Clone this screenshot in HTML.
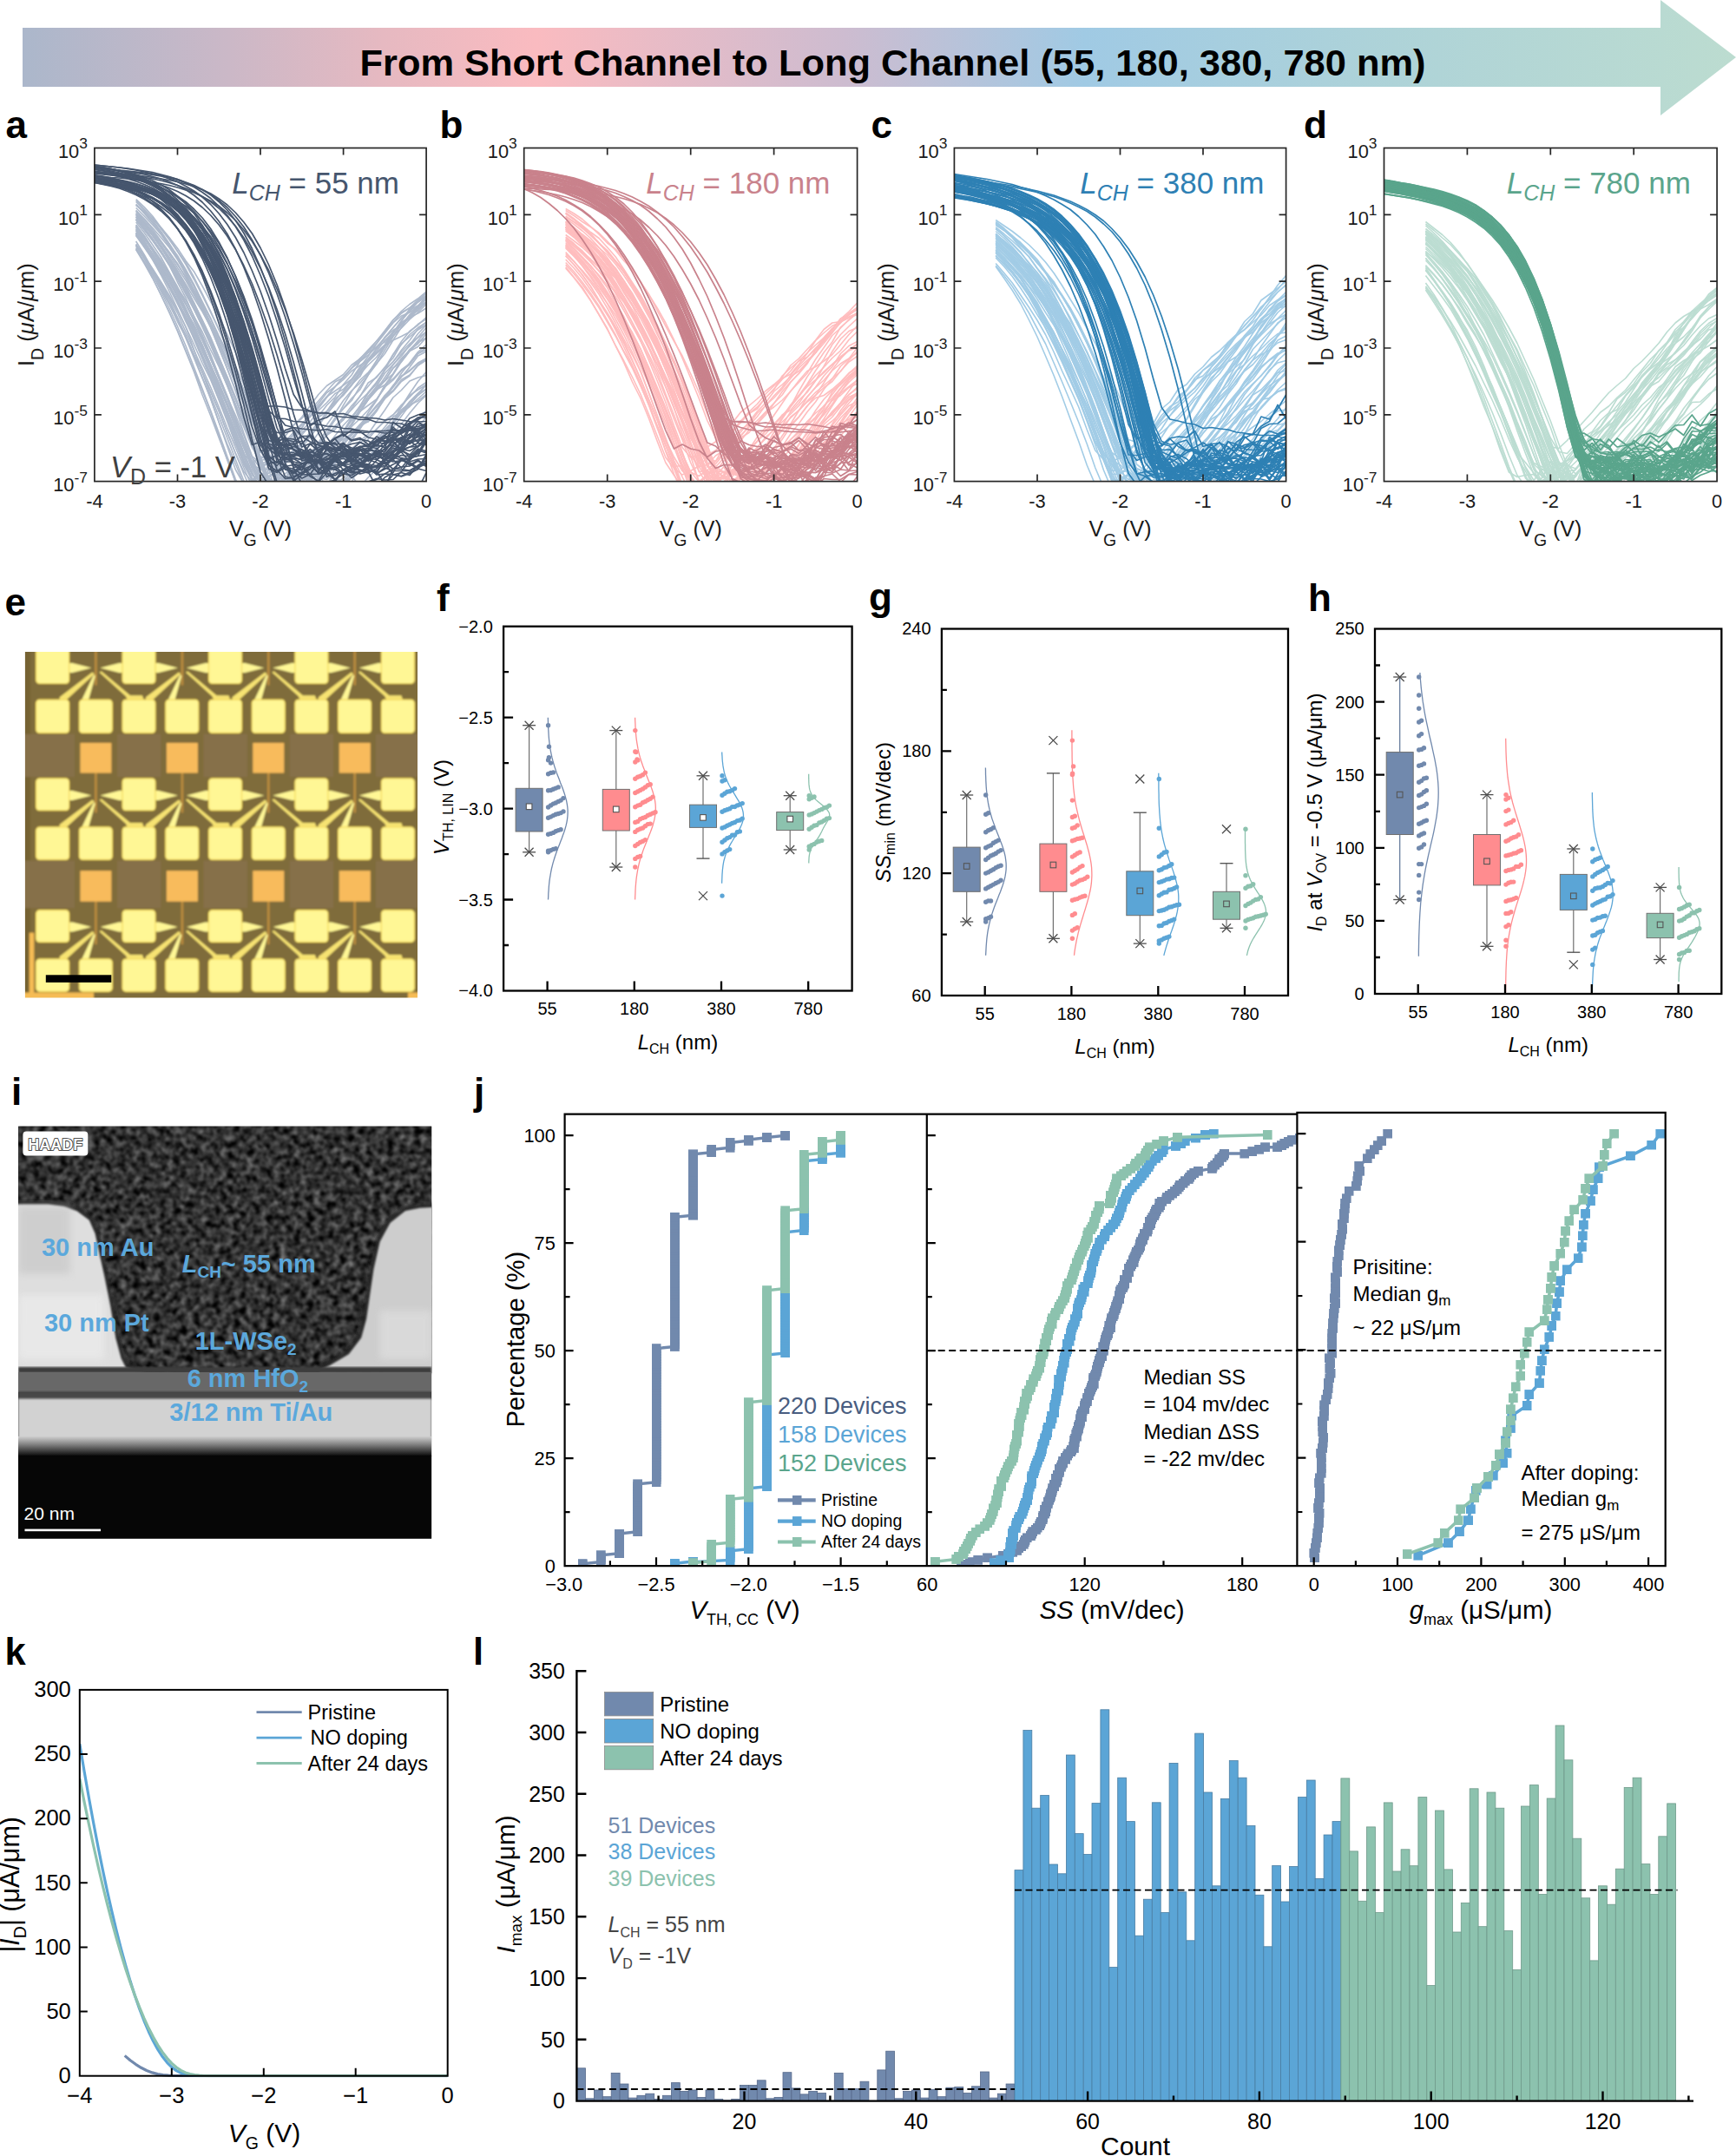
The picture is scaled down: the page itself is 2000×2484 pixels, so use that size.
<!DOCTYPE html>
<html><head><meta charset="utf-8"><title>Figure</title>
<style>html,body{margin:0;padding:0;background:#fff}svg{display:block}text{font-family:"Liberation Sans", Arial, Helvetica, sans-serif}</style>
</head><body>
<svg width="2000" height="2484" viewBox="0 0 2000 2484">
<rect width="2000" height="2484" fill="#fff"/>
<defs><linearGradient id="hg" gradientUnits="userSpaceOnUse" x1="26" y1="0" x2="2000" y2="0"><stop offset="0" stop-color="#ABB7CB"/><stop offset="0.12" stop-color="#CBB8C7"/><stop offset="0.21" stop-color="#E6B9C1"/><stop offset="0.30" stop-color="#FABBC0"/><stop offset="0.48" stop-color="#CDBCD0"/><stop offset="0.62" stop-color="#A0CAE4"/><stop offset="0.80" stop-color="#AED3D8"/><stop offset="1" stop-color="#BCDCD0"/></linearGradient></defs>
<path d="M26 32H1913V0L2000 66L1913 133V100H26Z" fill="url(#hg)"/>
<text x="414.5" y="87.3" font-size="43" font-weight="bold" textLength="1228" lengthAdjust="spacingAndGlyphs">From Short Channel to Long Channel (55, 180, 380, 780 nm)</text>
<clipPath id="cpa"><rect x="0" y="0" width="40" height="768.2"/></clipPath>
<g clip-path="url(#cpa)" fill="none" stroke="#ADB9CB" stroke-width="1.6" stroke-linejoin="round" transform="translate(108.90,170.50) scale(9.5550,0.5)">
<path vector-effect="non-scaling-stroke" d="M5 234 6 266 7 300 8 338 9 379 10 422 11 469 12 516 13 569 14 617 15 668 16 718 17 770 18 791 19 811 20 820 21 788 22 759 23 762 24 774 25 745 26 740 27 721 28 703 29 687 30 665 31 642 32 624 33 604 34 580 35 551 36 535 37 513 38 499 39 474 40 465"/>
<path vector-effect="non-scaling-stroke" d="M5 164 6 187 7 213 8 239 9 269 10 303 11 334 12 370 13 407 14 453 15 501 16 548 17 596 18 643 19 690 20 720 21 716 22 696 23 676 24 655 25 635 26 617 27 594 28 573 29 550 30 530 31 507 32 489 33 472 34 458 35 438 36 414 37 392 38 374 39 363 40 345"/>
<path vector-effect="non-scaling-stroke" d="M5 187 6 214 7 244 8 279 9 316 10 352 11 395 12 441 13 486 14 531 15 579 16 627 17 679 18 730 19 765 20 798 21 800 22 783 23 775 24 759 25 739 26 727 27 709 28 686 29 663 30 639 31 619 32 597 33 578 34 557 35 546 36 532 37 511 38 497 39 473 40 460"/>
<path vector-effect="non-scaling-stroke" d="M5 195 6 222 7 251 8 283 9 317 10 357 11 400 12 438 13 480 14 520 15 568 16 618 17 669 18 714 19 763 20 761 21 798 22 792 23 777 24 753 25 733 26 705 27 686 28 662 29 641 30 620 31 594 32 573 33 541 34 529 35 505 36 484 37 451 38 435 39 419 40 407"/>
<path vector-effect="non-scaling-stroke" d="M5 144 6 165 7 188 8 214 9 240 10 269 11 297 12 330 13 365 14 408 15 452 16 498 17 543 18 584 19 629 20 675 21 727 22 760 23 735 24 777 25 797 26 767 27 772 28 797 29 760 30 770 31 743 32 718 33 703 34 676 35 649 36 631 37 608 38 584 39 565 40 547"/>
<path vector-effect="non-scaling-stroke" d="M5 190 6 218 7 249 8 283 9 317 10 351 11 393 12 437 13 482 14 527 15 574 16 625 17 677 18 723 19 767 20 794 21 769 22 785 23 787 24 794 25 773 26 782 27 765 28 727 29 727 30 699 31 668 32 646 33 610 34 582 35 546 36 521 37 491 38 464 39 448 40 439"/>
<path vector-effect="non-scaling-stroke" d="M5 181 6 205 7 233 8 261 9 296 10 327 11 361 12 399 13 441 14 487 15 532 16 578 17 629 18 676 19 722 20 749 21 756 22 747 23 729 24 699 25 683 26 659 27 636 28 608 29 578 30 562 31 539 32 517 33 490 34 473 35 456 36 432 37 407 38 387 39 368 40 348"/>
<path vector-effect="non-scaling-stroke" d="M5 180 6 207 7 236 8 269 9 306 10 344 11 381 12 424 13 466 14 511 15 557 16 611 17 668 18 723 19 761 20 774 21 784 22 797 23 785 24 807 25 813 26 777 27 781 28 769 29 781 30 777 31 753 32 735 33 711 34 691 35 658 36 634 37 610 38 596 39 578 40 561"/>
<path vector-effect="non-scaling-stroke" d="M5 188 6 210 7 233 8 262 9 289 10 322 11 351 12 388 13 424 14 465 15 504 16 547 17 593 18 640 19 682 20 711 21 717 22 709 23 692 24 671 25 651 26 631 27 605 28 587 29 566 30 556 31 534 32 513 33 493 34 474 35 456 36 443 37 434 38 424 39 406 40 394"/>
<path vector-effect="non-scaling-stroke" d="M5 230 6 263 7 299 8 338 9 377 10 420 11 466 12 513 13 559 14 608 15 663 16 718 17 769 18 778 19 767 20 742 21 721 22 706 23 688 24 659 25 638 26 620 27 600 28 575 29 550 30 534 31 514 32 501 33 488 34 471 35 453 36 423 37 408 38 387 39 375 40 355"/>
<path vector-effect="non-scaling-stroke" d="M5 191 6 217 7 244 8 276 9 306 10 340 11 374 12 418 13 458 14 500 15 544 16 592 17 644 18 691 19 740 20 774 21 815 22 810 23 801 24 802 25 783 26 750 27 725 28 700 29 676 30 653 31 621 32 595 33 565 34 544 35 512 36 476 37 446 38 422 39 408 40 390"/>
<path vector-effect="non-scaling-stroke" d="M5 202 6 229 7 257 8 288 9 322 10 359 11 395 12 433 13 476 14 522 15 564 16 607 17 654 18 704 19 747 20 785 21 740 22 802 23 795 24 808 25 785 26 781 27 777 28 723 29 725 30 700 31 675 32 643 33 617 34 593 35 575 36 549 37 519 38 495 39 470 40 453"/>
<path vector-effect="non-scaling-stroke" d="M5 177 6 202 7 232 8 262 9 295 10 332 11 374 12 417 13 459 14 507 15 559 16 614 17 669 18 721 19 748 20 787 21 764 22 776 23 771 24 768 25 762 26 794 27 812 28 779 29 763 30 794 31 755 32 781 33 759 34 741 35 721 36 698 37 684 38 664 39 643 40 620"/>
<path vector-effect="non-scaling-stroke" d="M5 159 6 183 7 209 8 239 9 270 10 309 11 345 12 389 13 431 14 476 15 525 16 574 17 632 18 684 19 733 20 738 21 742 22 726 23 703 24 683 25 656 26 641 27 618 28 593 29 574 30 545 31 523 32 492 33 477 34 459 35 447 36 426 37 399 38 371 39 350 40 342"/>
<path vector-effect="non-scaling-stroke" d="M5 144 6 163 7 184 8 206 9 229 10 257 11 289 12 327 13 363 14 403 15 445 16 489 17 530 18 577 19 621 20 676 21 725 22 763 23 796 24 808 25 788 26 762 27 755 28 737 29 714 30 684 31 662 32 641 33 624 34 604 35 578 36 561 37 538 38 525 39 501 40 486"/>
<path vector-effect="non-scaling-stroke" d="M5 198 6 220 7 244 8 272 9 306 10 341 11 375 12 407 13 444 14 486 15 530 16 574 17 616 18 663 19 712 20 761 21 773 22 783 23 766 24 799 25 773 26 742 27 745 28 727 29 713 30 681 31 657 32 638 33 631 34 607 35 577 36 551 37 526 38 512 39 495 40 485"/>
<path vector-effect="non-scaling-stroke" d="M5 138 6 157 7 177 8 199 9 226 10 254 11 287 12 316 13 358 14 394 15 436 16 472 17 519 18 570 19 622 20 673 21 721 22 767 23 805 24 798 25 768 26 757 27 726 28 707 29 684 30 664 31 636 32 608 33 580 34 557 35 529 36 500 37 475 38 457 39 436 40 414"/>
<path vector-effect="non-scaling-stroke" d="M5 146 6 169 7 195 8 224 9 252 10 283 11 317 12 359 13 401 14 445 15 492 16 542 17 593 18 638 19 680 20 702 21 689 22 678 23 655 24 639 25 620 26 594 27 568 28 548 29 535 30 522 31 500 32 486 33 465 34 445 35 421 36 396 37 379 38 369 39 355 40 340"/>
<path vector-effect="non-scaling-stroke" d="M5 197 6 223 7 252 8 283 9 314 10 353 11 387 12 428 13 467 14 513 15 561 16 605 17 652 18 701 19 749 20 788 21 801 22 805 23 782 24 753 25 723 26 704 27 682 28 650 29 622 30 601 31 582 32 550 33 523 34 498 35 466 36 435 37 406 38 389 39 365 40 349"/>
<path vector-effect="non-scaling-stroke" d="M5 201 6 225 7 249 8 277 9 308 10 343 11 376 12 415 13 455 14 499 15 541 16 587 17 635 18 682 19 727 20 777 21 770 22 802 23 807 24 786 25 796 26 801 27 796 28 780 29 786 30 776 31 760 32 729 33 712 34 694 35 678 36 658 37 636 38 611 39 588 40 570"/>
<path vector-effect="non-scaling-stroke" d="M5 199 6 224 7 253 8 282 9 320 10 351 11 390 12 422 13 468 14 510 15 562 16 609 17 662 18 706 19 724 20 717 21 704 22 682 23 664 24 638 25 623 26 604 27 583 28 560 29 539 30 529 31 508 32 492 33 469 34 451 35 422 36 397 37 376 38 360 39 347 40 331"/>
<path vector-effect="non-scaling-stroke" d="M5 195 6 226 7 257 8 292 9 330 10 371 11 413 12 465 13 517 14 571 15 619 16 668 17 718 18 767 19 815 20 802 21 820 22 820 23 820 24 794 25 790 26 762 27 739 28 709 29 684 30 656 31 626 32 607 33 593 34 579 35 552 36 522 37 492 38 468 39 444 40 423"/>
<path vector-effect="non-scaling-stroke" d="M5 159 6 179 7 202 8 228 9 258 10 289 11 323 12 357 13 398 14 439 15 483 16 527 17 574 18 626 19 680 20 731 21 772 22 806 23 810 24 792 25 781 26 765 27 755 28 733 29 705 30 675 31 658 32 643 33 628 34 603 35 573 36 547 37 526 38 514 39 497 40 485"/>
<path vector-effect="non-scaling-stroke" d="M5 222 6 251 7 281 8 311 9 344 10 380 11 424 12 467 13 508 14 551 15 597 16 645 17 690 18 737 19 781 20 798 21 820 22 820 23 817 24 820 25 817 26 806 27 805 28 783 29 776 30 760 31 744 32 726 33 697 34 677 35 657 36 644 37 618 38 592 39 570 40 555"/>
<path vector-effect="non-scaling-stroke" d="M5 215 6 246 7 280 8 315 9 349 10 390 11 432 12 479 13 528 14 578 15 632 16 682 17 728 18 775 19 800 20 787 21 777 22 781 23 758 24 738 25 707 26 682 27 657 28 638 29 611 30 582 31 559 32 542 33 519 34 490 35 459 36 433 37 415 38 395 39 379 40 360"/>
<path vector-effect="non-scaling-stroke" d="M5 233 6 262 7 293 8 326 9 360 10 397 11 433 12 477 13 516 14 560 15 605 16 657 17 703 18 746 19 769 20 792 21 786 22 802 23 761 24 784 25 780 26 809 27 787 28 792 29 763 30 774 31 752 32 730 33 703 34 684 35 656 36 630 37 596 38 566 39 538 40 516"/>
<path vector-effect="non-scaling-stroke" d="M5 132 6 147 7 164 8 183 9 206 10 231 11 260 12 285 13 318 14 354 15 389 16 429 17 471 18 519 19 568 20 616 21 668 22 718 23 738 24 764 25 765 26 749 27 761 28 727 29 703 30 718 31 692 32 680 33 664 34 648 35 630 36 615 37 597 38 570 39 557 40 546"/>
<path vector-effect="non-scaling-stroke" d="M5 118 6 136 7 157 8 183 9 207 10 238 11 264 12 298 13 336 14 376 15 418 16 463 17 511 18 559 19 606 20 655 21 705 22 733 23 791 24 820 25 788 26 804 27 794 28 780 29 749 30 748 31 741 32 722 33 689 34 673 35 649 36 630 37 603 38 587 39 567 40 556"/>
<path vector-effect="non-scaling-stroke" d="M5 150 6 173 7 199 8 227 9 261 10 296 11 333 12 372 13 412 14 454 15 496 16 544 17 600 18 657 19 710 20 727 21 722 22 711 23 702 24 688 25 661 26 639 27 621 28 607 29 586 30 569 31 545 32 518 33 489 34 468 35 443 36 425 37 405 38 393 39 371 40 356"/>
<path vector-effect="non-scaling-stroke" d="M5 130 6 151 7 173 8 196 9 223 10 255 11 292 12 329 13 370 14 413 15 461 16 509 17 560 18 616 19 673 20 727 21 769 22 777 23 809 24 820 25 795 26 766 27 766 28 756 29 724 30 731 31 712 32 695 33 671 34 648 35 628 36 615 37 592 38 574 39 553 40 540"/>
<path vector-effect="non-scaling-stroke" d="M5 121 6 141 7 161 8 186 9 211 10 238 11 268 12 303 13 340 14 379 15 419 16 458 17 502 18 545 19 591 20 635 21 674 22 684 23 678 24 661 25 646 26 610 27 589 28 564 29 550 30 527 31 507 32 485 33 468 34 445 35 424 36 402 37 381 38 368 39 350 40 333"/>
<path vector-effect="non-scaling-stroke" d="M5 171 6 195 7 223 8 251 9 286 10 320 11 358 12 395 13 436 14 481 15 528 16 577 17 626 18 673 19 713 20 738 21 720 22 705 23 690 24 667 25 644 26 618 27 597 28 573 29 560 30 547 31 533 32 505 33 480 34 451 35 427 36 403 37 387 38 379 39 365 40 355"/>
<path vector-effect="non-scaling-stroke" d="M5 124 6 144 7 166 8 192 9 220 10 251 11 283 12 320 13 362 14 405 15 449 16 491 17 541 18 593 19 646 20 696 21 738 22 759 23 762 24 771 25 750 26 767 27 748 28 785 29 735 30 757 31 772 32 722 33 734 34 742 35 719 36 690 37 671 38 647 39 623 40 605"/>
<path vector-effect="non-scaling-stroke" d="M5 163 6 185 7 209 8 236 9 267 10 297 11 336 12 372 13 411 14 450 15 489 16 532 17 578 18 625 19 672 20 718 21 759 22 780 23 771 24 755 25 743 26 714 27 686 28 660 29 644 30 627 31 600 32 572 33 549 34 527 35 507 36 476 37 453 38 430 39 414 40 402"/>
<path vector-effect="non-scaling-stroke" d="M5 178 6 204 7 235 8 265 9 296 10 330 11 369 12 411 13 453 14 500 15 547 16 593 17 643 18 690 19 728 20 764 21 749 22 738 23 715 24 695 25 680 26 666 27 640 28 614 29 588 30 570 31 547 32 521 33 500 34 482 35 456 36 425 37 402 38 390 39 381 40 369"/>
<path vector-effect="non-scaling-stroke" d="M5 184 6 206 7 231 8 258 9 289 10 323 11 358 12 398 13 435 14 479 15 525 16 571 17 622 18 673 19 723 20 757 21 809 22 810 23 777 24 764 25 745 26 738 27 719 28 700 29 678 30 655 31 624 32 595 33 563 34 540 35 512 36 493 37 466 38 443 39 417 40 401"/>
<path vector-effect="non-scaling-stroke" d="M5 166 6 189 7 213 8 241 9 269 10 300 11 336 12 369 13 409 14 446 15 492 16 533 17 579 18 626 19 678 20 723 21 765 22 788 23 779 24 820 25 808 26 802 27 759 28 764 29 747 30 752 31 731 32 716 33 688 34 666 35 643 36 620 37 607 38 592 39 583 40 568"/>
<path vector-effect="non-scaling-stroke" d="M5 154 6 177 7 201 8 228 9 259 10 293 11 327 12 363 13 403 14 445 15 492 16 541 17 590 18 636 19 684 20 735 21 727 22 745 23 718 24 709 25 683 26 654 27 632 28 613 29 591 30 566 31 545 32 527 33 491 34 462 35 437 36 420 37 408 38 384 39 365 40 340"/>
<path vector-effect="non-scaling-stroke" d="M5 222 6 251 7 283 8 318 9 355 10 393 11 438 12 484 13 531 14 577 15 632 16 687 17 741 18 775 19 767 20 812 21 792 22 751 23 796 24 797 25 747 26 744 27 754 28 759 29 727 30 711 31 695 32 675 33 659 34 631 35 604 36 575 37 558 38 537 39 529 40 524"/>
<path vector-effect="non-scaling-stroke" d="M5 159 6 179 7 202 8 230 9 256 10 288 11 320 12 357 13 396 14 436 15 482 16 528 17 580 18 628 19 682 20 732 21 777 22 786 23 774 24 757 25 740 26 709 27 679 28 649 29 627 30 593 31 561 32 535 33 517 34 497 35 474 36 443 37 413 38 387 39 368 40 345"/>
<path vector-effect="non-scaling-stroke" d="M5 226 6 255 7 286 8 321 9 359 10 400 11 436 12 476 13 516 14 562 15 607 16 655 17 704 18 751 19 794 20 789 21 820 22 820 23 811 24 804 25 820 26 785 27 795 28 810 29 787 30 769 31 746 32 722 33 700 34 681 35 659 36 636 37 610 38 587 39 569 40 544"/>
<path vector-effect="non-scaling-stroke" d="M5 166 6 189 7 213 8 238 9 268 10 301 11 332 12 367 13 403 14 445 15 488 16 533 17 577 18 624 19 670 20 720 21 766 22 802 23 815 24 789 25 781 26 755 27 742 28 708 29 684 30 652 31 628 32 605 33 578 34 549 35 519 36 499 37 480 38 454 39 428 40 408"/>
<path vector-effect="non-scaling-stroke" d="M5 130 6 149 7 170 8 194 9 221 10 248 11 280 12 315 13 354 14 392 15 433 16 471 17 513 18 557 19 605 20 652 21 701 22 748 23 771 24 787 25 792 26 769 27 762 28 732 29 725 30 703 31 674 32 648 33 618 34 596 35 570 36 551 37 528 38 505 39 479 40 469"/>
<path vector-effect="non-scaling-stroke" d="M5 183 6 208 7 237 8 269 9 301 10 337 11 375 12 417 13 460 14 506 15 557 16 608 17 660 18 709 19 754 20 768 21 728 22 767 23 750 24 740 25 757 26 730 27 720 28 697 29 682 30 660 31 635 32 600 33 572 34 550 35 536 36 507 37 493 38 468 39 458 40 437"/>
<path vector-effect="non-scaling-stroke" d="M5 153 6 172 7 194 8 217 9 240 10 266 11 299 12 335 13 371 14 402 15 439 16 480 17 526 18 569 19 614 20 660 21 707 22 739 23 763 24 757 25 734 26 715 27 693 28 659 29 624 30 600 31 577 32 557 33 523 34 491 35 455 36 427 37 398 38 376 39 355 40 342"/>
<path vector-effect="non-scaling-stroke" d="M5 156 6 177 7 200 8 224 9 252 10 283 11 314 12 346 13 377 14 412 15 453 16 495 17 539 18 582 19 625 20 671 21 717 22 759 23 792 24 789 25 782 26 750 27 732 28 711 29 689 30 666 31 637 32 608 33 580 34 559 35 536 36 508 37 485 38 466 39 451 40 428"/>
<path vector-effect="non-scaling-stroke" d="M5 151 6 170 7 192 8 218 9 245 10 276 11 305 12 339 13 374 14 414 15 459 16 508 17 557 18 606 19 658 20 711 21 760 22 774 23 758 24 746 25 728 26 704 27 680 28 662 29 649 30 622 31 603 32 582 33 564 34 540 35 511 36 492 37 470 38 451 39 437 40 424"/>
<path vector-effect="non-scaling-stroke" d="M5 200 6 226 7 254 8 285 9 318 10 352 11 390 12 427 13 467 14 507 15 551 16 596 17 643 18 690 19 734 20 769 21 759 22 745 23 724 24 714 25 690 26 666 27 638 28 607 29 582 30 560 31 533 32 509 33 486 34 463 35 436 36 414 37 392 38 374 39 354 40 335"/>
<path vector-effect="non-scaling-stroke" d="M5 224 6 251 7 278 8 308 9 339 10 374 11 412 12 453 13 496 14 534 15 581 16 630 17 682 18 726 19 761 20 787 21 794 22 783 23 777 24 762 25 763 26 741 27 727 28 700 29 680 30 656 31 639 32 607 33 579 34 554 35 537 36 520 37 488 38 466 39 445 40 438"/>
<path vector-effect="non-scaling-stroke" d="M5 223 6 255 7 291 8 330 9 369 10 411 11 456 12 506 13 555 14 605 15 657 16 711 17 763 18 807 19 820 20 808 21 820 22 820 23 816 24 798 25 777 26 760 27 730 28 707 29 684 30 671 31 659 32 637 33 616 34 595 35 574 36 559 37 534 38 523 39 501 40 489"/>
</g>
<g clip-path="url(#cpa)" fill="none" stroke="#46566E" stroke-width="1.7" stroke-linejoin="round" transform="translate(108.90,170.50) scale(9.5550,0.5)">
<path vector-effect="non-scaling-stroke" d="M0 68 1 71 2 74 3 78 4 83 5 89 6 96 7 105 8 115 9 128 10 144 11 163 12 186 13 213 14 246 15 284 16 328 17 379 18 435 19 498 20 565 21 635 22 656 23 656 24 650 25 689 26 681 27 684 28 690 29 695 30 694 31 703 32 728 33 708 34 708 35 693 36 632 37 645 38 633 39 622 40 616"/>
<path vector-effect="non-scaling-stroke" d="M0 43 1 45 2 48 3 52 4 56 5 61 6 67 7 75 8 85 9 96 10 111 11 129 12 151 13 178 14 210 15 248 16 293 17 345 18 403 19 468 20 539 21 612 22 672 23 691 24 694 25 708 26 725 27 750 28 736 29 765 30 741 31 731 32 732 33 738 34 734 35 726 36 753 37 756 38 747 39 740 40 711"/>
<path vector-effect="non-scaling-stroke" d="M0 65 1 67 2 70 3 74 4 78 5 83 6 89 7 97 8 107 9 118 10 133 11 151 12 173 13 199 14 231 15 270 16 314 17 366 18 424 19 488 20 555 21 605 22 623 23 624 24 630 25 631 26 635 27 637 28 641 29 642 30 646 31 647 32 651 33 653 34 654 35 657 36 655 37 658 38 648 39 629 40 647"/>
<path vector-effect="non-scaling-stroke" d="M0 73 1 76 2 80 3 84 4 89 5 96 6 105 7 115 8 128 9 144 10 164 11 189 12 219 13 255 14 298 15 348 16 405 17 470 18 541 19 617 20 694 21 731 22 745 23 731 24 748 25 727 26 726 27 719 28 727 29 709 30 703 31 728 32 744 33 749 34 739 35 718 36 712 37 689 38 664 39 658 40 647"/>
<path vector-effect="non-scaling-stroke" d="M0 44 1 47 2 50 3 54 4 59 5 66 6 73 7 83 8 94 9 109 10 128 11 151 12 179 13 212 14 252 15 299 16 353 17 414 18 481 19 554 20 632 21 707 22 771 23 782 24 811 25 793 26 788 27 796 28 781 29 769 30 740 31 744 32 751 33 746 34 781 35 759 36 748 37 714 38 718 39 703 40 670"/>
<path vector-effect="non-scaling-stroke" d="M0 75 1 77 2 80 3 82 4 86 5 90 6 94 7 100 8 107 9 117 10 128 11 142 12 160 13 182 14 209 15 242 16 281 17 327 18 380 19 439 20 506 21 578 22 645 23 684 24 679 25 704 26 720 27 723 28 711 29 703 30 682 31 691 32 693 33 705 34 716 35 711 36 691 37 698 38 689 39 680 40 682"/>
<path vector-effect="non-scaling-stroke" d="M0 59 1 61 2 63 3 65 4 68 5 71 6 75 7 80 8 85 9 92 10 100 11 110 12 122 13 137 14 155 15 177 16 203 17 234 18 271 19 313 20 362 21 416 22 477 23 543 24 613 25 673 26 723 27 751 28 749 29 755 30 741 31 749 32 746 33 734 34 751 35 737 36 744 37 744 38 744 39 734 40 724"/>
<path vector-effect="non-scaling-stroke" d="M0 70 1 73 2 76 3 79 4 83 5 88 6 95 7 103 8 113 9 125 10 141 11 161 12 185 13 215 14 251 15 294 16 344 17 402 18 467 19 538 20 614 21 674 22 679 23 666 24 695 25 709 26 682 27 698 28 687 29 670 30 694 31 713 32 694 33 697 34 683 35 691 36 683 37 671 38 659 39 679 40 648"/>
<path vector-effect="non-scaling-stroke" d="M0 57 1 59 2 62 3 65 4 68 5 72 6 77 7 83 8 91 9 100 10 111 11 124 12 141 13 161 14 186 15 217 16 253 17 296 18 346 19 403 20 469 21 541 22 619 23 691 24 736 25 735 26 757 27 767 28 737 29 741 30 730 31 740 32 741 33 746 34 744 35 775 36 753 37 748 38 754 39 731 40 720"/>
<path vector-effect="non-scaling-stroke" d="M0 39 1 41 2 43 3 45 4 48 5 51 6 55 7 59 8 64 9 71 10 78 11 88 12 99 13 113 14 130 15 151 16 176 17 206 18 241 19 283 20 330 21 384 22 444 23 509 24 568 25 598 26 606 27 611 28 611 29 613 30 612 31 618 32 620 33 622 34 623 35 627 36 624 37 627 38 630 39 631 40 630"/>
<path vector-effect="non-scaling-stroke" d="M0 49 1 52 2 55 3 60 4 65 5 71 6 78 7 87 8 98 9 111 10 127 11 146 12 170 13 197 14 230 15 269 16 314 17 365 18 422 19 487 20 557 21 633 22 711 23 758 24 760 25 747 26 740 27 722 28 717 29 705 30 732 31 736 32 731 33 730 34 706 35 704 36 719 37 698 38 707 39 687 40 667"/>
<path vector-effect="non-scaling-stroke" d="M0 68 1 70 2 73 3 77 4 81 5 86 6 92 7 100 8 110 9 123 10 138 11 158 12 182 13 211 14 246 15 288 16 337 17 393 18 456 19 525 20 601 21 680 22 742 23 762 24 760 25 795 26 776 27 776 28 771 29 765 30 789 31 771 32 776 33 769 34 762 35 765 36 764 37 746 38 720 39 701 40 679"/>
<path vector-effect="non-scaling-stroke" d="M0 47 1 50 2 53 3 57 4 62 5 68 6 75 7 84 8 95 9 109 10 126 11 146 12 171 13 201 14 237 15 278 16 327 17 382 18 445 19 513 20 587 21 655 22 684 23 697 24 688 25 695 26 716 27 695 28 685 29 698 30 712 31 703 32 688 33 698 34 674 35 662 36 648 37 655 38 634 39 626 40 615"/>
<path vector-effect="non-scaling-stroke" d="M0 75 1 79 2 84 3 89 4 96 5 105 6 115 7 128 8 143 9 162 10 186 11 214 12 248 13 288 14 335 15 389 16 450 17 517 18 592 19 672 20 747 21 777 22 776 23 788 24 774 25 777 26 777 27 795 28 806 29 780 30 771 31 778 32 777 33 772 34 798 35 798 36 789 37 794 38 772 39 787 40 748"/>
<path vector-effect="non-scaling-stroke" d="M0 46 1 48 2 50 3 52 4 55 5 58 6 61 7 66 8 71 9 78 10 86 11 96 12 109 13 125 14 145 15 169 16 198 17 233 18 275 19 323 20 378 21 440 22 507 23 580 24 656 25 721 26 715 27 739 28 734 29 719 30 742 31 741 32 731 33 740 34 720 35 700 36 675 37 698 38 677 39 664 40 685"/>
<path vector-effect="non-scaling-stroke" d="M0 62 1 65 2 69 3 74 4 79 5 86 6 95 7 105 8 118 9 134 10 153 11 177 12 206 13 241 14 282 15 330 16 385 17 448 18 517 19 593 20 668 21 727 22 723 23 730 24 767 25 753 26 752 27 770 28 748 29 718 30 711 31 697 32 688 33 688 34 692 35 710 36 711 37 697 38 707 39 704 40 673"/>
<path vector-effect="non-scaling-stroke" d="M0 72 1 76 2 80 3 84 4 90 5 97 6 105 7 115 8 128 9 144 10 163 11 186 12 214 13 247 14 286 15 331 16 383 17 440 18 504 19 574 20 648 21 724 22 780 23 799 24 806 25 802 26 798 27 812 28 820 29 820 30 820 31 820 32 820 33 818 34 789 35 784 36 739 37 740 38 743 39 732 40 729"/>
<path vector-effect="non-scaling-stroke" d="M0 77 1 80 2 84 3 88 4 94 5 100 6 108 7 117 8 128 9 142 10 159 11 179 12 204 13 233 14 267 15 307 16 353 17 406 18 466 19 531 20 601 21 659 22 679 23 689 24 683 25 675 26 706 27 713 28 733 29 711 30 728 31 701 32 696 33 699 34 674 35 664 36 668 37 684 38 669 39 656 40 682"/>
<path vector-effect="non-scaling-stroke" d="M0 55 1 56 2 58 3 59 4 61 5 63 6 65 7 68 8 71 9 74 10 78 11 83 12 89 13 96 14 105 15 117 16 131 17 149 18 171 19 197 20 230 21 269 22 315 23 369 24 431 25 500 26 576 27 644 28 686 29 694 30 686 31 709 32 704 33 711 34 703 35 719 36 699 37 694 38 698 39 687 40 667"/>
<path vector-effect="non-scaling-stroke" d="M0 39 1 41 2 43 3 45 4 47 5 50 6 53 7 56 8 61 9 66 10 72 11 80 12 90 13 102 14 116 15 134 16 155 17 181 18 212 19 249 20 293 21 342 22 399 23 461 24 530 25 594 26 640 27 627 28 621 29 607 30 664 31 650 32 653 33 667 34 671 35 676 36 668 37 656 38 645 39 647 40 639"/>
<path vector-effect="non-scaling-stroke" d="M0 64 1 67 2 70 3 73 4 77 5 82 6 88 7 95 8 104 9 115 10 128 11 145 12 165 13 189 14 219 15 255 16 296 17 344 18 400 19 461 20 530 21 603 22 678 23 727 24 757 25 749 26 734 27 718 28 696 29 695 30 700 31 715 32 726 33 715 34 718 35 728 36 713 37 719 38 728 39 739 40 744"/>
<path vector-effect="non-scaling-stroke" d="M0 55 1 57 2 58 3 60 4 63 5 65 6 68 7 71 8 75 9 80 10 86 11 93 12 101 13 112 14 124 15 139 16 158 17 180 18 207 19 239 20 277 21 321 22 372 23 429 24 494 25 565 26 641 27 706 28 758 29 750 30 742 31 760 32 747 33 736 34 734 35 735 36 716 37 708 38 711 39 693 40 698"/>
<path vector-effect="non-scaling-stroke" d="M0 76 1 78 2 81 3 85 4 89 5 94 6 100 7 107 8 117 9 128 10 142 11 159 12 181 13 206 14 238 15 275 16 319 17 370 18 429 19 496 20 570 21 649 22 716 23 734 24 730 25 743 26 714 27 725 28 692 29 702 30 687 31 721 32 724 33 732 34 736 35 720 36 704 37 674 38 682 39 661 40 645"/>
<path vector-effect="non-scaling-stroke" d="M0 64 1 66 2 68 3 69 4 71 5 74 6 76 7 79 8 82 9 86 10 91 11 97 12 103 13 112 14 122 15 134 16 149 17 167 18 189 19 215 20 246 21 282 22 325 23 373 24 427 25 488 26 554 27 623 28 666 29 694 30 689 31 682 32 678 33 687 34 675 35 668 36 660 37 648 38 623 39 615 40 609"/>
<path vector-effect="non-scaling-stroke" d="M0 64 1 67 2 71 3 75 4 80 5 87 6 94 7 104 8 115 9 129 10 145 11 165 12 190 13 219 14 253 15 292 16 338 17 391 18 449 19 514 20 585 21 659 22 703 23 708 24 710 25 702 26 707 27 743 28 723 29 721 30 715 31 725 32 706 33 703 34 711 35 705 36 684 37 666 38 668 39 650 40 642"/>
<path vector-effect="non-scaling-stroke" d="M0 68 1 72 2 77 3 83 4 90 5 99 6 109 7 123 8 140 9 160 10 185 11 216 12 252 13 295 14 346 15 404 16 470 17 543 18 620 19 684 20 677 21 692 22 695 23 669 24 671 25 682 26 660 27 680 28 678 29 683 30 681 31 696 32 695 33 697 34 698 35 712 36 697 37 679 38 675 39 666 40 659"/>
<path vector-effect="non-scaling-stroke" d="M0 77 1 80 2 83 3 88 4 93 5 99 6 107 7 116 8 128 9 142 10 160 11 181 12 207 13 239 14 276 15 320 16 372 17 430 18 497 19 570 20 649 21 710 22 726 23 701 24 702 25 714 26 699 27 708 28 678 29 690 30 695 31 695 32 709 33 716 34 699 35 695 36 673 37 672 38 675 39 675 40 672"/>
<path vector-effect="non-scaling-stroke" d="M0 74 1 78 2 81 3 86 4 91 5 98 6 106 7 115 8 127 9 141 10 159 11 180 12 206 13 236 14 272 15 314 16 362 17 417 18 478 19 545 20 617 21 684 22 702 23 704 24 708 25 695 26 702 27 690 28 683 29 670 30 660 31 673 32 668 33 683 34 674 35 670 36 651 37 650 38 640 39 661 40 669"/>
<path vector-effect="non-scaling-stroke" d="M0 78 1 81 2 83 3 86 4 89 5 93 6 98 7 104 8 111 9 120 10 131 11 144 12 160 13 180 14 204 15 233 16 267 17 306 18 352 19 405 20 463 21 527 22 597 23 670 24 738 25 774 26 781 27 772 28 776 29 776 30 778 31 777 32 777 33 771 34 764 35 751 36 752 37 757 38 750 39 740 40 706"/>
<path vector-effect="non-scaling-stroke" d="M0 42 1 45 2 48 3 52 4 58 5 64 6 72 7 82 8 95 9 111 10 132 11 157 12 188 13 225 14 270 15 322 16 383 17 451 18 527 19 609 20 683 21 716 22 708 23 719 24 716 25 727 26 724 27 724 28 747 29 711 30 730 31 728 32 729 33 735 34 748 35 716 36 707 37 701 38 723 39 717 40 716"/>
<path vector-effect="non-scaling-stroke" d="M0 75 1 77 2 80 3 84 4 88 5 93 6 99 7 107 8 117 9 129 10 145 11 165 12 190 13 220 14 258 15 303 16 356 17 417 18 486 19 563 20 643 21 718 22 732 23 712 24 728 25 736 26 711 27 707 28 732 29 722 30 730 31 747 32 734 33 739 34 735 35 715 36 707 37 715 38 731 39 719 40 734"/>
<path vector-effect="non-scaling-stroke" d="M0 68 1 70 2 73 3 77 4 81 5 87 6 93 7 101 8 112 9 124 10 140 11 160 12 184 13 214 14 249 15 291 16 341 17 397 18 460 19 530 20 604 21 652 22 674 23 686 24 683 25 704 26 704 27 723 28 737 29 737 30 725 31 710 32 693 33 700 34 675 35 676 36 679 37 694 38 675 39 689 40 670"/>
<path vector-effect="non-scaling-stroke" d="M0 79 1 83 2 87 3 91 4 97 5 104 6 112 7 122 8 135 9 150 10 168 11 190 12 216 13 248 14 285 15 328 16 377 17 433 18 495 19 563 20 634 21 681 22 690 23 723 24 723 25 728 26 718 27 702 28 688 29 711 30 698 31 717 32 725 33 729 34 732 35 718 36 723 37 720 38 718 39 696 40 703"/>
<path vector-effect="non-scaling-stroke" d="M0 78 1 81 2 83 3 86 4 90 5 94 6 99 7 106 8 114 9 124 10 136 11 152 12 172 13 197 14 227 15 263 16 307 17 358 18 418 19 485 20 560 21 642 22 723 23 733 24 750 25 735 26 717 27 718 28 740 29 709 30 729 31 719 32 704 33 722 34 708 35 719 36 702 37 688 38 645 39 653 40 640"/>
<path vector-effect="non-scaling-stroke" d="M0 46 1 48 2 49 3 51 4 53 5 55 6 57 7 60 8 63 9 67 10 72 11 79 12 86 13 96 14 108 15 124 16 143 17 167 18 196 19 232 20 275 21 324 22 381 23 445 24 516 25 592 26 664 27 701 28 705 29 714 30 707 31 705 32 695 33 714 34 702 35 708 36 686 37 694 38 666 39 646 40 642"/>
<path vector-effect="non-scaling-stroke" d="M0 50 1 53 2 56 3 60 4 65 5 70 6 78 7 87 8 98 9 113 10 131 11 154 12 182 13 217 14 259 15 309 16 366 17 432 18 503 19 564 20 588 21 595 22 595 23 597 24 603 25 604 26 607 27 610 28 610 29 618 30 620 31 621 32 626 33 625 34 632 35 632 36 634 37 635 38 644 39 642 40 636"/>
<path vector-effect="non-scaling-stroke" d="M0 73 1 75 2 78 3 82 4 86 5 91 6 98 7 105 8 115 9 126 10 141 11 158 12 180 13 206 14 237 15 274 16 318 17 368 18 425 19 488 20 558 21 629 22 679 23 718 24 712 25 719 26 723 27 713 28 680 29 679 30 705 31 700 32 718 33 708 34 706 35 684 36 672 37 676 38 641 39 665 40 662"/>
<path vector-effect="non-scaling-stroke" d="M0 77 1 79 2 82 3 85 4 89 5 94 6 100 7 107 8 116 9 127 10 140 11 157 12 177 13 202 14 231 15 267 16 309 17 357 18 412 19 475 20 543 21 618 22 694 23 741 24 746 25 761 26 752 27 724 28 727 29 718 30 731 31 706 32 706 33 714 34 698 35 723 36 740 37 720 38 725 39 737 40 727"/>
<path vector-effect="non-scaling-stroke" d="M0 53 1 56 2 59 3 63 4 67 5 73 6 79 7 87 8 97 9 109 10 123 11 141 12 162 13 188 14 219 15 255 16 297 17 346 18 400 19 462 20 529 21 602 22 672 23 715 24 716 25 717 26 709 27 741 28 733 29 731 30 729 31 718 32 698 33 691 34 702 35 699 36 670 37 669 38 661 39 635 40 639"/>
<path vector-effect="non-scaling-stroke" d="M0 80 1 84 2 88 3 93 4 100 5 108 6 118 7 130 8 145 9 163 10 186 11 213 12 246 13 284 14 329 15 380 16 438 17 502 18 571 19 642 20 697 21 698 22 679 23 713 24 708 25 710 26 694 27 711 28 704 29 714 30 696 31 695 32 688 33 685 34 665 35 675 36 673 37 656 38 640 39 652 40 633"/>
<path vector-effect="non-scaling-stroke" d="M0 80 1 83 2 86 3 90 4 95 5 100 6 107 7 116 8 127 9 141 10 158 11 179 12 205 13 236 14 274 15 320 16 373 17 433 18 502 19 576 20 644 21 655 22 676 23 650 24 644 25 665 26 677 27 684 28 696 29 696 30 680 31 696 32 678 33 687 34 687 35 686 36 662 37 651 38 638 39 621 40 621"/>
<path vector-effect="non-scaling-stroke" d="M0 54 1 57 2 59 3 63 4 66 5 71 6 76 7 83 8 91 9 101 10 113 11 128 12 146 13 169 14 196 15 228 16 266 17 311 18 362 19 420 20 484 21 553 22 624 23 669 24 695 25 700 26 711 27 707 28 704 29 714 30 706 31 694 32 694 33 719 34 695 35 677 36 666 37 648 38 647 39 658 40 661"/>
<path vector-effect="non-scaling-stroke" d="M0 77 1 80 2 84 3 88 4 93 5 99 6 106 7 115 8 127 9 141 10 159 11 181 12 209 13 242 14 281 15 328 16 382 17 444 18 513 19 589 20 669 21 739 22 748 23 736 24 739 25 752 26 740 27 722 28 740 29 741 30 752 31 739 32 715 33 744 34 747 35 721 36 718 37 737 38 715 39 709 40 676"/>
<path vector-effect="non-scaling-stroke" d="M0 77 1 79 2 82 3 85 4 88 5 92 6 97 7 104 8 111 9 120 10 132 11 146 12 163 13 185 14 211 15 242 16 279 17 323 18 373 19 429 20 491 21 557 22 615 23 639 24 644 25 647 26 649 27 651 28 648 29 654 30 655 31 655 32 656 33 655 34 652 35 652 36 650 37 654 38 651 39 652 40 657"/>
<path vector-effect="non-scaling-stroke" d="M0 56 1 59 2 62 3 66 4 71 5 77 6 84 7 92 8 103 9 115 10 131 11 151 12 175 13 203 14 238 15 278 16 326 17 380 18 441 19 510 20 584 21 659 22 699 23 741 24 743 25 741 26 733 27 747 28 715 29 721 30 705 31 726 32 708 33 695 34 678 35 682 36 643 37 661 38 681 39 672 40 659"/>
<path vector-effect="non-scaling-stroke" d="M0 79 1 81 2 85 3 88 4 93 5 98 6 105 7 114 8 125 9 138 10 155 11 176 12 202 13 233 14 271 15 315 16 366 17 424 18 488 19 558 20 632 21 692 22 709 23 686 24 695 25 715 26 708 27 738 28 750 29 764 30 751 31 754 32 743 33 741 34 750 35 740 36 729 37 720 38 714 39 710 40 706"/>
<path vector-effect="non-scaling-stroke" d="M0 75 1 77 2 79 3 82 4 85 5 88 6 93 7 98 8 104 9 112 10 122 11 134 12 150 13 169 14 192 15 220 16 254 17 295 18 342 19 396 20 457 21 525 22 599 23 675 24 728 25 731 26 752 27 751 28 743 29 734 30 750 31 739 32 733 33 718 34 725 35 733 36 714 37 693 38 713 39 698 40 700"/>
<path vector-effect="non-scaling-stroke" d="M0 77 1 79 2 82 3 85 4 89 5 94 6 99 7 106 8 115 9 125 10 138 11 154 12 174 13 198 14 227 15 262 16 304 17 353 18 410 19 474 20 544 21 620 22 674 23 671 24 677 25 664 26 664 27 680 28 683 29 668 30 659 31 675 32 671 33 675 34 686 35 667 36 675 37 667 38 681 39 653 40 665"/>
<path vector-effect="non-scaling-stroke" d="M0 47 1 48 2 50 3 52 4 54 5 56 6 59 7 62 8 65 9 69 10 74 11 80 12 87 13 96 14 107 15 121 16 137 17 158 18 182 19 212 20 247 21 288 22 336 23 390 24 451 25 518 26 591 27 657 28 693 29 716 30 707 31 724 32 727 33 733 34 753 35 751 36 740 37 735 38 733 39 721 40 733"/>
<path vector-effect="non-scaling-stroke" d="M0 41 1 44 2 48 3 52 4 57 5 63 6 70 7 79 8 90 9 103 10 119 11 138 12 161 13 188 14 220 15 257 16 301 17 350 18 405 19 466 20 533 21 604 22 664 23 706 24 706 25 709 26 709 27 712 28 720 29 706 30 703 31 719 32 727 33 717 34 711 35 716 36 714 37 695 38 689 39 688 40 676"/>
</g>
<rect x="108.9" y="170.5" width="382.2" height="384.1" fill="none" stroke="#262626" stroke-width="1.7"/>
<text x="108.9" y="584.7" font-size="21.8" text-anchor="middle" fill="#1a1a1a">-4</text>
<text x="204.5" y="584.7" font-size="21.8" text-anchor="middle" fill="#1a1a1a">-3</text>
<text x="300.0" y="584.7" font-size="21.8" text-anchor="middle" fill="#1a1a1a">-2</text>
<text x="395.6" y="584.7" font-size="21.8" text-anchor="middle" fill="#1a1a1a">-1</text>
<text x="491.1" y="584.7" font-size="21.8" text-anchor="middle" fill="#1a1a1a">0</text>
<text x="100.9" y="181.8" font-size="21.8" text-anchor="end" fill="#1a1a1a">10<tspan font-size="17.4" dy="-10.4">3</tspan></text>
<text x="100.9" y="258.6" font-size="21.8" text-anchor="end" fill="#1a1a1a">10<tspan font-size="17.4" dy="-10.4">1</tspan></text>
<text x="100.9" y="335.4" font-size="21.8" text-anchor="end" fill="#1a1a1a">10<tspan font-size="17.4" dy="-10.4">-1</tspan></text>
<text x="100.9" y="412.3" font-size="21.8" text-anchor="end" fill="#1a1a1a">10<tspan font-size="17.4" dy="-10.4">-3</tspan></text>
<text x="100.9" y="489.1" font-size="21.8" text-anchor="end" fill="#1a1a1a">10<tspan font-size="17.4" dy="-10.4">-5</tspan></text>
<text x="100.9" y="565.9" font-size="21.8" text-anchor="end" fill="#1a1a1a">10<tspan font-size="17.4" dy="-10.4">-7</tspan></text>
<path d="M204.5 170.5v8M204.5 554.6v-8M300.0 170.5v8M300.0 554.6v-8M395.6 170.5v8M395.6 554.6v-8M108.9 247.3h8M491.1 247.3h-8M108.9 324.1h8M491.1 324.1h-8M108.9 401.0h8M491.1 401.0h-8M108.9 477.8h8M491.1 477.8h-8" stroke="#262626" stroke-width="1.7" fill="none"/>
<text x="300.0" y="617.7" font-size="25" text-anchor="middle" fill="#1a1a1a">V<tspan font-size="19.5" dy="11.5">G</tspan><tspan dy="-11.5"> (V)</tspan></text>
<text x="39.4" y="362.6" font-size="25.6" text-anchor="middle" fill="#1a1a1a" transform="rotate(-90 39.4 362.6)">I<tspan font-size="19.5" dy="11">D</tspan><tspan dy="-11"> (</tspan><tspan font-style="italic">μ</tspan>A/<tspan font-style="italic">μ</tspan>m)</text>
<text x="460.0" y="222.8" font-size="35" text-anchor="end" fill="#46566E"><tspan font-style="italic">L</tspan><tspan font-style="italic" font-size="25" dy="8">CH</tspan><tspan dy="-8"> = 55 nm</tspan></text>
<text x="6.5" y="159.3" font-size="44" font-weight="bold">a</text>
<clipPath id="cpb"><rect x="0" y="0" width="40" height="768.2"/></clipPath>
<g clip-path="url(#cpb)" fill="none" stroke="#FFBDBE" stroke-width="1.6" stroke-linejoin="round" transform="translate(603.70,170.50) scale(9.5975,0.5)">
<path vector-effect="non-scaling-stroke" d="M5 248 6 269 7 293 8 319 9 351 10 383 11 420 12 459 13 500 14 542 15 588 16 642 17 699 18 751 19 796 20 820 21 804 22 787 23 798 24 787 25 775 26 763 27 740 28 722 29 700 30 673 31 650 32 620 33 605 34 583 35 563 36 547 37 531 38 515 39 489 40 469"/>
<path vector-effect="non-scaling-stroke" d="M5 240 6 261 7 285 8 310 9 337 10 369 11 404 12 441 13 477 14 516 15 566 16 617 17 668 18 720 19 758 20 795 21 782 22 776 23 770 24 752 25 744 26 720 27 700 28 675 29 659 30 636 31 620 32 592 33 570 34 550 35 534 36 518 37 499 38 484 39 467 40 459"/>
<path vector-effect="non-scaling-stroke" d="M5 269 6 290 7 314 8 340 9 368 10 401 11 434 12 471 13 507 14 549 15 592 16 640 17 686 18 730 19 784 20 794 21 769 22 752 23 735 24 714 25 684 26 665 27 640 28 619 29 593 30 576 31 555 32 531 33 507 34 489 35 472 36 443 37 419 38 393 39 384 40 367"/>
<path vector-effect="non-scaling-stroke" d="M5 177 6 191 7 207 8 225 9 240 10 261 11 286 12 312 13 340 14 371 15 409 16 445 17 485 18 525 19 569 20 615 21 667 22 724 23 774 24 791 25 820 26 819 27 820 28 820 29 810 30 810 31 781 32 767 33 742 34 728 35 718 36 698 37 675 38 647 39 629 40 614"/>
<path vector-effect="non-scaling-stroke" d="M5 181 6 194 7 209 8 226 9 245 10 268 11 294 12 318 13 346 14 374 15 412 16 452 17 498 18 544 19 594 20 644 21 697 22 749 23 766 24 788 25 815 26 783 27 769 28 760 29 742 30 724 31 705 32 680 33 661 34 636 35 605 36 579 37 559 38 546 39 528 40 513"/>
<path vector-effect="non-scaling-stroke" d="M5 226 6 244 7 264 8 287 9 310 10 340 11 371 12 406 13 443 14 482 15 525 16 569 17 622 18 678 19 736 20 790 21 820 22 820 23 780 24 820 25 811 26 820 27 820 28 798 29 788 30 788 31 755 32 745 33 733 34 712 35 690 36 666 37 647 38 622 39 602 40 588"/>
<path vector-effect="non-scaling-stroke" d="M5 169 6 183 7 200 8 216 9 236 10 257 11 281 12 307 13 335 14 370 15 402 16 443 17 482 18 525 19 569 20 614 21 670 22 713 23 722 24 703 25 687 26 668 27 656 28 634 29 610 30 597 31 581 32 561 33 536 34 514 35 504 36 491 37 476 38 453 39 430 40 410"/>
<path vector-effect="non-scaling-stroke" d="M5 274 6 298 7 321 8 351 9 384 10 418 11 456 12 495 13 539 14 577 15 624 16 676 17 725 18 754 19 781 20 820 21 820 22 820 23 813 24 804 25 806 26 789 27 761 28 740 29 714 30 693 31 663 32 636 33 605 34 574 35 551 36 525 37 504 38 474 39 456 40 446"/>
<path vector-effect="non-scaling-stroke" d="M5 220 6 238 7 259 8 283 9 305 10 337 11 368 12 403 13 436 14 476 15 523 16 568 17 616 18 667 19 715 20 760 21 788 22 790 23 765 24 804 25 768 26 753 27 778 28 770 29 777 30 758 31 735 32 718 33 696 34 672 35 649 36 624 37 594 38 565 39 550 40 535"/>
<path vector-effect="non-scaling-stroke" d="M5 244 6 262 7 282 8 305 9 331 10 358 11 386 12 421 13 461 14 503 15 546 16 590 17 640 18 689 19 739 20 774 21 806 22 820 23 797 24 788 25 788 26 779 27 773 28 763 29 747 30 732 31 715 32 694 33 667 34 638 35 620 36 594 37 576 38 553 39 531 40 516"/>
<path vector-effect="non-scaling-stroke" d="M5 231 6 250 7 271 8 294 9 321 10 348 11 379 12 415 13 452 14 493 15 537 16 582 17 631 18 680 19 729 20 765 21 791 22 771 23 800 24 778 25 761 26 775 27 782 28 763 29 738 30 713 31 688 32 659 33 635 34 608 35 585 36 556 37 532 38 503 39 486 40 460"/>
<path vector-effect="non-scaling-stroke" d="M5 208 6 222 7 237 8 257 9 275 10 296 11 317 12 343 13 374 14 406 15 446 16 484 17 526 18 564 19 606 20 650 21 694 22 728 23 728 24 705 25 683 26 662 27 644 28 628 29 608 30 588 31 569 32 540 33 519 34 493 35 472 36 439 37 418 38 394 39 377 40 357"/>
<path vector-effect="non-scaling-stroke" d="M5 183 6 198 7 214 8 235 9 251 10 277 11 300 12 330 13 360 14 393 15 430 16 468 17 510 18 558 19 612 20 660 21 713 22 757 23 793 24 796 25 792 26 797 27 804 28 772 29 767 30 762 31 745 32 730 33 703 34 683 35 642 36 611 37 580 38 562 39 535 40 518"/>
<path vector-effect="non-scaling-stroke" d="M5 224 6 243 7 264 8 286 9 312 10 340 11 371 12 404 13 440 14 475 15 514 16 558 17 607 18 657 19 706 20 747 21 756 22 743 23 722 24 689 25 669 26 649 27 637 28 611 29 594 30 571 31 551 32 524 33 502 34 482 35 463 36 437 37 416 38 400 39 385 40 370"/>
<path vector-effect="non-scaling-stroke" d="M5 174 6 189 7 206 8 226 9 244 10 270 11 292 12 323 13 351 14 385 15 418 16 458 17 501 18 547 19 595 20 647 21 704 22 755 23 759 24 772 25 786 26 744 27 787 28 776 29 763 30 777 31 769 32 746 33 733 34 703 35 675 36 644 37 629 38 611 39 588 40 566"/>
<path vector-effect="non-scaling-stroke" d="M5 183 6 200 7 218 8 240 9 264 10 292 11 321 12 351 13 384 14 423 15 462 16 509 17 551 18 600 19 647 20 699 21 746 22 743 23 757 24 734 25 778 26 763 27 772 28 779 29 768 30 744 31 728 32 715 33 699 34 674 35 653 36 631 37 607 38 589 39 568 40 554"/>
<path vector-effect="non-scaling-stroke" d="M5 200 6 214 7 229 8 247 9 269 10 290 11 316 12 343 13 375 14 410 15 446 16 486 17 527 18 576 19 625 20 678 21 734 22 764 23 807 24 820 25 820 26 820 27 817 28 820 29 790 30 798 31 777 32 751 33 718 34 689 35 658 36 628 37 614 38 588 39 569 40 551"/>
<path vector-effect="non-scaling-stroke" d="M5 186 6 202 7 218 8 237 9 255 10 280 11 313 12 345 13 380 14 410 15 447 16 490 17 539 18 588 19 635 20 690 21 744 22 776 23 785 24 776 25 747 26 735 27 712 28 689 29 670 30 648 31 631 32 613 33 594 34 573 35 552 36 535 37 513 38 497 39 485 40 472"/>
<path vector-effect="non-scaling-stroke" d="M5 157 6 170 7 185 8 202 9 220 10 241 11 262 12 287 13 313 14 345 15 379 16 415 17 453 18 491 19 535 20 580 21 633 22 684 23 735 24 747 25 801 26 760 27 772 28 754 29 787 30 799 31 765 32 756 33 746 34 736 35 721 36 689 37 666 38 636 39 625 40 608"/>
<path vector-effect="non-scaling-stroke" d="M5 249 6 269 7 292 8 319 9 351 10 380 11 412 12 446 13 488 14 532 15 581 16 628 17 685 18 734 19 732 20 766 21 772 22 753 23 738 24 788 25 740 26 746 27 750 28 776 29 771 30 759 31 762 32 761 33 737 34 728 35 718 36 695 37 671 38 643 39 619 40 593"/>
<path vector-effect="non-scaling-stroke" d="M5 229 6 248 7 267 8 288 9 315 10 347 11 375 12 409 13 443 14 487 15 531 16 574 17 618 18 666 19 720 20 766 21 774 22 753 23 745 24 721 25 702 26 675 27 650 28 636 29 615 30 589 31 561 32 539 33 520 34 497 35 465 36 446 37 423 38 403 39 384 40 372"/>
<path vector-effect="non-scaling-stroke" d="M5 181 6 195 7 212 8 231 9 253 10 275 11 297 12 322 13 351 14 385 15 421 16 462 17 503 18 547 19 594 20 649 21 707 22 754 23 780 24 779 25 782 26 785 27 763 28 773 29 756 30 753 31 750 32 734 33 717 34 696 35 676 36 662 37 651 38 645 39 632 40 618"/>
<path vector-effect="non-scaling-stroke" d="M5 223 6 241 7 261 8 284 9 306 10 335 11 363 12 395 13 425 14 463 15 509 16 558 17 605 18 651 19 705 20 756 21 783 22 787 23 784 24 768 25 751 26 722 27 695 28 666 29 644 30 616 31 588 32 560 33 540 34 519 35 487 36 460 37 432 38 415 39 395 40 379"/>
<path vector-effect="non-scaling-stroke" d="M5 227 6 247 7 272 8 298 9 327 10 359 11 395 12 431 13 471 14 514 15 565 16 617 17 672 18 712 19 744 20 763 21 787 22 763 23 785 24 798 25 787 26 790 27 741 28 782 29 750 30 760 31 755 32 735 33 713 34 678 35 663 36 637 37 620 38 596 39 579 40 564"/>
<path vector-effect="non-scaling-stroke" d="M5 149 6 163 7 178 8 194 9 208 10 229 11 251 12 280 13 310 14 339 15 375 16 408 17 449 18 492 19 541 20 594 21 647 22 701 23 759 24 782 25 775 26 748 27 719 28 691 29 666 30 650 31 622 32 596 33 560 34 527 35 500 36 471 37 447 38 413 39 397 40 380"/>
<path vector-effect="non-scaling-stroke" d="M5 140 6 151 7 164 8 181 9 199 10 219 11 233 12 254 13 278 14 309 15 338 16 369 17 403 18 442 19 484 20 530 21 577 22 628 23 668 24 675 25 652 26 629 27 612 28 601 29 575 30 557 31 525 32 507 33 491 34 482 35 461 36 443 37 416 38 398 39 381 40 368"/>
<path vector-effect="non-scaling-stroke" d="M5 159 6 171 7 184 8 198 9 219 10 236 11 260 12 282 13 313 14 344 15 380 16 413 17 450 18 489 19 535 20 585 21 636 22 688 23 743 24 758 25 766 26 758 27 744 28 724 29 698 30 666 31 641 32 622 33 604 34 585 35 570 36 552 37 538 38 514 39 493 40 480"/>
<path vector-effect="non-scaling-stroke" d="M5 183 6 202 7 221 8 245 9 273 10 304 11 335 12 366 13 403 14 445 15 490 16 537 17 586 18 640 19 690 20 713 21 709 22 689 23 677 24 654 25 634 26 609 27 594 28 578 29 560 30 545 31 528 32 501 33 485 34 464 35 443 36 418 37 403 38 400 39 391 40 384"/>
<path vector-effect="non-scaling-stroke" d="M5 213 6 231 7 251 8 271 9 296 10 322 11 358 12 389 13 428 14 464 15 506 16 552 17 598 18 648 19 700 20 756 21 787 22 797 23 792 24 776 25 772 26 753 27 738 28 718 29 688 30 663 31 650 32 638 33 619 34 594 35 576 36 570 37 556 38 539 39 519 40 502"/>
<path vector-effect="non-scaling-stroke" d="M5 176 6 189 7 205 8 223 9 244 10 265 11 288 12 314 13 343 14 379 15 411 16 451 17 489 18 537 19 584 20 639 21 675 22 731 23 756 24 763 25 744 26 762 27 751 28 735 29 712 30 704 31 689 32 672 33 652 34 630 35 611 36 595 37 568 38 544 39 525 40 510"/>
<path vector-effect="non-scaling-stroke" d="M5 170 6 183 7 199 8 214 9 230 10 246 11 268 12 294 13 323 14 355 15 390 16 430 17 467 18 510 19 553 20 604 21 655 22 707 23 754 24 804 25 820 26 810 27 800 28 800 29 779 30 780 31 751 32 728 33 695 34 666 35 637 36 609 37 580 38 554 39 531 40 514"/>
<path vector-effect="non-scaling-stroke" d="M5 277 6 299 7 324 8 352 9 384 10 416 11 456 12 491 13 528 14 568 15 615 16 664 17 713 18 738 19 787 20 806 21 808 22 820 23 800 24 820 25 810 26 787 27 794 28 795 29 778 30 769 31 739 32 709 33 682 34 658 35 627 36 600 37 562 38 541 39 519 40 506"/>
<path vector-effect="non-scaling-stroke" d="M5 144 6 156 7 170 8 182 9 196 10 215 11 236 12 260 13 280 14 309 15 338 16 375 17 410 18 445 19 479 20 520 21 563 22 613 23 659 24 703 25 751 26 757 27 751 28 778 29 759 30 778 31 765 32 754 33 736 34 724 35 705 36 682 37 658 38 636 39 609 40 585"/>
<path vector-effect="non-scaling-stroke" d="M5 162 6 176 7 191 8 208 9 229 10 253 11 280 12 306 13 339 14 370 15 406 16 445 17 484 18 530 19 574 20 621 21 662 22 707 23 741 24 749 25 743 26 755 27 777 28 765 29 733 30 737 31 735 32 707 33 703 34 686 35 654 36 631 37 609 38 587 39 560 40 534"/>
<path vector-effect="non-scaling-stroke" d="M5 264 6 285 7 309 8 335 9 364 10 397 11 431 12 469 13 504 14 547 15 594 16 646 17 697 18 737 19 753 20 744 21 733 22 713 23 697 24 679 25 655 26 630 27 608 28 590 29 567 30 548 31 531 32 521 33 498 34 473 35 444 36 426 37 410 38 401 39 381 40 370"/>
<path vector-effect="non-scaling-stroke" d="M5 170 6 185 7 202 8 220 9 242 10 264 11 290 12 317 13 350 14 385 15 424 16 465 17 512 18 558 19 609 20 662 21 719 22 770 23 810 24 794 25 820 26 807 27 812 28 808 29 771 30 762 31 745 32 715 33 684 34 654 35 634 36 615 37 590 38 562 39 540 40 522"/>
<path vector-effect="non-scaling-stroke" d="M5 187 6 201 7 219 8 239 9 258 10 277 11 297 12 324 13 352 14 383 15 417 16 457 17 498 18 544 19 589 20 637 21 685 22 735 23 742 24 761 25 765 26 762 27 729 28 717 29 693 30 665 31 639 32 608 33 588 34 560 35 536 36 503 37 469 38 440 39 422 40 414"/>
<path vector-effect="non-scaling-stroke" d="M5 210 6 226 7 241 8 256 9 275 10 296 11 326 12 354 13 384 14 414 15 448 16 484 17 528 18 569 19 615 20 656 21 701 22 746 23 771 24 775 25 770 26 772 27 759 28 755 29 755 30 764 31 749 32 737 33 715 34 714 35 694 36 678 37 668 38 653 39 636 40 608"/>
<path vector-effect="non-scaling-stroke" d="M5 183 6 196 7 211 8 231 9 252 10 276 11 298 12 325 13 352 14 383 15 416 16 456 17 495 18 536 19 582 20 629 21 677 22 728 23 771 24 820 25 787 26 820 27 811 28 782 29 788 30 769 31 771 32 747 33 718 34 699 35 682 36 669 37 639 38 615 39 594 40 584"/>
<path vector-effect="non-scaling-stroke" d="M5 214 6 233 7 254 8 277 9 303 10 332 11 363 12 398 13 431 14 473 15 514 16 561 17 606 18 655 19 704 20 746 21 769 22 758 23 762 24 755 25 717 26 758 27 718 28 770 29 758 30 779 31 766 32 762 33 756 34 738 35 728 36 715 37 693 38 663 39 642 40 625"/>
<path vector-effect="non-scaling-stroke" d="M5 183 6 198 7 215 8 236 9 259 10 282 11 310 12 343 13 381 14 416 15 458 16 498 17 550 18 598 19 658 20 710 21 769 22 776 23 810 24 769 25 792 26 788 27 804 28 766 29 781 30 746 31 740 32 723 33 698 34 677 35 650 36 632 37 610 38 594 39 574 40 565"/>
<path vector-effect="non-scaling-stroke" d="M5 257 6 277 7 300 8 327 9 354 10 385 11 415 12 451 13 491 14 534 15 580 16 625 17 676 18 724 19 776 20 779 21 779 22 780 23 815 24 820 25 794 26 785 27 770 28 741 29 724 30 701 31 671 32 642 33 620 34 595 35 570 36 541 37 511 38 486 39 465 40 452"/>
<path vector-effect="non-scaling-stroke" d="M5 218 6 234 7 252 8 272 9 293 10 317 11 343 12 375 13 410 14 445 15 482 16 526 17 573 18 624 19 672 20 725 21 767 22 784 23 820 24 791 25 794 26 820 27 777 28 778 29 820 30 805 31 795 32 757 33 740 34 717 35 695 36 664 37 636 38 605 39 581 40 569"/>
<path vector-effect="non-scaling-stroke" d="M5 151 6 164 7 180 8 198 9 218 10 239 11 261 12 286 13 315 14 348 15 381 16 417 17 457 18 497 19 542 20 590 21 644 22 696 23 745 24 788 25 797 26 820 27 765 28 787 29 803 30 809 31 781 32 769 33 735 34 716 35 684 36 667 37 650 38 631 39 603 40 576"/>
<path vector-effect="non-scaling-stroke" d="M5 212 6 226 7 244 8 263 9 284 10 307 11 331 12 356 13 389 14 425 15 463 16 500 17 539 18 584 19 632 20 681 21 723 22 760 23 767 24 757 25 732 26 715 27 693 28 676 29 649 30 641 31 615 32 604 33 581 34 563 35 536 36 515 37 498 38 481 39 466 40 452"/>
<path vector-effect="non-scaling-stroke" d="M5 151 6 165 7 182 8 198 9 220 10 238 11 263 12 286 13 318 14 349 15 386 16 425 17 470 18 516 19 563 20 614 21 669 22 728 23 768 24 761 25 750 26 751 27 735 28 698 29 687 30 655 31 624 32 596 33 570 34 544 35 513 36 486 37 453 38 430 39 411 40 393"/>
<path vector-effect="non-scaling-stroke" d="M5 191 6 206 7 225 8 244 9 264 10 287 11 313 12 345 13 379 14 413 15 449 16 489 17 534 18 577 19 624 20 669 21 705 22 707 23 697 24 679 25 653 26 633 27 612 28 597 29 576 30 555 31 533 32 514 33 490 34 472 35 454 36 437 37 416 38 400 39 389 40 381"/>
<path vector-effect="non-scaling-stroke" d="M5 172 6 186 7 202 8 222 9 238 10 257 11 277 12 307 13 338 14 371 15 405 16 439 17 482 18 525 19 577 20 629 21 683 22 730 23 753 24 794 25 766 26 793 27 764 28 754 29 740 30 724 31 701 32 672 33 656 34 640 35 623 36 605 37 582 38 570 39 552 40 543"/>
<path vector-effect="non-scaling-stroke" d="M5 205 6 220 7 239 8 261 9 283 10 309 11 334 12 367 13 402 14 438 15 476 16 517 17 567 18 615 19 667 20 709 21 734 22 730 23 709 24 697 25 677 26 655 27 631 28 607 29 587 30 561 31 545 32 527 33 514 34 494 35 472 36 450 37 426 38 401 39 391 40 381"/>
<path vector-effect="non-scaling-stroke" d="M5 188 6 203 7 219 8 239 9 257 10 282 11 301 12 334 13 364 14 404 15 441 16 484 17 532 18 581 19 631 20 680 21 726 22 750 23 761 24 745 25 757 26 729 27 698 28 676 29 652 30 636 31 616 32 596 33 573 34 547 35 524 36 505 37 484 38 467 39 442 40 423"/>
</g>
<g clip-path="url(#cpb)" fill="none" stroke="#C9828C" stroke-width="1.7" stroke-linejoin="round" transform="translate(603.70,170.50) scale(9.5975,0.5)">
<path vector-effect="non-scaling-stroke" d="M0 51 1 53 2 55 3 58 4 62 5 67 6 73 7 80 8 89 9 99 10 112 11 128 12 146 13 168 14 194 15 223 16 257 17 294 18 336 19 382 20 431 21 484 22 538 23 589 24 621 25 630 26 632 27 632 28 635 29 633 30 636 31 638 32 637 33 638 34 636 35 639 36 642 37 646 38 641 39 640 40 644"/>
<path vector-effect="non-scaling-stroke" d="M0 53 1 56 2 58 3 61 4 65 5 70 6 76 7 83 8 92 9 102 10 114 11 129 12 146 13 166 14 189 15 215 16 244 17 277 18 314 19 353 20 396 21 442 22 490 23 540 24 592 25 646 26 693 27 715 28 720 29 712 30 738 31 734 32 734 33 716 34 723 35 691 36 654 37 675 38 682 39 672 40 667"/>
<path vector-effect="non-scaling-stroke" d="M0 67 1 69 2 72 3 76 4 80 5 85 6 91 7 99 8 108 9 120 10 133 11 150 12 169 13 191 14 217 15 247 16 280 17 316 18 357 19 401 20 447 21 497 22 549 23 603 24 658 25 708 26 745 27 745 28 748 29 736 30 740 31 721 32 717 33 720 34 695 35 684 36 667 37 664 38 660 39 677 40 658"/>
<path vector-effect="non-scaling-stroke" d="M0 53 1 55 2 58 3 61 4 65 5 70 6 76 7 84 8 93 9 104 10 116 11 131 12 149 13 169 14 193 15 220 16 250 17 284 18 322 19 363 20 407 21 455 22 505 23 558 24 613 25 665 26 699 27 709 28 712 29 727 30 749 31 753 32 731 33 733 34 698 35 684 36 672 37 672 38 648 39 638 40 626"/>
<path vector-effect="non-scaling-stroke" d="M0 52 1 55 2 57 3 61 4 65 5 70 6 76 7 84 8 93 9 103 10 116 11 131 12 149 13 170 14 193 15 221 16 251 17 286 18 324 19 366 20 411 21 460 22 511 23 563 24 608 25 637 26 644 27 649 28 652 29 651 30 649 31 652 32 654 33 654 34 655 35 657 36 655 37 654 38 655 39 652 40 651"/>
<path vector-effect="non-scaling-stroke" d="M0 78 1 80 2 83 3 86 4 90 5 95 6 101 7 108 8 117 9 128 10 142 11 158 12 177 13 199 14 225 15 255 16 289 17 327 18 369 19 415 20 465 21 517 22 573 23 629 24 681 25 716 26 695 27 700 28 720 29 691 30 708 31 715 32 721 33 716 34 721 35 733 36 704 37 712 38 689 39 689 40 689"/>
<path vector-effect="non-scaling-stroke" d="M0 68 1 71 2 74 3 78 4 83 5 89 6 96 7 104 8 114 9 127 10 141 11 158 12 177 13 200 14 226 15 255 16 287 17 323 18 362 19 405 20 450 21 498 22 548 23 600 24 654 25 707 26 741 27 740 28 716 29 728 30 720 31 734 32 763 33 759 34 751 35 763 36 734 37 746 38 725 39 724 40 711"/>
<path vector-effect="non-scaling-stroke" d="M0 78 1 80 2 83 3 86 4 89 5 94 6 100 7 106 8 115 9 125 10 138 11 152 12 170 13 191 14 214 15 242 16 273 17 307 18 345 19 387 20 431 21 478 22 528 23 580 24 633 25 686 26 715 27 726 28 715 29 724 30 720 31 740 32 770 33 729 34 725 35 733 36 696 37 700 38 688 39 668 40 656"/>
<path vector-effect="non-scaling-stroke" d="M0 95 1 98 2 103 3 108 4 115 5 123 6 133 7 145 8 160 9 178 10 199 11 224 12 253 13 286 14 323 15 365 16 410 17 459 18 512 19 567 20 624 21 676 22 715 23 738 24 730 25 731 26 720 27 691 28 700 29 699 30 674 31 685 32 705 33 708 34 697 35 707 36 720 37 707 38 706 39 731 40 727"/>
<path vector-effect="non-scaling-stroke" d="M0 55 1 57 2 61 3 65 4 69 5 75 6 82 7 91 8 101 9 114 10 128 11 146 12 166 13 189 14 216 15 246 16 280 17 318 18 359 19 404 20 451 21 502 22 555 23 610 24 657 25 689 26 691 27 711 28 714 29 714 30 713 31 708 32 715 33 719 34 727 35 702 36 718 37 701 38 684 39 665 40 647"/>
<path vector-effect="non-scaling-stroke" d="M0 87 1 88 2 90 3 92 4 94 5 97 6 101 7 106 8 112 9 119 10 128 11 139 12 152 13 168 14 187 15 209 16 235 17 264 18 297 19 333 20 374 21 417 22 464 23 514 24 565 25 619 26 667 27 708 28 736 29 757 30 759 31 739 32 742 33 743 34 700 35 721 36 705 37 704 38 667 39 664 40 652"/>
<path vector-effect="non-scaling-stroke" d="M0 89 1 93 2 98 3 104 4 111 5 120 6 131 7 143 8 158 9 176 10 196 11 219 12 246 13 276 14 309 15 346 16 386 17 430 18 476 19 525 20 577 21 629 22 679 23 687 24 706 25 705 26 721 27 715 28 704 29 708 30 718 31 713 32 717 33 721 34 708 35 701 36 717 37 710 38 709 39 676 40 680"/>
<path vector-effect="non-scaling-stroke" d="M0 78 1 80 2 83 3 87 4 91 5 96 6 102 7 109 8 118 9 128 10 141 11 155 12 173 13 193 14 216 15 242 16 272 17 305 18 342 19 383 20 427 21 474 22 523 23 575 24 627 25 673 26 697 27 721 28 711 29 710 30 690 31 686 32 678 33 697 34 698 35 710 36 728 37 740 38 727 39 709 40 703"/>
<path vector-effect="non-scaling-stroke" d="M0 63 1 65 2 67 3 70 4 74 5 78 6 84 7 90 8 99 9 109 10 122 11 137 12 155 13 176 14 201 15 229 16 262 17 298 18 338 19 382 20 429 21 480 22 533 23 588 24 645 25 703 26 754 27 768 28 796 29 801 30 791 31 795 32 802 33 771 34 780 35 759 36 756 37 751 38 769 39 782 40 757"/>
<path vector-effect="non-scaling-stroke" d="M0 94 1 103 2 114 3 128 4 144 5 163 6 185 7 211 8 240 9 273 10 310 11 351 12 395 13 442 14 492 15 545 16 599 17 651 18 693 19 683 20 693 21 697 22 712 23 699 24 696 25 696 26 697 27 703 28 696 29 683 30 694 31 700 32 688 33 674 34 696 35 698 36 704 37 711 38 719 39 709 40 708"/>
<path vector-effect="non-scaling-stroke" d="M0 77 1 80 2 82 3 86 4 90 5 96 6 102 7 110 8 119 9 131 10 145 11 161 12 180 13 203 14 229 15 259 16 292 17 329 18 370 19 414 20 462 21 513 22 566 23 621 24 674 25 716 26 732 27 738 28 729 29 730 30 731 31 759 32 751 33 773 34 781 35 771 36 747 37 736 38 756 39 744 40 699"/>
<path vector-effect="non-scaling-stroke" d="M0 50 1 52 2 55 3 59 4 64 5 69 6 75 7 83 8 93 9 104 10 118 11 134 12 153 13 175 14 200 15 228 16 261 17 297 18 337 19 380 20 427 21 477 22 529 23 584 24 640 25 694 26 745 27 760 28 751 29 749 30 722 31 736 32 724 33 726 34 711 35 724 36 693 37 685 38 668 39 690 40 671"/>
<path vector-effect="non-scaling-stroke" d="M0 77 1 78 2 78 3 79 4 81 5 82 6 84 7 87 8 90 9 93 10 98 11 104 12 112 13 121 14 132 15 146 16 163 17 182 18 206 19 233 20 265 21 302 22 342 23 388 24 437 25 491 26 548 27 608 28 663 29 711 30 722 31 704 32 716 33 729 34 729 35 743 36 716 37 697 38 706 39 683 40 662"/>
<path vector-effect="non-scaling-stroke" d="M0 82 1 84 2 87 3 90 4 94 5 99 6 105 7 113 8 122 9 132 10 145 11 160 12 178 13 199 14 223 15 251 16 282 17 316 18 355 19 397 20 443 21 492 22 544 23 598 24 653 25 695 26 714 27 711 28 714 29 710 30 731 31 729 32 724 33 729 34 697 35 709 36 723 37 710 38 694 39 671 40 695"/>
<path vector-effect="non-scaling-stroke" d="M0 52 1 54 2 57 3 60 4 64 5 69 6 75 7 82 8 90 9 101 10 113 11 127 12 143 13 163 14 185 15 210 16 239 17 272 18 308 19 347 20 390 21 437 22 487 23 539 24 594 25 651 26 706 27 748 28 755 29 762 30 756 31 768 32 738 33 756 34 740 35 732 36 736 37 724 38 700 39 657 40 679"/>
<path vector-effect="non-scaling-stroke" d="M0 53 1 55 2 58 3 61 4 65 5 71 6 77 7 85 8 94 9 105 10 119 11 135 12 154 13 175 14 200 15 229 16 261 17 297 18 336 19 378 20 423 21 471 22 522 23 575 24 629 25 681 26 724 27 752 28 765 29 773 30 742 31 761 32 751 33 750 34 733 35 728 36 719 37 708 38 687 39 681 40 663"/>
<path vector-effect="non-scaling-stroke" d="M0 53 1 55 2 57 3 59 4 62 5 65 6 69 7 75 8 82 9 90 10 101 11 114 12 129 13 148 14 170 15 197 16 227 17 261 18 299 19 341 20 387 21 437 22 489 23 544 24 601 25 655 26 697 27 718 28 754 29 729 30 734 31 728 32 733 33 744 34 748 35 748 36 742 37 737 38 711 39 686 40 700"/>
<path vector-effect="non-scaling-stroke" d="M0 50 1 52 2 54 3 57 4 61 5 65 6 71 7 77 8 85 9 95 10 106 11 119 12 135 13 154 14 175 15 199 16 227 17 259 18 294 19 333 20 375 21 421 22 470 23 522 24 577 25 632 26 679 27 710 28 728 29 714 30 727 31 726 32 709 33 721 34 721 35 691 36 682 37 699 38 677 39 655 40 644"/>
<path vector-effect="non-scaling-stroke" d="M0 64 1 65 2 67 3 70 4 73 5 77 6 82 7 88 8 95 9 105 10 117 11 131 12 148 13 169 14 193 15 222 16 255 17 292 18 334 19 381 20 431 21 486 22 543 23 604 24 662 25 712 26 759 27 761 28 765 29 750 30 759 31 770 32 768 33 750 34 784 35 779 36 762 37 764 38 764 39 752 40 753"/>
<path vector-effect="non-scaling-stroke" d="M0 84 1 87 2 90 3 94 4 98 5 104 6 111 7 119 8 129 9 141 10 156 11 173 12 193 13 216 14 243 15 274 16 308 17 346 18 389 19 434 20 484 21 536 22 592 23 649 24 701 25 730 26 755 27 736 28 735 29 729 30 737 31 720 32 720 33 720 34 719 35 706 36 706 37 665 38 678 39 660 40 639"/>
<path vector-effect="non-scaling-stroke" d="M0 54 1 55 2 57 3 60 4 63 5 67 6 72 7 78 8 86 9 96 10 107 11 121 12 138 13 159 14 182 15 210 16 241 17 276 18 316 19 359 20 405 21 455 22 508 23 563 24 620 25 676 26 718 27 728 28 704 29 711 30 728 31 713 32 721 33 735 34 754 35 737 36 739 37 745 38 709 39 710 40 707"/>
<path vector-effect="non-scaling-stroke" d="M0 58 1 60 2 63 3 66 4 69 5 74 6 80 7 87 8 96 9 106 10 119 11 134 12 153 13 174 14 199 15 228 16 261 17 298 18 339 19 385 20 434 21 486 22 542 23 599 24 653 25 693 26 675 27 684 28 688 29 688 30 704 31 701 32 688 33 697 34 693 35 709 36 700 37 701 38 679 39 661 40 641"/>
<path vector-effect="non-scaling-stroke" d="M0 76 1 79 2 82 3 86 4 90 5 96 6 103 7 112 8 122 9 135 10 149 11 167 12 187 13 211 14 238 15 268 16 303 17 341 18 383 19 428 20 477 21 528 22 582 23 638 24 689 25 731 26 750 27 757 28 757 29 750 30 731 31 738 32 732 33 739 34 728 35 718 36 742 37 718 38 702 39 705 40 723"/>
<path vector-effect="non-scaling-stroke" d="M0 84 1 86 2 89 3 92 4 95 5 100 6 106 7 113 8 121 9 132 10 144 11 159 12 177 13 198 14 223 15 251 16 284 17 320 18 360 19 404 20 452 21 503 22 557 23 612 24 667 25 710 26 728 27 734 28 746 29 738 30 717 31 742 32 747 33 752 34 762 35 732 36 695 37 703 38 687 39 681 40 669"/>
<path vector-effect="non-scaling-stroke" d="M0 94 1 94 2 95 3 96 4 96 5 98 6 99 7 101 8 103 9 105 10 108 11 112 12 117 13 123 14 130 15 139 16 149 17 162 18 177 19 195 20 216 21 241 22 269 23 302 24 338 25 379 26 423 27 472 28 524 29 579 30 637 31 694 32 739 33 748 34 753 35 729 36 714 37 705 38 696 39 688 40 687"/>
<path vector-effect="non-scaling-stroke" d="M0 71 1 73 2 76 3 79 4 83 5 87 6 93 7 100 8 108 9 119 10 132 11 147 12 165 13 186 14 211 15 240 16 272 17 309 18 350 19 395 20 443 21 495 22 550 23 608 24 666 25 709 26 709 27 705 28 724 29 714 30 699 31 720 32 721 33 727 34 732 35 730 36 725 37 701 38 689 39 676 40 667"/>
<path vector-effect="non-scaling-stroke" d="M0 66 1 68 2 72 3 75 4 80 5 86 6 94 7 102 8 113 9 126 10 141 11 159 12 181 13 206 14 234 15 267 16 304 17 345 18 390 19 439 20 492 21 549 22 608 23 669 24 729 25 762 26 771 27 789 28 791 29 809 30 792 31 798 32 774 33 781 34 763 35 799 36 744 37 710 38 719 39 694 40 677"/>
<path vector-effect="non-scaling-stroke" d="M0 78 1 80 2 82 3 84 4 88 5 92 6 97 7 103 8 111 9 120 10 131 11 145 12 161 13 180 14 202 15 228 16 257 17 290 18 328 19 368 20 413 21 461 22 512 23 566 24 620 25 666 26 711 27 723 28 720 29 715 30 735 31 725 32 730 33 734 34 715 35 674 36 663 37 641 38 646 39 633 40 640"/>
<path vector-effect="non-scaling-stroke" d="M0 90 1 91 2 93 3 94 4 96 5 99 6 102 7 106 8 110 9 116 10 123 11 131 12 141 13 152 14 166 15 183 16 202 17 224 18 250 19 280 20 313 21 350 22 392 23 437 24 486 25 538 26 590 27 638 28 654 29 668 30 676 31 684 32 682 33 667 34 685 35 666 36 686 37 687 38 682 39 670 40 655"/>
<path vector-effect="non-scaling-stroke" d="M0 60 1 62 2 64 3 67 4 71 5 76 6 81 7 88 8 97 9 108 10 120 11 135 12 154 13 175 14 200 15 228 16 260 17 296 18 336 19 379 20 426 21 476 22 529 23 583 24 637 25 690 26 727 27 717 28 729 29 721 30 733 31 709 32 715 33 715 34 716 35 672 36 689 37 673 38 634 39 640 40 638"/>
<path vector-effect="non-scaling-stroke" d="M0 65 1 67 2 70 3 73 4 76 5 81 6 87 7 95 8 104 9 115 10 129 11 145 12 165 13 187 14 214 15 244 16 278 17 316 18 358 19 402 20 450 21 501 22 553 23 607 24 660 25 703 26 693 27 704 28 701 29 710 30 734 31 735 32 748 33 733 34 717 35 696 36 709 37 679 38 705 39 712 40 726"/>
<path vector-effect="non-scaling-stroke" d="M0 87 1 88 2 90 3 93 4 97 5 101 6 106 7 113 8 121 9 131 10 143 11 158 12 176 13 197 14 222 15 251 16 284 17 321 18 362 19 406 20 454 21 506 22 559 23 614 24 663 25 693 26 709 27 718 28 720 29 700 30 696 31 700 32 693 33 704 34 685 35 722 36 690 37 653 38 649 39 639 40 610"/>
<path vector-effect="non-scaling-stroke" d="M0 70 1 70 2 71 3 73 4 74 5 76 6 78 7 81 8 84 9 88 10 93 11 98 12 105 13 113 14 123 15 134 16 148 17 164 18 182 19 204 20 228 21 256 22 286 23 321 24 358 25 399 26 443 27 490 28 540 29 592 30 646 31 697 32 737 33 750 34 747 35 748 36 734 37 725 38 719 39 744 40 743"/>
<path vector-effect="non-scaling-stroke" d="M0 73 1 75 2 77 3 80 4 83 5 87 6 93 7 99 8 107 9 117 10 129 11 143 12 160 13 181 14 205 15 233 16 265 17 301 18 341 19 385 20 433 21 485 22 540 23 597 24 656 25 710 26 736 27 742 28 737 29 750 30 749 31 751 32 769 33 761 34 740 35 722 36 722 37 734 38 710 39 727 40 737"/>
<path vector-effect="non-scaling-stroke" d="M0 75 1 78 2 80 3 84 4 88 5 94 6 100 7 108 8 117 9 128 10 141 11 157 12 176 13 197 14 223 15 251 16 284 17 320 18 360 19 404 20 451 21 502 22 555 23 610 24 660 25 702 26 720 27 716 28 713 29 689 30 665 31 683 32 679 33 668 34 681 35 690 36 694 37 691 38 690 39 670 40 655"/>
<path vector-effect="non-scaling-stroke" d="M0 64 1 66 2 69 3 72 4 76 5 81 6 87 7 95 8 104 9 116 10 130 11 146 12 166 13 189 14 216 15 247 16 282 17 321 18 365 19 412 20 463 21 517 22 574 23 633 24 687 25 730 26 745 27 738 28 731 29 730 30 755 31 734 32 743 33 720 34 732 35 712 36 733 37 701 38 698 39 689 40 683"/>
<path vector-effect="non-scaling-stroke" d="M0 84 1 87 2 90 3 95 4 99 5 105 6 113 7 121 8 131 9 144 10 158 11 175 12 195 13 218 14 245 15 275 16 309 17 346 18 388 19 434 20 483 21 536 22 592 23 650 24 710 25 764 26 780 27 808 28 804 29 801 30 780 31 777 32 752 33 755 34 759 35 771 36 771 37 782 38 771 39 752 40 746"/>
<path vector-effect="non-scaling-stroke" d="M0 56 1 59 2 62 3 66 4 70 5 76 6 83 7 91 8 101 9 113 10 127 11 144 12 163 13 186 14 212 15 241 16 274 17 310 18 350 19 393 20 439 21 488 22 540 23 594 24 648 25 702 26 752 27 763 28 767 29 778 30 760 31 760 32 756 33 740 34 763 35 768 36 725 37 729 38 740 39 713 40 689"/>
<path vector-effect="non-scaling-stroke" d="M0 59 1 61 2 64 3 67 4 71 5 75 6 81 7 89 8 98 9 109 10 122 11 139 12 159 13 182 14 210 15 242 16 278 17 319 18 365 19 414 20 468 21 526 22 586 23 647 24 689 25 700 26 701 27 696 28 730 29 727 30 732 31 719 32 730 33 716 34 731 35 703 36 721 37 704 38 706 39 665 40 664"/>
<path vector-effect="non-scaling-stroke" d="M0 95 1 98 2 100 3 104 4 108 5 113 6 119 7 126 8 135 9 146 10 158 11 173 12 191 13 211 14 234 15 260 16 290 17 323 18 359 19 399 20 441 21 486 22 534 23 583 24 630 25 661 26 697 27 717 28 713 29 708 30 717 31 698 32 719 33 736 34 736 35 723 36 691 37 668 38 639 39 658 40 666"/>
<path vector-effect="non-scaling-stroke" d="M0 76 1 79 2 82 3 86 4 91 5 97 6 105 7 113 8 124 9 136 10 151 11 168 12 188 13 212 14 238 15 269 16 303 17 340 18 382 19 427 20 476 21 528 22 583 23 639 24 690 25 710 26 724 27 745 28 770 29 772 30 762 31 767 32 760 33 756 34 755 35 766 36 747 37 749 38 741 39 743 40 724"/>
<path vector-effect="non-scaling-stroke" d="M0 70 1 72 2 74 3 77 4 80 5 84 6 90 7 96 8 104 9 114 10 126 11 141 12 159 13 180 14 205 15 234 16 268 17 306 18 349 19 396 20 447 21 502 22 560 23 621 24 681 25 727 26 749 27 753 28 764 29 767 30 752 31 767 32 782 33 777 34 751 35 763 36 758 37 718 38 709 39 706 40 697"/>
<path vector-effect="non-scaling-stroke" d="M0 77 1 79 2 82 3 86 4 90 5 95 6 101 7 109 8 118 9 129 10 142 11 157 12 174 13 194 14 217 15 243 16 273 17 305 18 341 19 381 20 423 21 468 22 516 23 566 24 618 25 662 26 691 27 710 28 703 29 707 30 736 31 730 32 707 33 712 34 732 35 707 36 709 37 714 38 702 39 673 40 666"/>
<path vector-effect="non-scaling-stroke" d="M0 83 1 85 2 89 3 93 4 97 5 103 6 110 7 118 8 128 9 140 10 154 11 170 12 190 13 212 14 237 15 266 16 299 17 335 18 376 19 420 20 467 21 517 22 567 23 607 24 622 25 630 26 630 27 632 28 638 29 643 30 642 31 644 32 646 33 649 34 650 35 655 36 652 37 648 38 640 39 644 40 646"/>
<path vector-effect="non-scaling-stroke" d="M0 75 1 77 2 80 3 83 4 87 5 91 6 97 7 104 8 113 9 124 10 137 11 152 12 171 13 192 14 217 15 246 16 278 17 314 18 354 19 398 20 445 21 495 22 547 23 602 24 658 25 713 26 762 27 774 28 788 29 777 30 781 31 792 32 807 33 793 34 787 35 779 36 745 37 719 38 702 39 704 40 687"/>
</g>
<rect x="603.7" y="170.5" width="383.9" height="384.1" fill="none" stroke="#262626" stroke-width="1.7"/>
<text x="603.7" y="584.7" font-size="21.8" text-anchor="middle" fill="#1a1a1a">-4</text>
<text x="699.7" y="584.7" font-size="21.8" text-anchor="middle" fill="#1a1a1a">-3</text>
<text x="795.7" y="584.7" font-size="21.8" text-anchor="middle" fill="#1a1a1a">-2</text>
<text x="891.6" y="584.7" font-size="21.8" text-anchor="middle" fill="#1a1a1a">-1</text>
<text x="987.6" y="584.7" font-size="21.8" text-anchor="middle" fill="#1a1a1a">0</text>
<text x="595.7" y="181.8" font-size="21.8" text-anchor="end" fill="#1a1a1a">10<tspan font-size="17.4" dy="-10.4">3</tspan></text>
<text x="595.7" y="258.6" font-size="21.8" text-anchor="end" fill="#1a1a1a">10<tspan font-size="17.4" dy="-10.4">1</tspan></text>
<text x="595.7" y="335.4" font-size="21.8" text-anchor="end" fill="#1a1a1a">10<tspan font-size="17.4" dy="-10.4">-1</tspan></text>
<text x="595.7" y="412.3" font-size="21.8" text-anchor="end" fill="#1a1a1a">10<tspan font-size="17.4" dy="-10.4">-3</tspan></text>
<text x="595.7" y="489.1" font-size="21.8" text-anchor="end" fill="#1a1a1a">10<tspan font-size="17.4" dy="-10.4">-5</tspan></text>
<text x="595.7" y="565.9" font-size="21.8" text-anchor="end" fill="#1a1a1a">10<tspan font-size="17.4" dy="-10.4">-7</tspan></text>
<path d="M699.7 170.5v8M699.7 554.6v-8M795.7 170.5v8M795.7 554.6v-8M891.6 170.5v8M891.6 554.6v-8M603.7 247.3h8M987.6 247.3h-8M603.7 324.1h8M987.6 324.1h-8M603.7 401.0h8M987.6 401.0h-8M603.7 477.8h8M987.6 477.8h-8" stroke="#262626" stroke-width="1.7" fill="none"/>
<text x="795.7" y="617.7" font-size="25" text-anchor="middle" fill="#1a1a1a">V<tspan font-size="19.5" dy="11.5">G</tspan><tspan dy="-11.5"> (V)</tspan></text>
<text x="534.2" y="362.6" font-size="25.6" text-anchor="middle" fill="#1a1a1a" transform="rotate(-90 534.2 362.6)">I<tspan font-size="19.5" dy="11">D</tspan><tspan dy="-11"> (</tspan><tspan font-style="italic">μ</tspan>A/<tspan font-style="italic">μ</tspan>m)</text>
<text x="956.5" y="222.8" font-size="35" text-anchor="end" fill="#C9828C"><tspan font-style="italic">L</tspan><tspan font-style="italic" font-size="25" dy="8">CH</tspan><tspan dy="-8"> = 180 nm</tspan></text>
<text x="506.5" y="159.3" font-size="44" font-weight="bold">b</text>
<clipPath id="cpc"><rect x="0" y="0" width="40" height="768.2"/></clipPath>
<g clip-path="url(#cpc)" fill="none" stroke="#A2CCE6" stroke-width="1.6" stroke-linejoin="round" transform="translate(1099.40,170.50) scale(9.5550,0.5)">
<path vector-effect="non-scaling-stroke" d="M5 220 6 238 7 257 8 279 9 307 10 339 11 368 12 399 13 435 14 475 15 518 16 560 17 607 18 657 19 713 20 748 21 743 22 765 23 779 24 800 25 763 26 768 27 756 28 772 29 768 30 767 31 737 32 721 33 697 34 668 35 657 36 643 37 630 38 613 39 598 40 582"/>
<path vector-effect="non-scaling-stroke" d="M5 266 6 288 7 311 8 339 9 367 10 397 11 430 12 470 13 514 14 555 15 597 16 649 17 697 18 718 19 764 20 766 21 752 22 762 23 752 24 759 25 729 26 732 27 724 28 709 29 682 30 657 31 636 32 611 33 588 34 565 35 543 36 524 37 499 38 469 39 443 40 433"/>
<path vector-effect="non-scaling-stroke" d="M5 192 6 208 7 228 8 250 9 274 10 299 11 326 12 358 13 393 14 433 15 477 16 524 17 574 18 624 19 679 20 735 21 777 22 770 23 777 24 820 25 788 26 768 27 807 28 795 29 762 30 776 31 740 32 735 33 698 34 660 35 627 36 615 37 600 38 579 39 557 40 540"/>
<path vector-effect="non-scaling-stroke" d="M5 198 6 214 7 231 8 250 9 272 10 294 11 322 12 352 13 384 14 418 15 454 16 495 17 533 18 577 19 621 20 674 21 719 22 750 23 776 24 768 25 773 26 778 27 774 28 751 29 764 30 761 31 724 32 734 33 715 34 705 35 689 36 671 37 643 38 620 39 606 40 603"/>
<path vector-effect="non-scaling-stroke" d="M5 236 6 252 7 273 8 293 9 318 10 341 11 367 12 400 13 436 14 479 15 520 16 562 17 611 18 659 19 713 20 764 21 788 22 820 23 820 24 803 25 784 26 763 27 736 28 711 29 678 30 649 31 620 32 597 33 567 34 543 35 511 36 488 37 457 38 430 39 403 40 391"/>
<path vector-effect="non-scaling-stroke" d="M5 173 6 187 7 203 8 221 9 240 10 264 11 287 12 313 13 339 14 370 15 407 16 449 17 494 18 543 19 591 20 644 21 693 22 740 23 745 24 773 25 786 26 763 27 755 28 735 29 701 30 677 31 659 32 636 33 609 34 573 35 541 36 517 37 491 38 465 39 433 40 403"/>
<path vector-effect="non-scaling-stroke" d="M5 226 6 245 7 264 8 284 9 306 10 334 11 364 12 398 13 433 14 474 15 517 16 564 17 612 18 660 19 702 20 745 21 764 22 756 23 733 24 712 25 686 26 665 27 643 28 625 29 590 30 558 31 529 32 512 33 491 34 466 35 438 36 417 37 397 38 375 39 351 40 332"/>
<path vector-effect="non-scaling-stroke" d="M5 236 6 255 7 276 8 301 9 332 10 365 11 398 12 435 13 476 14 516 15 560 16 608 17 660 18 707 19 722 20 714 21 695 22 679 23 652 24 635 25 601 26 585 27 556 28 545 29 521 30 504 31 482 32 467 33 448 34 430 35 400 36 382 37 351 38 337 39 323 40 307"/>
<path vector-effect="non-scaling-stroke" d="M5 178 6 190 7 206 8 225 9 243 10 265 11 288 12 315 13 342 14 373 15 410 16 450 17 493 18 535 19 582 20 632 21 672 22 678 23 663 24 643 25 616 26 596 27 585 28 560 29 537 30 512 31 499 32 478 33 452 34 431 35 419 36 402 37 385 38 363 39 350 40 339"/>
<path vector-effect="non-scaling-stroke" d="M5 216 6 234 7 251 8 273 9 295 10 325 11 354 12 385 13 419 14 457 15 497 16 536 17 581 18 631 19 684 20 734 21 778 22 795 23 820 24 813 25 808 26 788 27 802 28 791 29 755 30 729 31 704 32 686 33 654 34 629 35 600 36 587 37 563 38 540 39 512 40 495"/>
<path vector-effect="non-scaling-stroke" d="M5 199 6 215 7 233 8 252 9 270 10 293 11 316 12 349 13 379 14 410 15 445 16 486 17 534 18 580 19 626 20 679 21 717 22 750 23 759 24 783 25 769 26 771 27 751 28 726 29 718 30 699 31 678 32 666 33 647 34 632 35 606 36 600 37 580 38 576 39 562 40 556"/>
<path vector-effect="non-scaling-stroke" d="M5 241 6 263 7 286 8 310 9 337 10 366 11 403 12 444 13 488 14 532 15 575 16 625 17 675 18 717 19 768 20 787 21 787 22 761 23 758 24 732 25 718 26 695 27 680 28 657 29 641 30 617 31 598 32 580 33 558 34 538 35 514 36 499 37 477 38 465 39 449 40 442"/>
<path vector-effect="non-scaling-stroke" d="M5 186 6 202 7 220 8 240 9 266 10 287 11 311 12 342 13 384 14 424 15 462 16 501 17 543 18 592 19 645 20 694 21 710 22 700 23 675 24 656 25 634 26 617 27 597 28 579 29 562 30 538 31 514 32 493 33 470 34 451 35 434 36 416 37 393 38 376 39 359 40 348"/>
<path vector-effect="non-scaling-stroke" d="M5 229 6 247 7 267 8 288 9 311 10 337 11 369 12 401 13 440 14 480 15 521 16 564 17 608 18 656 19 704 20 754 21 793 22 820 23 820 24 812 25 820 26 820 27 820 28 820 29 820 30 818 31 807 32 780 33 755 34 742 35 714 36 691 37 672 38 645 39 624 40 599"/>
<path vector-effect="non-scaling-stroke" d="M5 203 6 220 7 240 8 261 9 285 10 311 11 341 12 377 13 416 14 460 15 503 16 550 17 599 18 657 19 709 20 768 21 754 22 775 23 792 24 779 25 776 26 763 27 776 28 750 29 772 30 746 31 746 32 726 33 697 34 671 35 645 36 615 37 583 38 557 39 538 40 515"/>
<path vector-effect="non-scaling-stroke" d="M5 271 6 294 7 319 8 349 9 380 10 416 11 451 12 495 13 539 14 585 15 632 16 682 17 737 18 782 19 820 20 820 21 820 22 820 23 820 24 820 25 813 26 784 27 768 28 742 29 718 30 695 31 671 32 648 33 621 34 603 35 580 36 560 37 537 38 514 39 490 40 472"/>
<path vector-effect="non-scaling-stroke" d="M5 210 6 229 7 251 8 273 9 297 10 325 11 358 12 397 13 438 14 479 15 524 16 568 17 619 18 671 19 720 20 730 21 748 22 756 23 756 24 753 25 727 26 707 27 677 28 653 29 624 30 593 31 566 32 537 33 512 34 482 35 457 36 427 37 400 38 372 39 353 40 340"/>
<path vector-effect="non-scaling-stroke" d="M5 240 6 258 7 279 8 300 9 328 10 356 11 393 12 425 13 464 14 500 15 539 16 583 17 629 18 679 19 728 20 761 21 752 22 770 23 779 24 738 25 800 26 786 27 770 28 797 29 771 30 747 31 712 32 699 33 670 34 645 35 615 36 587 37 567 38 548 39 534 40 522"/>
<path vector-effect="non-scaling-stroke" d="M5 175 6 190 7 207 8 230 9 251 10 278 11 304 12 338 13 374 14 412 15 453 16 497 17 544 18 593 19 649 20 705 21 754 22 804 23 810 24 796 25 793 26 784 27 782 28 783 29 786 30 761 31 762 32 770 33 767 34 738 35 724 36 702 37 674 38 656 39 638 40 634"/>
<path vector-effect="non-scaling-stroke" d="M5 215 6 234 7 255 8 280 9 307 10 335 11 365 12 406 13 450 14 493 15 538 16 583 17 638 18 687 19 749 20 784 21 782 22 755 23 764 24 750 25 730 26 705 27 678 28 655 29 621 30 595 31 568 32 547 33 518 34 494 35 467 36 444 37 409 38 389 39 369 40 365"/>
<path vector-effect="non-scaling-stroke" d="M5 170 6 185 7 203 8 223 9 241 10 261 11 287 12 324 13 359 14 397 15 432 16 472 17 515 18 562 19 610 20 662 21 712 22 756 23 772 24 742 25 724 26 689 27 667 28 646 29 624 30 595 31 572 32 537 33 517 34 494 35 472 36 448 37 411 38 388 39 366 40 352"/>
<path vector-effect="non-scaling-stroke" d="M5 199 6 215 7 232 8 252 9 274 10 302 11 328 12 352 13 377 14 405 15 444 16 483 17 527 18 568 19 615 20 661 21 708 22 762 23 792 24 801 25 820 26 791 27 788 28 771 29 745 30 725 31 699 32 685 33 665 34 649 35 624 36 607 37 585 38 563 39 537 40 517"/>
<path vector-effect="non-scaling-stroke" d="M5 206 6 221 7 239 8 260 9 282 10 309 11 336 12 363 13 395 14 430 15 468 16 508 17 548 18 595 19 642 20 693 21 734 22 760 23 758 24 729 25 700 26 671 27 646 28 626 29 595 30 563 31 534 32 508 33 484 34 459 35 432 36 411 37 380 38 355 39 332 40 315"/>
<path vector-effect="non-scaling-stroke" d="M5 199 6 214 7 232 8 254 9 275 10 297 11 322 12 355 13 389 14 429 15 466 16 506 17 549 18 596 19 649 20 704 21 754 22 785 23 783 24 784 25 755 26 724 27 704 28 678 29 660 30 622 31 593 32 564 33 547 34 515 35 485 36 451 37 431 38 412 39 393 40 374"/>
<path vector-effect="non-scaling-stroke" d="M5 235 6 254 7 274 8 296 9 320 10 348 11 379 12 408 13 440 14 474 15 519 16 563 17 611 18 660 19 702 20 715 21 697 22 679 23 664 24 644 25 623 26 599 27 576 28 559 29 530 30 512 31 495 32 479 33 456 34 434 35 418 36 397 37 370 38 346 39 326 40 303"/>
<path vector-effect="non-scaling-stroke" d="M5 223 6 239 7 256 8 274 9 298 10 320 11 347 12 376 13 407 14 441 15 477 16 519 17 563 18 610 19 659 20 710 21 748 22 804 23 807 24 791 25 769 26 753 27 732 28 703 29 684 30 657 31 634 32 611 33 592 34 572 35 550 36 526 37 504 38 489 39 477 40 464"/>
<path vector-effect="non-scaling-stroke" d="M5 207 6 225 7 245 8 266 9 291 10 320 11 352 12 382 13 419 14 457 15 500 16 549 17 598 18 653 19 708 20 765 21 804 22 813 23 796 24 769 25 763 26 737 27 720 28 694 29 676 30 647 31 625 32 613 33 594 34 574 35 551 36 533 37 507 38 488 39 473 40 467"/>
<path vector-effect="non-scaling-stroke" d="M5 174 6 187 7 203 8 218 9 237 10 257 11 285 12 311 13 340 14 369 15 404 16 443 17 485 18 528 19 574 20 626 21 677 22 729 23 744 24 743 25 751 26 734 27 761 28 764 29 752 30 777 31 770 32 753 33 751 34 736 35 728 36 705 37 686 38 666 39 653 40 632"/>
<path vector-effect="non-scaling-stroke" d="M5 220 6 238 7 259 8 282 9 304 10 332 11 361 12 396 13 433 14 468 15 512 16 555 17 609 18 662 19 719 20 772 21 810 22 820 23 816 24 820 25 802 26 817 27 802 28 772 29 760 30 731 31 705 32 676 33 652 34 623 35 599 36 569 37 557 38 537 39 518 40 498"/>
<path vector-effect="non-scaling-stroke" d="M5 222 6 241 7 261 8 283 9 305 10 333 11 363 12 398 13 435 14 478 15 522 16 564 17 612 18 664 19 719 20 765 21 805 22 804 23 772 24 744 25 789 26 788 27 767 28 741 29 714 30 694 31 672 32 650 33 635 34 617 35 594 36 567 37 539 38 511 39 495 40 490"/>
<path vector-effect="non-scaling-stroke" d="M5 173 6 187 7 202 8 221 9 242 10 265 11 285 12 308 13 341 14 375 15 412 16 450 17 490 18 535 19 585 20 636 21 691 22 742 23 773 24 818 25 820 26 820 27 820 28 804 29 820 30 769 31 809 32 811 33 770 34 785 35 764 36 735 37 711 38 685 39 660 40 644"/>
<path vector-effect="non-scaling-stroke" d="M5 201 6 216 7 232 8 253 9 277 10 302 11 329 12 359 13 391 14 421 15 456 16 502 17 552 18 600 19 644 20 693 21 748 22 775 23 787 24 772 25 744 26 722 27 702 28 679 29 645 30 618 31 581 32 553 33 516 34 489 35 463 36 439 37 415 38 389 39 372 40 351"/>
<path vector-effect="non-scaling-stroke" d="M5 242 6 262 7 284 8 309 9 337 10 364 11 393 12 425 13 465 14 507 15 552 16 592 17 641 18 687 19 738 20 779 21 793 22 817 23 801 24 790 25 774 26 753 27 720 28 686 29 664 30 634 31 603 32 568 33 534 34 500 35 469 36 447 37 428 38 404 39 379 40 362"/>
<path vector-effect="non-scaling-stroke" d="M5 166 6 179 7 192 8 207 9 223 10 242 11 263 12 288 13 317 14 349 15 380 16 416 17 450 18 490 19 532 20 577 21 628 22 675 23 716 24 753 25 755 26 760 27 768 28 758 29 742 30 719 31 697 32 669 33 648 34 623 35 609 36 591 37 567 38 541 39 518 40 513"/>
<path vector-effect="non-scaling-stroke" d="M5 183 6 198 7 214 8 232 9 250 10 277 11 301 12 328 13 359 14 392 15 432 16 469 17 512 18 554 19 601 20 651 21 697 22 751 23 769 24 777 25 799 26 769 27 770 28 737 29 713 30 684 31 661 32 630 33 593 34 568 35 538 36 513 37 484 38 457 39 432 40 410"/>
<path vector-effect="non-scaling-stroke" d="M5 214 6 230 7 248 8 268 9 288 10 312 11 339 12 370 13 404 14 438 15 478 16 516 17 560 18 605 19 653 20 699 21 745 22 761 23 762 24 752 25 722 26 702 27 678 28 656 29 628 30 608 31 579 32 545 33 520 34 504 35 487 36 453 37 426 38 397 39 371 40 358"/>
<path vector-effect="non-scaling-stroke" d="M5 207 6 222 7 241 8 262 9 284 10 307 11 335 12 366 13 398 14 436 15 474 16 515 17 558 18 606 19 657 20 710 21 732 22 766 23 741 24 754 25 772 26 766 27 746 28 731 29 710 30 682 31 655 32 635 33 615 34 588 35 562 36 543 37 525 38 501 39 476 40 456"/>
<path vector-effect="non-scaling-stroke" d="M5 249 6 268 7 288 8 314 9 340 10 373 11 407 12 440 13 480 14 520 15 566 16 611 17 664 18 715 19 761 20 808 21 804 22 802 23 808 24 807 25 820 26 820 27 792 28 788 29 772 30 752 31 723 32 694 33 673 34 658 35 634 36 609 37 579 38 553 39 524 40 506"/>
<path vector-effect="non-scaling-stroke" d="M5 253 6 273 7 296 8 323 9 352 10 384 11 414 12 450 13 488 14 532 15 577 16 627 17 677 18 718 19 744 20 742 21 725 22 711 23 689 24 669 25 656 26 639 27 625 28 604 29 579 30 563 31 539 32 520 33 493 34 481 35 465 36 446 37 424 38 406 39 394 40 383"/>
<path vector-effect="non-scaling-stroke" d="M5 187 6 203 7 222 8 242 9 264 10 288 11 321 12 356 13 389 14 423 15 464 16 512 17 560 18 613 19 662 20 719 21 753 22 772 23 777 24 765 25 744 26 726 27 707 28 687 29 657 30 626 31 599 32 574 33 554 34 527 35 498 36 464 37 444 38 424 39 405 40 384"/>
<path vector-effect="non-scaling-stroke" d="M5 273 6 300 7 328 8 359 9 396 10 435 11 479 12 524 13 573 14 625 15 676 16 731 17 776 18 795 19 820 20 798 21 820 22 813 23 805 24 814 25 820 26 804 27 809 28 817 29 779 30 766 31 749 32 728 33 708 34 685 35 659 36 626 37 597 38 576 39 561 40 553"/>
<path vector-effect="non-scaling-stroke" d="M5 240 6 262 7 287 8 312 9 341 10 375 11 416 12 454 13 494 14 537 15 580 16 630 17 684 18 742 19 787 20 782 21 815 22 809 23 799 24 820 25 805 26 782 27 775 28 748 29 736 30 708 31 678 32 652 33 628 34 599 35 568 36 545 37 524 38 504 39 478 40 457"/>
<path vector-effect="non-scaling-stroke" d="M5 197 6 215 7 235 8 255 9 279 10 309 11 341 12 374 13 408 14 446 15 488 16 532 17 580 18 632 19 681 20 716 21 706 22 702 23 686 24 669 25 647 26 617 27 591 28 572 29 554 30 533 31 505 32 484 33 461 34 433 35 409 36 388 37 371 38 344 39 316 40 294"/>
<path vector-effect="non-scaling-stroke" d="M5 232 6 252 7 274 8 300 9 329 10 359 11 391 12 427 13 464 14 506 15 550 16 599 17 650 18 700 19 731 20 761 21 789 22 738 23 747 24 795 25 774 26 765 27 761 28 746 29 761 30 736 31 726 32 700 33 680 34 659 35 631 36 608 37 584 38 564 39 539 40 520"/>
<path vector-effect="non-scaling-stroke" d="M5 202 6 218 7 234 8 252 9 274 10 299 11 325 12 350 13 380 14 412 15 449 16 488 17 529 18 574 19 623 20 672 21 697 22 682 23 673 24 652 25 627 26 601 27 572 28 558 29 534 30 525 31 504 32 482 33 448 34 430 35 410 36 389 37 366 38 350 39 332 40 316"/>
<path vector-effect="non-scaling-stroke" d="M5 219 6 237 7 255 8 277 9 302 10 330 11 358 12 388 13 427 14 465 15 507 16 552 17 601 18 653 19 705 20 755 21 769 22 798 23 787 24 774 25 754 26 724 27 694 28 671 29 646 30 625 31 606 32 583 33 563 34 535 35 512 36 489 37 474 38 451 39 434 40 414"/>
<path vector-effect="non-scaling-stroke" d="M5 249 6 268 7 289 8 312 9 336 10 364 11 398 12 437 13 474 14 513 15 557 16 600 17 653 18 703 19 756 20 785 21 789 22 769 23 746 24 721 25 704 26 689 27 673 28 652 29 632 30 613 31 589 32 564 33 538 34 513 35 499 36 479 37 463 38 444 39 428 40 425"/>
<path vector-effect="non-scaling-stroke" d="M5 204 6 220 7 238 8 259 9 282 10 308 11 335 12 365 13 401 14 437 15 479 16 523 17 571 18 621 19 671 20 712 21 716 22 693 23 674 24 647 25 626 26 605 27 591 28 570 29 553 30 530 31 520 32 497 33 477 34 455 35 436 36 424 37 403 38 388 39 362 40 347"/>
<path vector-effect="non-scaling-stroke" d="M5 247 6 267 7 288 8 311 9 340 10 371 11 407 12 439 13 482 14 522 15 567 16 613 17 661 18 711 19 752 20 751 21 734 22 716 23 708 24 686 25 666 26 637 27 618 28 596 29 573 30 549 31 520 32 505 33 482 34 462 35 437 36 419 37 396 38 382 39 362 40 347"/>
<path vector-effect="non-scaling-stroke" d="M5 236 6 255 7 278 8 301 9 331 10 360 11 395 12 429 13 467 14 512 15 562 16 615 17 665 18 720 19 767 20 791 21 790 22 778 23 773 24 798 25 791 26 769 27 784 28 780 29 796 30 779 31 780 32 749 33 739 34 727 35 708 36 688 37 676 38 656 39 650 40 630"/>
</g>
<g clip-path="url(#cpc)" fill="none" stroke="#2E80B4" stroke-width="1.7" stroke-linejoin="round" transform="translate(1099.40,170.50) scale(9.5550,0.5)">
<path vector-effect="non-scaling-stroke" d="M0 63 1 66 2 69 3 73 4 77 5 82 6 87 7 94 8 101 9 109 10 119 11 131 12 145 13 161 14 182 15 206 16 236 17 271 18 313 19 362 20 420 21 487 22 564 23 649 24 733 25 736 26 752 27 739 28 733 29 727 30 695 31 721 32 696 33 703 34 683 35 690 36 677 37 693 38 672 39 665 40 669"/>
<path vector-effect="non-scaling-stroke" d="M0 62 1 66 2 69 3 73 4 77 5 82 6 87 7 93 8 100 9 108 10 117 11 128 12 141 13 157 14 176 15 198 16 224 17 255 18 292 19 335 20 385 21 442 22 507 23 579 24 656 25 721 26 764 27 728 28 755 29 764 30 756 31 746 32 754 33 767 34 746 35 762 36 761 37 734 38 706 39 690 40 693"/>
<path vector-effect="non-scaling-stroke" d="M0 75 1 80 2 86 3 92 4 100 5 108 6 118 7 130 8 144 9 159 10 178 11 199 12 224 13 254 14 287 15 327 16 371 17 422 18 480 19 544 20 615 21 690 22 752 23 791 24 781 25 800 26 798 27 803 28 818 29 806 30 807 31 802 32 798 33 810 34 796 35 802 36 796 37 780 38 777 39 756 40 755"/>
<path vector-effect="non-scaling-stroke" d="M0 65 1 68 2 72 3 76 4 80 5 85 6 90 7 96 8 103 9 111 10 120 11 131 12 144 13 160 14 178 15 200 16 226 17 257 18 293 19 336 20 385 21 442 22 507 23 580 24 662 25 737 26 762 27 761 28 743 29 728 30 720 31 726 32 734 33 737 34 720 35 713 36 716 37 699 38 698 39 691 40 684"/>
<path vector-effect="non-scaling-stroke" d="M0 81 1 87 2 93 3 100 4 109 5 118 6 129 7 142 8 157 9 175 10 195 11 219 12 248 13 281 14 319 15 363 16 414 17 472 18 536 19 608 20 679 21 724 22 751 23 746 24 745 25 737 26 712 27 706 28 716 29 734 30 722 31 721 32 717 33 729 34 728 35 741 36 746 37 741 38 765 39 736 40 728"/>
<path vector-effect="non-scaling-stroke" d="M0 96 1 101 2 106 3 112 4 119 5 127 6 136 7 147 8 159 9 174 10 191 11 212 12 236 13 264 14 298 15 337 16 382 17 434 18 494 19 562 20 633 21 694 22 720 23 712 24 708 25 723 26 746 27 731 28 739 29 749 30 740 31 735 32 737 33 740 34 737 35 727 36 777 37 758 38 750 39 763 40 729"/>
<path vector-effect="non-scaling-stroke" d="M0 86 1 89 2 93 3 96 4 101 5 105 6 111 7 117 8 125 9 133 10 144 11 156 12 171 13 189 14 211 15 238 16 270 17 308 18 353 19 406 20 468 21 538 22 615 23 668 24 675 25 681 26 687 27 714 28 695 29 697 30 708 31 728 32 740 33 733 34 730 35 694 36 696 37 695 38 672 39 680 40 670"/>
<path vector-effect="non-scaling-stroke" d="M0 99 1 103 2 107 3 112 4 117 5 123 6 131 7 139 8 150 9 162 10 177 11 195 12 217 13 244 14 277 15 316 16 363 17 418 18 482 19 556 20 637 21 707 22 708 23 704 24 700 25 715 26 725 27 715 28 742 29 731 30 716 31 713 32 714 33 726 34 730 35 742 36 732 37 740 38 721 39 711 40 706"/>
<path vector-effect="non-scaling-stroke" d="M0 95 1 99 2 103 3 107 4 112 5 117 6 123 7 130 8 138 9 147 10 157 11 169 12 184 13 200 14 220 15 243 16 271 17 303 18 340 19 383 20 433 21 491 22 556 23 627 24 701 25 718 26 751 27 756 28 745 29 741 30 720 31 709 32 704 33 729 34 730 35 725 36 710 37 708 38 690 39 680 40 699"/>
<path vector-effect="non-scaling-stroke" d="M0 95 1 98 2 101 3 104 4 108 5 112 6 117 7 122 8 129 9 136 10 144 11 154 12 166 13 181 14 198 15 220 16 245 17 276 18 314 19 358 20 410 21 471 22 540 23 608 24 666 25 696 26 695 27 710 28 729 29 723 30 694 31 722 32 722 33 676 34 694 35 658 36 661 37 641 38 630 39 592 40 624"/>
<path vector-effect="non-scaling-stroke" d="M0 63 1 67 2 71 3 76 4 81 5 87 6 95 7 103 8 113 9 125 10 140 11 157 12 178 13 203 14 233 15 269 16 311 17 360 18 418 19 484 20 559 21 637 22 671 23 661 24 684 25 687 26 670 27 688 28 698 29 690 30 679 31 692 32 678 33 705 34 678 35 665 36 681 37 646 38 636 39 635 40 619"/>
<path vector-effect="non-scaling-stroke" d="M0 67 1 71 2 75 3 79 4 83 5 88 6 94 7 100 8 107 9 115 10 125 11 136 12 149 13 164 14 182 15 203 16 228 17 258 18 293 19 333 20 380 21 433 22 495 23 564 24 634 25 676 26 683 27 681 28 697 29 699 30 713 31 690 32 721 33 691 34 699 35 668 36 659 37 619 38 625 39 601 40 569"/>
<path vector-effect="non-scaling-stroke" d="M0 60 1 63 2 66 3 69 4 72 5 76 6 80 7 84 8 90 9 95 10 102 11 110 12 119 13 130 14 142 15 158 16 177 17 199 18 227 19 259 20 298 21 344 22 398 23 461 24 532 25 598 26 625 27 629 28 634 29 637 30 646 31 644 32 647 33 649 34 655 35 657 36 660 37 662 38 662 39 663 40 658"/>
<path vector-effect="non-scaling-stroke" d="M0 90 1 93 2 97 3 102 4 106 5 111 6 117 7 124 8 132 9 141 10 151 11 164 12 178 13 195 14 215 15 239 16 266 17 299 18 337 19 382 20 433 21 492 22 558 23 632 24 708 25 729 26 732 27 761 28 757 29 760 30 763 31 746 32 744 33 746 34 763 35 743 36 729 37 727 38 711 39 708 40 711"/>
<path vector-effect="non-scaling-stroke" d="M0 94 1 97 2 101 3 105 4 109 5 114 6 119 7 125 8 132 9 141 10 150 11 161 12 174 13 189 14 207 15 229 16 254 17 284 18 318 19 359 20 406 21 461 22 523 23 593 24 663 25 707 26 741 27 758 28 779 29 784 30 787 31 760 32 757 33 751 34 734 35 737 36 735 37 729 38 730 39 741 40 756"/>
<path vector-effect="non-scaling-stroke" d="M0 75 1 78 2 82 3 86 4 90 5 95 6 100 7 106 8 114 9 122 10 132 11 144 12 159 13 177 14 198 15 224 16 256 17 293 18 338 19 390 20 452 21 522 22 602 23 680 24 729 25 725 26 758 27 759 28 782 29 799 30 793 31 786 32 768 33 761 34 767 35 769 36 733 37 735 38 737 39 722 40 703"/>
<path vector-effect="non-scaling-stroke" d="M0 66 1 70 2 75 3 80 4 86 5 93 6 101 7 110 8 121 9 133 10 147 11 164 12 184 13 207 14 234 15 266 16 303 17 346 18 395 19 452 20 516 21 588 22 664 23 700 24 735 25 741 26 726 27 761 28 749 29 742 30 743 31 742 32 739 33 717 34 738 35 727 36 750 37 728 38 732 39 702 40 706"/>
<path vector-effect="non-scaling-stroke" d="M0 106 1 110 2 113 3 118 4 122 5 128 6 134 7 141 8 149 9 159 10 171 11 184 12 201 13 221 14 244 15 272 16 305 17 345 18 391 19 444 20 505 21 574 22 650 23 725 24 748 25 771 26 764 27 772 28 779 29 747 30 749 31 752 32 749 33 710 34 734 35 722 36 713 37 728 38 716 39 736 40 684"/>
<path vector-effect="non-scaling-stroke" d="M0 100 1 103 2 107 3 112 4 116 5 122 6 128 7 134 8 142 9 151 10 161 11 173 12 187 13 203 14 222 15 245 16 271 17 301 18 336 19 376 20 422 21 475 22 534 23 599 24 667 25 700 26 709 27 716 28 702 29 694 30 703 31 684 32 702 33 709 34 736 35 740 36 746 37 715 38 721 39 673 40 673"/>
<path vector-effect="non-scaling-stroke" d="M0 99 1 102 2 106 3 109 4 113 5 118 6 123 7 129 8 136 9 143 10 152 11 163 12 176 13 191 14 210 15 231 16 257 17 288 18 324 19 367 20 416 21 472 22 537 23 608 24 683 25 737 26 742 27 739 28 758 29 763 30 774 31 786 32 778 33 783 34 771 35 752 36 734 37 720 38 713 39 701 40 695"/>
<path vector-effect="non-scaling-stroke" d="M0 101 1 105 2 109 3 114 4 119 5 125 6 132 7 140 8 150 9 162 10 177 11 194 12 215 13 240 14 270 15 306 16 349 17 400 18 458 19 525 20 599 21 680 22 750 23 756 24 754 25 756 26 749 27 734 28 744 29 722 30 701 31 682 32 680 33 688 34 705 35 715 36 744 37 747 38 743 39 748 40 726"/>
<path vector-effect="non-scaling-stroke" d="M0 72 1 76 2 80 3 85 4 90 5 96 6 102 7 109 8 118 9 128 10 139 11 153 12 169 13 187 14 209 15 234 16 263 17 297 18 337 19 383 20 435 21 494 22 560 23 632 24 697 25 740 26 745 27 758 28 752 29 757 30 777 31 727 32 721 33 717 34 691 35 692 36 682 37 699 38 678 39 659 40 647"/>
<path vector-effect="non-scaling-stroke" d="M0 115 1 118 2 121 3 125 4 129 5 134 6 139 7 146 8 153 9 161 10 171 11 183 12 197 13 214 14 235 15 260 16 290 17 327 18 369 19 420 20 479 21 546 22 622 23 698 24 739 25 732 26 739 27 770 28 740 29 763 30 769 31 755 32 756 33 748 34 744 35 721 36 715 37 730 38 717 39 713 40 718"/>
<path vector-effect="non-scaling-stroke" d="M0 67 1 70 2 73 3 75 4 78 5 81 6 84 7 87 8 91 9 95 10 99 11 104 12 109 13 116 14 123 15 132 16 142 17 154 18 168 19 186 20 207 21 232 22 262 23 297 24 339 25 388 26 445 27 510 28 584 29 663 30 746 31 768 32 800 33 784 34 773 35 751 36 758 37 743 38 740 39 730 40 698"/>
<path vector-effect="non-scaling-stroke" d="M0 109 1 113 2 117 3 121 4 126 5 131 6 137 7 144 8 152 9 161 10 171 11 184 12 198 13 215 14 234 15 257 16 284 17 315 18 352 19 394 20 443 21 498 22 561 23 628 24 695 25 703 26 732 27 745 28 750 29 748 30 751 31 763 32 743 33 762 34 743 35 734 36 729 37 723 38 702 39 703 40 694"/>
<path vector-effect="non-scaling-stroke" d="M0 86 1 89 2 93 3 97 4 101 5 105 6 110 7 116 8 123 9 132 10 141 11 153 12 167 13 184 14 204 15 228 16 257 17 292 18 333 19 382 20 439 21 504 22 578 23 660 24 741 25 796 26 808 27 793 28 761 29 766 30 768 31 775 32 788 33 786 34 777 35 762 36 745 37 748 38 746 39 735 40 726"/>
<path vector-effect="non-scaling-stroke" d="M0 89 1 93 2 97 3 102 4 107 5 113 6 120 7 128 8 137 9 147 10 160 11 175 12 192 13 212 14 236 15 264 16 297 17 336 18 380 19 432 20 490 21 555 22 628 23 698 24 732 25 735 26 715 27 727 28 732 29 723 30 759 31 768 32 770 33 747 34 754 35 738 36 734 37 724 38 736 39 712 40 723"/>
<path vector-effect="non-scaling-stroke" d="M0 109 1 112 2 115 3 119 4 124 5 128 6 134 7 140 8 147 9 156 10 166 11 178 12 192 13 209 14 230 15 255 16 285 17 321 18 364 19 415 20 474 21 542 22 618 23 690 24 720 25 719 26 732 27 757 28 731 29 734 30 723 31 692 32 703 33 677 34 682 35 704 36 710 37 727 38 717 39 725 40 690"/>
<path vector-effect="non-scaling-stroke" d="M0 96 1 100 2 104 3 108 4 113 5 119 6 125 7 132 8 140 9 150 10 161 11 174 12 189 13 206 14 227 15 251 16 280 17 313 18 352 19 396 20 447 21 506 22 572 23 645 24 724 25 788 26 785 27 795 28 802 29 779 30 798 31 799 32 781 33 799 34 804 35 788 36 794 37 788 38 777 39 769 40 743"/>
<path vector-effect="non-scaling-stroke" d="M0 111 1 114 2 118 3 122 4 127 5 132 6 138 7 145 8 154 9 163 10 175 11 189 12 206 13 226 14 250 15 279 16 314 17 355 18 403 19 459 20 523 21 595 22 674 23 751 24 773 25 791 26 798 27 787 28 762 29 764 30 751 31 737 32 733 33 737 34 719 35 731 36 728 37 733 38 747 39 736 40 752"/>
<path vector-effect="non-scaling-stroke" d="M0 70 1 73 2 75 3 78 4 81 5 84 6 87 7 90 8 94 9 98 10 102 11 107 12 112 13 119 14 127 15 136 16 146 17 159 18 175 19 193 20 216 21 244 22 277 23 316 24 363 25 419 26 483 27 556 28 639 29 714 30 744 31 739 32 748 33 785 34 771 35 782 36 767 37 735 38 717 39 714 40 707"/>
<path vector-effect="non-scaling-stroke" d="M0 71 1 76 2 80 3 86 4 92 5 100 6 108 7 119 8 131 9 146 10 164 11 185 12 211 13 242 14 280 15 324 16 376 17 437 18 508 19 588 20 676 21 750 22 776 23 757 24 770 25 767 26 758 27 765 28 761 29 778 30 772 31 781 32 759 33 777 34 789 35 767 36 762 37 730 38 717 39 677 40 714"/>
<path vector-effect="non-scaling-stroke" d="M0 100 1 103 2 107 3 110 4 115 5 120 6 125 7 131 8 138 9 146 10 156 11 167 12 180 13 196 14 214 15 236 16 262 17 293 18 329 19 371 20 420 21 476 22 539 23 611 24 689 25 754 26 791 27 817 28 800 29 765 30 786 31 756 32 750 33 751 34 782 35 767 36 753 37 752 38 748 39 713 40 689"/>
<path vector-effect="non-scaling-stroke" d="M0 93 1 97 2 101 3 105 4 110 5 116 6 122 7 129 8 138 9 148 10 159 11 172 12 188 13 206 14 228 15 254 16 284 17 320 18 361 19 409 20 464 21 526 22 596 23 670 24 727 25 728 26 741 27 735 28 728 29 731 30 730 31 729 32 734 33 737 34 735 35 737 36 711 37 695 38 679 39 665 40 655"/>
<path vector-effect="non-scaling-stroke" d="M0 90 1 94 2 98 3 102 4 107 5 113 6 120 7 128 8 137 9 148 10 162 11 177 12 196 13 219 14 246 15 278 16 316 17 361 18 413 19 472 20 540 21 616 22 695 23 745 24 753 25 750 26 758 27 741 28 754 29 752 30 755 31 754 32 766 33 747 34 744 35 766 36 755 37 747 38 760 39 739 40 739"/>
<path vector-effect="non-scaling-stroke" d="M0 96 1 100 2 104 3 109 4 114 5 119 6 126 7 134 8 143 9 153 10 166 11 181 12 199 13 221 14 247 15 279 16 316 17 361 18 413 19 473 20 543 21 622 22 702 23 741 24 759 25 759 26 752 27 735 28 735 29 715 30 726 31 734 32 721 33 707 34 746 35 730 36 739 37 756 38 742 39 728 40 731"/>
<path vector-effect="non-scaling-stroke" d="M0 83 1 86 2 89 3 93 4 96 5 101 6 105 7 111 8 117 9 124 10 132 11 142 12 153 13 167 14 183 15 203 16 227 17 255 18 288 19 328 20 375 21 429 22 492 23 562 24 642 25 727 26 788 27 789 28 796 29 794 30 782 31 797 32 799 33 814 34 773 35 808 36 756 37 733 38 744 39 739 40 721"/>
<path vector-effect="non-scaling-stroke" d="M0 67 1 71 2 74 3 78 4 83 5 88 6 94 7 100 8 107 9 116 10 126 11 137 12 151 13 167 14 186 15 208 16 234 17 265 18 300 19 341 20 389 21 443 22 504 23 573 24 648 25 718 26 766 27 746 28 724 29 735 30 732 31 736 32 751 33 769 34 786 35 728 36 699 37 668 38 652 39 659 40 656"/>
<path vector-effect="non-scaling-stroke" d="M0 72 1 75 2 78 3 82 4 86 5 91 6 96 7 102 8 109 9 117 10 127 11 139 12 153 13 170 14 191 15 216 16 246 17 282 18 326 19 377 20 438 21 508 22 588 23 668 24 708 25 731 26 704 27 679 28 673 29 701 30 703 31 716 32 741 33 720 34 712 35 702 36 682 37 686 38 697 39 690 40 682"/>
<path vector-effect="non-scaling-stroke" d="M0 80 1 83 2 87 3 91 4 96 5 100 6 106 7 112 8 119 9 128 10 137 11 149 12 162 13 177 14 196 15 217 16 243 17 273 18 309 19 350 20 398 21 452 22 515 23 585 24 663 25 733 26 772 27 759 28 736 29 719 30 721 31 726 32 755 33 757 34 759 35 753 36 748 37 725 38 739 39 704 40 713"/>
<path vector-effect="non-scaling-stroke" d="M0 67 1 71 2 75 3 79 4 83 5 89 6 94 7 101 8 108 9 117 10 127 11 139 12 153 13 169 14 188 15 211 16 237 17 268 18 304 19 346 20 394 21 450 22 513 23 583 24 660 25 723 26 754 27 757 28 725 29 711 30 740 31 703 32 708 33 718 34 708 35 718 36 723 37 728 38 724 39 718 40 718"/>
<path vector-effect="non-scaling-stroke" d="M0 75 1 78 2 82 3 86 4 90 5 94 6 100 7 106 8 112 9 120 10 130 11 141 12 154 13 170 14 189 15 211 16 238 17 271 18 309 19 354 20 406 21 467 22 536 23 611 24 649 25 685 26 669 27 665 28 667 29 652 30 688 31 681 32 713 33 713 34 695 35 684 36 680 37 673 38 675 39 661 40 649"/>
<path vector-effect="non-scaling-stroke" d="M0 76 1 80 2 84 3 88 4 93 5 99 6 105 7 112 8 120 9 130 10 141 11 153 12 168 13 186 14 207 15 231 16 260 17 293 18 333 19 378 20 430 21 490 22 558 23 634 24 716 25 777 26 782 27 777 28 783 29 764 30 785 31 755 32 734 33 754 34 754 35 753 36 762 37 763 38 768 39 763 40 747"/>
<path vector-effect="non-scaling-stroke" d="M0 101 1 104 2 107 3 111 4 115 5 119 6 124 7 130 8 136 9 144 10 153 11 163 12 176 13 191 14 209 15 231 16 257 17 288 18 325 19 369 20 420 21 479 22 546 23 620 24 691 25 735 26 741 27 753 28 749 29 742 30 727 31 731 32 715 33 718 34 694 35 702 36 710 37 675 38 676 39 694 40 678"/>
<path vector-effect="non-scaling-stroke" d="M0 88 1 91 2 95 3 98 4 102 5 107 6 112 7 117 8 124 9 132 10 141 11 152 12 165 13 182 14 201 15 225 16 254 17 288 18 330 19 379 20 436 21 503 22 578 23 658 24 712 25 739 26 756 27 767 28 747 29 761 30 745 31 751 32 763 33 772 34 788 35 776 36 767 37 725 38 765 39 736 40 698"/>
<path vector-effect="non-scaling-stroke" d="M0 113 1 116 2 120 3 124 4 129 5 134 6 140 7 146 8 154 9 163 10 174 11 186 12 202 13 220 14 241 15 267 16 298 17 335 18 378 19 429 20 488 21 555 22 631 23 708 24 741 25 727 26 715 27 744 28 756 29 749 30 743 31 735 32 725 33 747 34 742 35 732 36 739 37 725 38 707 39 678 40 684"/>
<path vector-effect="non-scaling-stroke" d="M0 101 1 104 2 108 3 112 4 116 5 120 6 126 7 132 8 138 9 146 10 156 11 167 12 180 13 196 14 214 15 237 16 263 17 295 18 332 19 377 20 428 21 488 22 556 23 630 24 693 25 725 26 732 27 745 28 732 29 702 30 711 31 730 32 725 33 754 34 738 35 749 36 735 37 734 38 695 39 725 40 709"/>
<path vector-effect="non-scaling-stroke" d="M0 68 1 71 2 75 3 78 4 83 5 87 6 93 7 99 8 106 9 114 10 124 11 136 12 150 13 167 14 187 15 212 16 241 17 277 18 319 19 369 20 427 21 493 22 569 23 654 24 741 25 772 26 801 27 813 28 814 29 820 30 820 31 820 32 813 33 790 34 817 35 797 36 782 37 785 38 780 39 751 40 733"/>
<path vector-effect="non-scaling-stroke" d="M0 92 1 95 2 98 3 102 4 106 5 111 6 116 7 122 8 128 9 136 10 146 11 157 12 170 13 186 14 205 15 228 16 256 17 289 18 329 19 375 20 429 21 491 22 562 23 640 24 718 25 739 26 735 27 748 28 738 29 738 30 747 31 737 32 740 33 775 34 744 35 739 36 724 37 724 38 666 39 681 40 682"/>
<path vector-effect="non-scaling-stroke" d="M0 114 1 117 2 121 3 125 4 129 5 134 6 140 7 146 8 154 9 163 10 173 11 186 12 201 13 219 14 241 15 267 16 298 17 336 18 379 19 431 20 490 21 558 22 633 23 697 24 728 25 746 26 737 27 755 28 761 29 743 30 733 31 729 32 727 33 717 34 715 35 722 36 710 37 691 38 694 39 674 40 664"/>
</g>
<rect x="1099.4" y="170.5" width="382.2" height="384.1" fill="none" stroke="#262626" stroke-width="1.7"/>
<text x="1099.4" y="584.7" font-size="21.8" text-anchor="middle" fill="#1a1a1a">-4</text>
<text x="1195.0" y="584.7" font-size="21.8" text-anchor="middle" fill="#1a1a1a">-3</text>
<text x="1290.5" y="584.7" font-size="21.8" text-anchor="middle" fill="#1a1a1a">-2</text>
<text x="1386.0" y="584.7" font-size="21.8" text-anchor="middle" fill="#1a1a1a">-1</text>
<text x="1481.6" y="584.7" font-size="21.8" text-anchor="middle" fill="#1a1a1a">0</text>
<text x="1091.4" y="181.8" font-size="21.8" text-anchor="end" fill="#1a1a1a">10<tspan font-size="17.4" dy="-10.4">3</tspan></text>
<text x="1091.4" y="258.6" font-size="21.8" text-anchor="end" fill="#1a1a1a">10<tspan font-size="17.4" dy="-10.4">1</tspan></text>
<text x="1091.4" y="335.4" font-size="21.8" text-anchor="end" fill="#1a1a1a">10<tspan font-size="17.4" dy="-10.4">-1</tspan></text>
<text x="1091.4" y="412.3" font-size="21.8" text-anchor="end" fill="#1a1a1a">10<tspan font-size="17.4" dy="-10.4">-3</tspan></text>
<text x="1091.4" y="489.1" font-size="21.8" text-anchor="end" fill="#1a1a1a">10<tspan font-size="17.4" dy="-10.4">-5</tspan></text>
<text x="1091.4" y="565.9" font-size="21.8" text-anchor="end" fill="#1a1a1a">10<tspan font-size="17.4" dy="-10.4">-7</tspan></text>
<path d="M1195.0 170.5v8M1195.0 554.6v-8M1290.5 170.5v8M1290.5 554.6v-8M1386.0 170.5v8M1386.0 554.6v-8M1099.4 247.3h8M1481.6 247.3h-8M1099.4 324.1h8M1481.6 324.1h-8M1099.4 401.0h8M1481.6 401.0h-8M1099.4 477.8h8M1481.6 477.8h-8" stroke="#262626" stroke-width="1.7" fill="none"/>
<text x="1290.5" y="617.7" font-size="25" text-anchor="middle" fill="#1a1a1a">V<tspan font-size="19.5" dy="11.5">G</tspan><tspan dy="-11.5"> (V)</tspan></text>
<text x="1029.9" y="362.6" font-size="25.6" text-anchor="middle" fill="#1a1a1a" transform="rotate(-90 1029.9 362.6)">I<tspan font-size="19.5" dy="11">D</tspan><tspan dy="-11"> (</tspan><tspan font-style="italic">μ</tspan>A/<tspan font-style="italic">μ</tspan>m)</text>
<text x="1456.5" y="222.8" font-size="35" text-anchor="end" fill="#2E80B4"><tspan font-style="italic">L</tspan><tspan font-style="italic" font-size="25" dy="8">CH</tspan><tspan dy="-8"> = 380 nm</tspan></text>
<text x="1003.5" y="159.3" font-size="44" font-weight="bold">c</text>
<clipPath id="cpd"><rect x="0" y="0" width="40" height="768.2"/></clipPath>
<g clip-path="url(#cpd)" fill="none" stroke="#BCDDD2" stroke-width="1.6" stroke-linejoin="round" transform="translate(1594.50,170.50) scale(9.5900,0.5)">
<path vector-effect="non-scaling-stroke" d="M5 228 6 245 7 265 8 285 9 311 10 333 11 359 12 385 13 419 14 453 15 493 16 534 17 578 18 625 19 673 20 718 21 768 22 812 23 799 24 820 25 820 26 820 27 820 28 820 29 820 30 820 31 785 32 790 33 771 34 748 35 728 36 707 37 687 38 658 39 632 40 608"/>
<path vector-effect="non-scaling-stroke" d="M5 198 6 215 7 236 8 258 9 283 10 308 11 338 12 373 13 410 14 450 15 494 16 539 17 587 18 638 19 694 20 752 21 780 22 775 23 757 24 727 25 705 26 677 27 656 28 633 29 612 30 577 31 546 32 522 33 505 34 475 35 441 36 413 37 393 38 371 39 347 40 335"/>
<path vector-effect="non-scaling-stroke" d="M5 175 6 190 7 207 8 223 9 244 10 266 11 295 12 322 13 350 14 381 15 414 16 450 17 492 18 534 19 582 20 629 21 682 22 732 23 772 24 778 25 771 26 770 27 738 28 719 29 684 30 661 31 638 32 615 33 578 34 550 35 525 36 503 37 484 38 457 39 431 40 403"/>
<path vector-effect="non-scaling-stroke" d="M5 319 6 348 7 380 8 417 9 454 10 496 11 539 12 587 13 642 14 698 15 747 16 758 17 754 18 752 19 767 20 753 21 772 22 731 23 739 24 723 25 699 26 670 27 647 28 625 29 605 30 585 31 557 32 536 33 512 34 492 35 471 36 444 37 417 38 387 39 366 40 351"/>
<path vector-effect="non-scaling-stroke" d="M5 193 6 207 7 224 8 244 9 265 10 285 11 312 12 342 13 378 14 409 15 443 16 483 17 526 18 575 19 621 20 675 21 723 22 757 23 788 24 781 25 798 26 764 27 772 28 772 29 741 30 709 31 679 32 648 33 622 34 599 35 581 36 561 37 533 38 504 39 478 40 456"/>
<path vector-effect="non-scaling-stroke" d="M5 282 6 306 7 333 8 361 9 390 10 420 11 458 12 502 13 551 14 597 15 643 16 689 17 738 18 776 19 798 20 820 21 803 22 781 23 801 24 819 25 804 26 811 27 812 28 790 29 786 30 779 31 744 32 724 33 695 34 663 35 630 36 600 37 576 38 551 39 525 40 504"/>
<path vector-effect="non-scaling-stroke" d="M5 170 6 185 7 200 8 218 9 240 10 267 11 294 12 324 13 356 14 391 15 431 16 470 17 517 18 566 19 621 20 676 21 723 22 742 23 724 24 706 25 686 26 658 27 635 28 607 29 586 30 556 31 527 32 509 33 494 34 472 35 438 36 401 37 376 38 358 39 342 40 322"/>
<path vector-effect="non-scaling-stroke" d="M5 254 6 277 7 302 8 329 9 357 10 388 11 419 12 456 13 496 14 539 15 581 16 631 17 677 18 729 19 746 20 775 21 802 22 774 23 791 24 778 25 789 26 782 27 785 28 790 29 792 30 769 31 765 32 761 33 770 34 754 35 737 36 722 37 705 38 690 39 678 40 663"/>
<path vector-effect="non-scaling-stroke" d="M5 196 6 212 7 232 8 251 9 275 10 296 11 322 12 350 13 384 14 419 15 458 16 500 17 547 18 597 19 648 20 696 21 742 22 780 23 805 24 774 25 783 26 728 27 777 28 733 29 733 30 701 31 680 32 650 33 633 34 608 35 587 36 562 37 542 38 516 39 504 40 489"/>
<path vector-effect="non-scaling-stroke" d="M5 204 6 219 7 237 8 256 9 276 10 298 11 321 12 350 13 383 14 419 15 457 16 495 17 533 18 574 19 621 20 668 21 700 22 704 23 682 24 648 25 631 26 609 27 595 28 575 29 558 30 534 31 511 32 487 33 468 34 448 35 424 36 405 37 383 38 364 39 343 40 329"/>
<path vector-effect="non-scaling-stroke" d="M5 281 6 306 7 333 8 361 9 395 10 432 11 471 12 514 13 560 14 607 15 659 16 710 17 755 18 810 19 820 20 787 21 796 22 780 23 805 24 808 25 801 26 820 27 820 28 796 29 790 30 780 31 772 32 765 33 752 34 732 35 712 36 694 37 674 38 656 39 636 40 619"/>
<path vector-effect="non-scaling-stroke" d="M5 220 6 237 7 255 8 280 9 304 10 330 11 358 12 390 13 426 14 460 15 501 16 545 17 597 18 643 19 693 20 735 21 767 22 764 23 740 24 715 25 696 26 670 27 647 28 617 29 591 30 569 31 549 32 524 33 496 34 467 35 450 36 435 37 415 38 391 39 367 40 350"/>
<path vector-effect="non-scaling-stroke" d="M5 294 6 319 7 344 8 371 9 404 10 439 11 478 12 515 13 556 14 597 15 645 16 696 17 735 18 766 19 739 20 760 21 741 22 719 23 694 24 680 25 664 26 643 27 617 28 594 29 570 30 547 31 528 32 507 33 485 34 462 35 443 36 414 37 391 38 371 39 361 40 348"/>
<path vector-effect="non-scaling-stroke" d="M5 280 6 305 7 333 8 364 9 399 10 437 11 477 12 520 13 566 14 609 15 658 16 709 17 761 18 774 19 760 20 721 21 776 22 748 23 781 24 757 25 746 26 761 27 756 28 754 29 735 30 718 31 696 32 680 33 652 34 624 35 592 36 565 37 538 38 514 39 487 40 472"/>
<path vector-effect="non-scaling-stroke" d="M5 254 6 276 7 301 8 330 9 358 10 388 11 421 12 460 13 502 14 548 15 597 16 652 17 704 18 753 19 774 20 747 21 744 22 711 23 691 24 665 25 654 26 628 27 610 28 578 29 563 30 543 31 516 32 496 33 467 34 448 35 418 36 400 37 379 38 362 39 343 40 329"/>
<path vector-effect="non-scaling-stroke" d="M5 208 6 224 7 242 8 262 9 281 10 304 11 331 12 361 13 395 14 430 15 465 16 504 17 544 18 589 19 634 20 687 21 738 22 784 23 809 24 815 25 799 26 781 27 757 28 726 29 702 30 683 31 655 32 622 33 590 34 565 35 537 36 507 37 484 38 459 39 434 40 415"/>
<path vector-effect="non-scaling-stroke" d="M5 205 6 225 7 247 8 273 9 298 10 328 11 359 12 395 13 436 14 481 15 532 16 585 17 636 18 693 19 747 20 783 21 785 22 775 23 752 24 736 25 711 26 691 27 660 28 628 29 596 30 574 31 550 32 530 33 498 34 471 35 432 36 403 37 376 38 369 39 352 40 339"/>
<path vector-effect="non-scaling-stroke" d="M5 216 6 235 7 255 8 280 9 304 10 335 11 365 12 404 13 439 14 481 15 523 16 573 17 620 18 672 19 729 20 774 21 820 22 820 23 795 24 806 25 797 26 801 27 793 28 785 29 785 30 816 31 789 32 820 33 804 34 807 35 770 36 754 37 738 38 717 39 701 40 679"/>
<path vector-effect="non-scaling-stroke" d="M5 197 6 211 7 228 8 248 9 272 10 295 11 323 12 349 13 381 14 414 15 455 16 495 17 538 18 586 19 642 20 694 21 746 22 763 23 756 24 728 25 708 26 689 27 666 28 636 29 606 30 579 31 556 32 528 33 507 34 479 35 450 36 419 37 389 38 364 39 337 40 322"/>
<path vector-effect="non-scaling-stroke" d="M5 276 6 303 7 332 8 362 9 397 10 434 11 475 12 513 13 558 14 606 15 654 16 703 17 725 18 749 19 769 20 764 21 760 22 728 23 751 24 730 25 720 26 697 27 676 28 653 29 628 30 604 31 575 32 551 33 521 34 506 35 488 36 474 37 447 38 422 39 404 40 392"/>
<path vector-effect="non-scaling-stroke" d="M5 243 6 263 7 285 8 310 9 337 10 365 11 397 12 431 13 472 14 515 15 559 16 606 17 656 18 708 19 751 20 774 21 794 22 742 23 792 24 741 25 767 26 772 27 748 28 730 29 711 30 688 31 667 32 647 33 629 34 607 35 588 36 567 37 544 38 527 39 505 40 492"/>
<path vector-effect="non-scaling-stroke" d="M5 221 6 237 7 257 8 278 9 302 10 326 11 350 12 380 13 414 14 455 15 494 16 536 17 577 18 625 19 673 20 718 21 745 22 737 23 709 24 711 25 693 26 676 27 649 28 632 29 610 30 587 31 568 32 549 33 538 34 515 35 494 36 473 37 457 38 433 39 415 40 397"/>
<path vector-effect="non-scaling-stroke" d="M5 212 6 230 7 251 8 272 9 297 10 326 11 359 12 396 13 434 14 477 15 522 16 569 17 619 18 672 19 727 20 774 21 795 22 777 23 758 24 730 25 712 26 691 27 675 28 652 29 634 30 615 31 592 32 575 33 552 34 538 35 512 36 494 37 476 38 460 39 446 40 425"/>
<path vector-effect="non-scaling-stroke" d="M5 179 6 196 7 215 8 237 9 261 10 284 11 314 12 348 13 386 14 424 15 461 16 505 17 553 18 601 19 651 20 689 21 692 22 674 23 651 24 630 25 609 26 586 27 564 28 547 29 531 30 508 31 491 32 471 33 450 34 424 35 403 36 388 37 377 38 368 39 351 40 335"/>
<path vector-effect="non-scaling-stroke" d="M5 211 6 226 7 244 8 265 9 287 10 310 11 338 12 366 13 400 14 436 15 474 16 515 17 559 18 608 19 654 20 706 21 749 22 793 23 784 24 804 25 793 26 776 27 786 28 759 29 754 30 731 31 709 32 682 33 669 34 652 35 631 36 612 37 586 38 585 39 567 40 555"/>
<path vector-effect="non-scaling-stroke" d="M5 327 6 356 7 386 8 418 9 452 10 498 11 546 12 596 13 641 14 690 15 741 16 784 17 770 18 772 19 791 20 819 21 797 22 800 23 772 24 769 25 754 26 744 27 720 28 703 29 685 30 670 31 652 32 626 33 602 34 578 35 554 36 534 37 520 38 508 39 493 40 479"/>
<path vector-effect="non-scaling-stroke" d="M5 281 6 305 7 330 8 357 9 388 10 426 11 465 12 508 13 548 14 597 15 643 16 700 17 757 18 784 19 818 20 815 21 787 22 795 23 800 24 767 25 789 26 772 27 753 28 722 29 691 30 669 31 651 32 630 33 602 34 578 35 543 36 514 37 487 38 472 39 446 40 420"/>
<path vector-effect="non-scaling-stroke" d="M5 206 6 224 7 245 8 270 9 296 10 321 11 351 12 389 13 423 14 467 15 508 16 562 17 612 18 664 19 711 20 769 21 808 22 820 23 810 24 790 25 820 26 808 27 812 28 800 29 792 30 760 31 735 32 711 33 680 34 660 35 636 36 614 37 580 38 554 39 533 40 519"/>
<path vector-effect="non-scaling-stroke" d="M5 270 6 291 7 314 8 340 9 371 10 404 11 434 12 466 13 504 14 548 15 594 16 639 17 687 18 726 19 735 20 743 21 729 22 721 23 706 24 684 25 657 26 641 27 612 28 603 29 572 30 551 31 524 32 504 33 478 34 451 35 428 36 414 37 388 38 362 39 342 40 326"/>
<path vector-effect="non-scaling-stroke" d="M5 232 6 250 7 269 8 291 9 319 10 346 11 379 12 408 13 445 14 486 15 532 16 580 17 628 18 677 19 725 20 762 21 812 22 778 23 779 24 727 25 774 26 770 27 759 28 741 29 715 30 699 31 678 32 654 33 629 34 606 35 583 36 558 37 532 38 508 39 483 40 464"/>
<path vector-effect="non-scaling-stroke" d="M5 242 6 264 7 288 8 313 9 343 10 374 11 412 12 450 13 494 14 540 15 585 16 635 17 689 18 739 19 788 20 812 21 801 22 806 23 782 24 754 25 729 26 702 27 669 28 640 29 614 30 594 31 571 32 549 33 518 34 495 35 470 36 448 37 422 38 391 39 372 40 354"/>
<path vector-effect="non-scaling-stroke" d="M5 199 6 219 7 241 8 265 9 290 10 318 11 350 12 387 13 426 14 474 15 519 16 568 17 617 18 667 19 722 20 742 21 781 22 752 23 791 24 768 25 790 26 777 27 773 28 758 29 734 30 720 31 692 32 660 33 641 34 607 35 585 36 549 37 528 38 493 39 479 40 459"/>
<path vector-effect="non-scaling-stroke" d="M5 246 6 268 7 291 8 318 9 350 10 386 11 418 12 456 13 495 14 546 15 593 16 644 17 693 18 741 19 756 20 762 21 740 22 727 23 710 24 692 25 663 26 651 27 631 28 614 29 591 30 567 31 546 32 520 33 500 34 487 35 473 36 455 37 431 38 410 39 393 40 384"/>
<path vector-effect="non-scaling-stroke" d="M5 319 6 343 7 371 8 400 9 432 10 467 11 502 12 542 13 581 14 624 15 671 16 713 17 745 18 782 19 767 20 754 21 744 22 720 23 713 24 700 25 670 26 653 27 639 28 626 29 607 30 593 31 569 32 547 33 520 34 499 35 488 36 469 37 452 38 427 39 409 40 399"/>
<path vector-effect="non-scaling-stroke" d="M5 221 6 237 7 257 8 280 9 309 10 334 11 363 12 394 13 433 14 469 15 507 16 549 17 596 18 647 19 696 20 744 21 760 22 745 23 742 24 719 25 698 26 671 27 650 28 623 29 599 30 573 31 541 32 518 33 496 34 479 35 449 36 418 37 389 38 364 39 347 40 335"/>
<path vector-effect="non-scaling-stroke" d="M5 191 6 206 7 221 8 237 9 257 10 281 11 308 12 340 13 371 14 406 15 444 16 485 17 529 18 576 19 624 20 679 21 731 22 773 23 820 24 820 25 820 26 801 27 820 28 820 29 820 30 804 31 804 32 807 33 774 34 773 35 753 36 728 37 708 38 686 39 665 40 648"/>
<path vector-effect="non-scaling-stroke" d="M5 211 6 229 7 248 8 272 9 299 10 327 11 356 12 384 13 420 14 456 15 501 16 550 17 597 18 649 19 702 20 758 21 804 22 820 23 820 24 820 25 820 26 820 27 820 28 820 29 815 30 796 31 780 32 770 33 750 34 733 35 715 36 703 37 681 38 668 39 651 40 644"/>
<path vector-effect="non-scaling-stroke" d="M5 311 6 338 7 369 8 404 9 445 10 483 11 529 12 576 13 628 14 680 15 734 16 780 17 801 18 782 19 803 20 781 21 820 22 805 23 820 24 820 25 820 26 774 27 820 28 805 29 815 30 806 31 774 32 785 33 782 34 764 35 753 36 723 37 711 38 688 39 666 40 651"/>
<path vector-effect="non-scaling-stroke" d="M5 273 6 293 7 315 8 341 9 367 10 399 11 430 12 469 13 509 14 552 15 593 16 638 17 684 18 733 19 771 20 785 21 811 22 801 23 795 24 810 25 812 26 810 27 819 28 802 29 777 30 810 31 779 32 777 33 768 34 763 35 744 36 735 37 712 38 692 39 670 40 658"/>
<path vector-effect="non-scaling-stroke" d="M5 221 6 240 7 261 8 285 9 311 10 344 11 373 12 412 13 448 14 490 15 530 16 577 17 625 18 677 19 725 20 759 21 773 22 794 23 803 24 820 25 776 26 777 27 794 28 769 29 820 30 777 31 758 32 750 33 740 34 720 35 696 36 677 37 653 38 628 39 611 40 587"/>
<path vector-effect="non-scaling-stroke" d="M5 208 6 223 7 242 8 260 9 282 10 307 11 337 12 364 13 392 14 431 15 471 16 512 17 550 18 598 19 646 20 700 21 751 22 779 23 786 24 796 25 783 26 781 27 770 28 755 29 737 30 710 31 686 32 661 33 643 34 622 35 593 36 568 37 544 38 519 39 498 40 473"/>
<path vector-effect="non-scaling-stroke" d="M5 222 6 239 7 258 8 277 9 300 10 324 11 353 12 382 13 417 14 447 15 485 16 525 17 572 18 622 19 666 20 716 21 753 22 796 23 820 24 812 25 799 26 806 27 789 28 773 29 752 30 724 31 693 32 665 33 636 34 605 35 577 36 548 37 519 38 492 39 474 40 458"/>
<path vector-effect="non-scaling-stroke" d="M5 191 6 205 7 222 8 240 9 260 10 278 11 301 12 333 13 362 14 396 15 430 16 465 17 507 18 548 19 597 20 644 21 699 22 740 23 777 24 765 25 762 26 735 27 713 28 697 29 675 30 649 31 622 32 593 33 569 34 542 35 523 36 498 37 479 38 460 39 439 40 423"/>
<path vector-effect="non-scaling-stroke" d="M5 186 6 201 7 218 8 238 9 258 10 278 11 300 12 328 13 362 14 402 15 441 16 483 17 523 18 572 19 622 20 679 21 727 22 751 23 755 24 730 25 712 26 687 27 668 28 652 29 628 30 597 31 569 32 543 33 529 34 510 35 497 36 478 37 455 38 440 39 419 40 414"/>
<path vector-effect="non-scaling-stroke" d="M5 259 6 279 7 301 8 326 9 353 10 383 11 412 12 445 13 480 14 522 15 565 16 610 17 659 18 707 19 759 20 760 21 807 22 741 23 787 24 779 25 761 26 739 27 714 28 694 29 669 30 646 31 622 32 595 33 564 34 538 35 516 36 495 37 472 38 451 39 429 40 411"/>
<path vector-effect="non-scaling-stroke" d="M5 193 6 208 7 225 8 246 9 270 10 294 11 324 12 354 13 386 14 418 15 456 16 498 17 547 18 598 19 649 20 701 21 750 22 781 23 791 24 783 25 772 26 764 27 765 28 730 29 704 30 681 31 654 32 621 33 588 34 570 35 545 36 524 37 492 38 467 39 438 40 409"/>
<path vector-effect="non-scaling-stroke" d="M5 219 6 236 7 254 8 275 9 298 10 325 11 355 12 386 13 421 14 453 15 492 16 531 17 580 18 628 19 680 20 734 21 780 22 815 23 811 24 820 25 820 26 820 27 820 28 807 29 793 30 797 31 797 32 771 33 756 34 739 35 718 36 699 37 675 38 661 39 641 40 632"/>
<path vector-effect="non-scaling-stroke" d="M5 238 6 256 7 276 8 299 9 323 10 351 11 383 12 415 13 454 14 493 15 528 16 567 17 613 18 667 19 718 20 766 21 801 22 820 23 820 24 820 25 820 26 810 27 789 28 766 29 745 30 726 31 698 32 674 33 644 34 626 35 600 36 572 37 540 38 514 39 490 40 475"/>
<path vector-effect="non-scaling-stroke" d="M5 239 6 254 7 271 8 291 9 312 10 333 11 362 12 395 13 431 14 466 15 505 16 544 17 585 18 631 19 682 20 732 21 756 22 759 23 772 24 748 25 732 26 707 27 690 28 668 29 645 30 627 31 604 32 584 33 558 34 532 35 504 36 490 37 479 38 467 39 456 40 442"/>
<path vector-effect="non-scaling-stroke" d="M5 323 6 350 7 380 8 413 9 447 10 484 11 523 12 565 13 609 14 657 15 708 16 754 17 781 18 820 19 808 20 820 21 802 22 814 23 813 24 782 25 820 26 820 27 775 28 790 29 761 30 763 31 735 32 715 33 696 34 673 35 643 36 623 37 607 38 591 39 572 40 548"/>
</g>
<g clip-path="url(#cpd)" fill="none" stroke="#5AA58C" stroke-width="1.7" stroke-linejoin="round" transform="translate(1594.50,170.50) scale(9.5900,0.5)">
<path vector-effect="non-scaling-stroke" d="M0 98 1 101 2 104 3 107 4 111 5 115 6 119 7 124 8 130 9 136 10 144 11 154 12 166 13 180 14 198 15 220 16 247 17 280 18 320 19 368 20 425 21 491 22 567 23 653 24 738 25 775 26 789 27 765 28 773 29 755 30 742 31 753 32 731 33 746 34 756 35 770 36 758 37 762 38 737 39 735 40 721"/>
<path vector-effect="non-scaling-stroke" d="M0 83 1 87 2 90 3 94 4 99 5 104 6 109 7 116 8 123 9 132 10 142 11 154 12 169 13 186 14 206 15 231 16 260 17 294 18 334 19 381 20 435 21 496 22 566 23 640 24 714 25 710 26 714 27 737 28 755 29 746 30 761 31 733 32 729 33 712 34 713 35 721 36 721 37 712 38 688 39 711 40 688"/>
<path vector-effect="non-scaling-stroke" d="M0 77 1 81 2 84 3 87 4 91 5 96 6 101 7 107 8 113 9 121 10 131 11 142 12 156 13 173 14 194 15 220 16 251 17 288 18 333 19 386 20 448 21 521 22 603 23 683 24 706 25 710 26 725 27 745 28 759 29 755 30 765 31 754 32 738 33 746 34 727 35 719 36 682 37 692 38 652 39 671 40 670"/>
<path vector-effect="non-scaling-stroke" d="M0 99 1 103 2 106 3 110 4 113 5 118 6 123 7 129 8 135 9 143 10 152 11 163 12 177 13 193 14 212 15 236 16 264 17 298 18 339 19 387 20 443 21 508 22 582 23 660 24 725 25 737 26 708 27 715 28 753 29 758 30 753 31 746 32 746 33 747 34 739 35 745 36 755 37 739 38 713 39 709 40 687"/>
<path vector-effect="non-scaling-stroke" d="M0 76 1 79 2 83 3 87 4 91 5 96 6 102 7 108 8 116 9 125 10 135 11 148 12 163 13 181 14 202 15 228 16 259 17 296 18 340 19 392 20 452 21 521 22 600 23 679 24 721 25 720 26 718 27 723 28 731 29 756 30 763 31 759 32 764 33 760 34 786 35 771 36 748 37 766 38 754 39 747 40 734"/>
<path vector-effect="non-scaling-stroke" d="M0 106 1 109 2 112 3 115 4 119 5 124 6 129 7 134 8 141 9 149 10 159 11 171 12 185 13 203 14 224 15 251 16 283 17 322 18 368 19 423 20 487 21 560 22 643 23 712 24 723 25 739 26 749 27 726 28 749 29 723 30 719 31 720 32 718 33 750 34 753 35 722 36 706 37 686 38 663 39 668 40 661"/>
<path vector-effect="non-scaling-stroke" d="M0 87 1 90 2 93 3 96 4 100 5 104 6 109 7 115 8 121 9 128 10 138 11 148 12 162 13 178 14 198 15 222 16 252 17 287 18 331 19 382 20 443 21 513 22 593 23 678 24 719 25 740 26 775 27 750 28 741 29 746 30 746 31 716 32 740 33 781 34 748 35 742 36 738 37 726 38 722 39 739 40 733"/>
<path vector-effect="non-scaling-stroke" d="M0 91 1 94 2 97 3 101 4 104 5 109 6 113 7 119 8 125 9 133 10 142 11 153 12 166 13 183 14 202 15 227 16 256 17 292 18 334 19 385 20 445 21 514 22 592 23 677 24 751 25 770 26 765 27 755 28 763 29 762 30 767 31 753 32 775 33 778 34 773 35 775 36 740 37 744 38 738 39 727 40 722"/>
<path vector-effect="non-scaling-stroke" d="M0 100 1 103 2 106 3 110 4 114 5 119 6 124 7 130 8 137 9 145 10 155 11 167 12 182 13 199 14 221 15 246 16 277 17 314 18 358 19 410 20 470 21 539 22 617 23 698 24 725 25 722 26 713 27 711 28 714 29 706 30 716 31 710 32 703 33 719 34 733 35 739 36 728 37 720 38 701 39 687 40 672"/>
<path vector-effect="non-scaling-stroke" d="M0 82 1 84 2 87 3 91 4 94 5 98 6 102 7 107 8 113 9 120 10 129 11 139 12 151 13 166 14 185 15 209 16 237 17 273 18 316 19 367 20 428 21 499 22 580 23 668 24 735 25 734 26 760 27 731 28 731 29 718 30 720 31 726 32 730 33 728 34 715 35 720 36 719 37 714 38 736 39 713 40 730"/>
<path vector-effect="non-scaling-stroke" d="M0 97 1 100 2 103 3 106 4 109 5 113 6 117 7 122 8 127 9 133 10 140 11 149 12 160 13 173 14 190 15 210 16 235 17 266 18 304 19 350 20 405 21 469 22 542 23 621 24 677 25 689 26 702 27 706 28 707 29 690 30 681 31 662 32 657 33 666 34 657 35 639 36 638 37 615 38 641 39 612 40 601"/>
<path vector-effect="non-scaling-stroke" d="M0 87 1 90 2 94 3 98 4 102 5 106 6 112 7 118 8 125 9 133 10 143 11 155 12 169 13 186 14 207 15 232 16 263 17 299 18 342 19 393 20 452 21 520 22 597 23 683 24 763 25 778 26 752 27 766 28 757 29 760 30 743 31 757 32 727 33 754 34 727 35 732 36 719 37 751 38 727 39 735 40 733"/>
<path vector-effect="non-scaling-stroke" d="M0 84 1 87 2 91 3 95 4 99 5 104 6 110 7 116 8 123 9 132 10 142 11 154 12 169 13 186 14 207 15 232 16 261 17 296 18 337 19 385 20 441 21 504 22 575 23 655 24 738 25 771 26 767 27 768 28 767 29 782 30 780 31 778 32 786 33 771 34 767 35 741 36 746 37 719 38 714 39 720 40 704"/>
<path vector-effect="non-scaling-stroke" d="M0 89 1 92 2 95 3 98 4 101 5 105 6 110 7 115 8 121 9 128 10 136 11 147 12 159 13 175 14 195 15 219 16 250 17 287 18 333 19 388 20 453 21 529 22 616 23 705 24 745 25 720 26 725 27 726 28 727 29 738 30 746 31 741 32 740 33 752 34 756 35 755 36 763 37 729 38 715 39 687 40 673"/>
<path vector-effect="non-scaling-stroke" d="M0 98 1 101 2 104 3 107 4 111 5 115 6 119 7 125 8 131 9 138 10 146 11 157 12 170 13 186 14 206 15 230 16 260 17 297 18 341 19 395 20 458 21 531 22 612 23 675 24 707 25 710 26 717 27 715 28 749 29 727 30 750 31 757 32 751 33 744 34 732 35 720 36 700 37 706 38 695 39 714 40 687"/>
<path vector-effect="non-scaling-stroke" d="M0 77 1 80 2 84 3 88 4 93 5 98 6 103 7 110 8 117 9 126 10 137 11 149 12 164 13 182 14 203 15 228 16 258 17 293 18 335 19 384 20 440 21 504 22 577 23 655 24 705 25 727 26 735 27 749 28 761 29 774 30 749 31 755 32 738 33 741 34 728 35 707 36 701 37 727 38 702 39 681 40 664"/>
<path vector-effect="non-scaling-stroke" d="M0 92 1 95 2 98 3 102 4 106 5 111 6 116 7 122 8 129 9 137 10 147 11 158 12 172 13 189 14 208 15 232 16 261 17 295 18 335 19 383 20 439 21 503 22 577 23 657 24 733 25 785 26 746 27 745 28 761 29 746 30 737 31 742 32 730 33 734 34 736 35 729 36 716 37 716 38 731 39 708 40 666"/>
<path vector-effect="non-scaling-stroke" d="M0 95 1 98 2 102 3 106 4 110 5 115 6 120 7 126 8 133 9 141 10 151 11 163 12 177 13 194 14 214 15 239 16 269 17 304 18 346 19 396 20 453 21 519 22 592 23 664 24 716 25 725 26 712 27 729 28 710 29 706 30 701 31 717 32 707 33 686 34 707 35 720 36 689 37 692 38 678 39 638 40 613"/>
<path vector-effect="non-scaling-stroke" d="M0 77 1 80 2 83 3 86 4 89 5 93 6 98 7 102 8 108 9 115 10 123 11 133 12 145 13 160 14 178 15 201 16 229 17 263 18 305 19 355 20 415 21 484 22 563 23 651 24 726 25 743 26 733 27 723 28 750 29 748 30 769 31 768 32 788 33 777 34 765 35 756 36 753 37 734 38 719 39 730 40 709"/>
<path vector-effect="non-scaling-stroke" d="M0 74 1 77 2 81 3 85 4 89 5 94 6 100 7 106 8 113 9 122 10 132 11 143 12 158 13 174 14 194 15 219 16 247 17 281 18 322 19 369 20 424 21 487 22 559 23 638 24 723 25 741 26 739 27 761 28 760 29 759 30 761 31 745 32 759 33 751 34 728 35 728 36 719 37 704 38 714 39 695 40 688"/>
<path vector-effect="non-scaling-stroke" d="M0 91 1 94 2 96 3 99 4 103 5 106 6 110 7 115 8 120 9 126 10 134 11 143 12 154 13 167 14 184 15 205 16 231 17 263 18 302 19 349 20 406 21 473 22 551 23 638 24 720 25 766 26 767 27 764 28 753 29 762 30 767 31 786 32 769 33 790 34 773 35 755 36 733 37 721 38 721 39 691 40 695"/>
<path vector-effect="non-scaling-stroke" d="M0 85 1 88 2 92 3 95 4 99 5 104 6 109 7 115 8 122 9 131 10 140 11 152 12 166 13 183 14 203 15 227 16 256 17 290 18 331 19 379 20 435 21 498 22 571 23 649 24 715 25 721 26 729 27 715 28 726 29 748 30 755 31 780 32 770 33 773 34 764 35 718 36 709 37 725 38 703 39 697 40 695"/>
<path vector-effect="non-scaling-stroke" d="M0 105 1 108 2 111 3 114 4 118 5 122 6 127 7 132 8 139 9 146 10 155 11 166 12 179 13 195 14 214 15 238 16 266 17 301 18 343 19 393 20 452 21 521 22 599 23 686 24 754 25 768 26 778 27 764 28 764 29 771 30 780 31 757 32 771 33 756 34 751 35 754 36 757 37 757 38 739 39 745 40 744"/>
<path vector-effect="non-scaling-stroke" d="M0 76 1 79 2 82 3 85 4 89 5 92 6 97 7 102 8 108 9 114 10 123 11 132 12 145 13 160 14 178 15 201 16 229 17 264 18 306 19 357 20 417 21 488 22 569 23 660 24 747 25 783 26 771 27 773 28 762 29 758 30 727 31 742 32 761 33 739 34 743 35 735 36 730 37 745 38 718 39 729 40 723"/>
<path vector-effect="non-scaling-stroke" d="M0 79 1 82 2 85 3 89 4 94 5 98 6 104 7 110 8 117 9 125 10 135 11 147 12 161 13 178 14 198 15 222 16 251 17 285 18 326 19 374 20 431 21 496 22 569 23 644 24 697 25 680 26 703 27 707 28 703 29 705 30 713 31 723 32 734 33 739 34 727 35 728 36 700 37 697 38 660 39 659 40 632"/>
<path vector-effect="non-scaling-stroke" d="M0 79 1 82 2 85 3 88 4 92 5 96 6 101 7 107 8 113 9 121 10 130 11 141 12 154 13 170 14 190 15 214 16 243 17 279 18 321 19 371 20 430 21 498 22 576 23 658 24 733 25 729 26 720 27 722 28 711 29 737 30 719 31 735 32 742 33 740 34 738 35 733 36 727 37 735 38 728 39 734 40 724"/>
<path vector-effect="non-scaling-stroke" d="M0 74 1 77 2 80 3 83 4 87 5 91 6 95 7 100 8 106 9 113 10 121 11 131 12 144 13 159 14 177 15 200 16 228 17 262 18 303 19 352 20 410 21 477 22 554 23 639 24 710 25 752 26 761 27 759 28 764 29 771 30 759 31 742 32 771 33 765 34 763 35 756 36 736 37 713 38 700 39 685 40 671"/>
<path vector-effect="non-scaling-stroke" d="M0 94 1 97 2 101 3 104 4 108 5 113 6 118 7 124 8 131 9 139 10 149 11 160 12 174 13 192 14 212 15 237 16 268 17 304 18 347 19 399 20 459 21 528 22 606 23 693 24 754 25 765 26 742 27 734 28 737 29 740 30 745 31 769 32 765 33 758 34 783 35 763 36 743 37 730 38 730 39 696 40 692"/>
<path vector-effect="non-scaling-stroke" d="M0 96 1 99 2 103 3 107 4 111 5 116 6 122 7 128 8 135 9 144 10 154 11 166 12 180 13 198 14 218 15 243 16 273 17 308 18 349 19 397 20 453 21 518 22 590 23 665 24 703 25 732 26 739 27 753 28 767 29 784 30 759 31 768 32 768 33 743 34 739 35 744 36 720 37 702 38 715 39 674 40 680"/>
<path vector-effect="non-scaling-stroke" d="M0 97 1 100 2 104 3 108 4 112 5 116 6 122 7 127 8 134 9 143 10 152 11 164 12 178 13 194 14 214 15 239 16 268 17 304 18 346 19 396 20 454 21 522 22 595 23 662 24 682 25 705 26 682 27 693 28 710 29 697 30 674 31 687 32 663 33 678 34 658 35 647 36 662 37 630 38 640 39 636 40 649"/>
<path vector-effect="non-scaling-stroke" d="M0 106 1 109 2 112 3 115 4 119 5 123 6 127 7 132 8 138 9 144 10 152 11 162 12 174 13 189 14 207 15 230 16 258 17 292 18 334 19 385 20 445 21 516 22 595 23 658 24 657 25 669 26 696 27 671 28 689 29 685 30 679 31 712 32 729 33 733 34 741 35 709 36 670 37 643 38 652 39 645 40 633"/>
<path vector-effect="non-scaling-stroke" d="M0 95 1 98 2 101 3 105 4 109 5 113 6 118 7 124 8 131 9 139 10 148 11 159 12 173 13 189 14 209 15 232 16 261 17 296 18 337 19 385 20 442 21 507 22 579 23 652 24 682 25 670 26 674 27 686 28 715 29 706 30 691 31 683 32 696 33 710 34 724 35 708 36 709 37 676 38 667 39 644 40 634"/>
<path vector-effect="non-scaling-stroke" d="M0 82 1 86 2 89 3 93 4 97 5 102 6 107 7 113 8 120 9 129 10 139 11 151 12 165 13 183 14 204 15 229 16 260 17 297 18 341 19 393 20 453 21 524 22 603 23 683 24 716 25 727 26 732 27 702 28 700 29 703 30 693 31 694 32 689 33 699 34 681 35 703 36 706 37 727 38 731 39 715 40 721"/>
<path vector-effect="non-scaling-stroke" d="M0 77 1 80 2 84 3 87 4 91 5 95 6 100 7 105 8 112 9 119 10 129 11 140 12 154 13 171 14 193 15 219 16 252 17 292 18 341 19 399 20 467 21 546 22 632 23 699 24 712 25 727 26 741 27 737 28 739 29 739 30 706 31 740 32 736 33 719 34 724 35 709 36 692 37 681 38 682 39 658 40 657"/>
<path vector-effect="non-scaling-stroke" d="M0 83 1 86 2 89 3 92 4 96 5 99 6 103 7 108 8 114 9 120 10 128 11 137 12 148 13 162 14 180 15 201 16 227 17 260 18 300 19 348 20 406 21 474 22 553 23 642 24 701 25 722 26 736 27 737 28 729 29 758 30 742 31 747 32 756 33 743 34 736 35 754 36 773 37 757 38 747 39 732 40 698"/>
<path vector-effect="non-scaling-stroke" d="M0 93 1 96 2 99 3 102 4 106 5 110 6 114 7 119 8 125 9 132 10 140 11 150 12 161 13 176 14 194 15 215 16 242 17 275 18 314 19 361 20 416 21 481 22 555 23 632 24 686 25 688 26 671 27 692 28 669 29 683 30 700 31 700 32 699 33 726 34 700 35 692 36 689 37 653 38 653 39 641 40 627"/>
<path vector-effect="non-scaling-stroke" d="M0 77 1 80 2 83 3 86 4 90 5 93 6 98 7 103 8 109 9 115 10 124 11 134 12 146 13 161 14 180 15 204 16 233 17 268 18 311 19 364 20 425 21 498 22 581 23 670 24 726 25 711 26 711 27 721 28 707 29 731 30 716 31 714 32 707 33 711 34 703 35 699 36 701 37 679 38 663 39 649 40 636"/>
<path vector-effect="non-scaling-stroke" d="M0 92 1 95 2 98 3 102 4 105 5 110 6 115 7 120 8 127 9 135 10 144 11 155 12 168 13 184 14 204 15 228 16 256 17 291 18 332 19 382 20 439 21 506 22 582 23 667 24 747 25 780 26 776 27 751 28 734 29 730 30 748 31 735 32 767 33 774 34 759 35 736 36 728 37 704 38 703 39 666 40 677"/>
<path vector-effect="non-scaling-stroke" d="M0 74 1 77 2 81 3 85 4 89 5 94 6 99 7 106 8 113 9 121 10 131 11 143 12 157 13 173 14 193 15 217 16 245 17 278 18 318 19 364 20 417 21 478 22 546 23 616 24 670 25 700 26 712 27 723 28 721 29 697 30 710 31 710 32 700 33 695 34 700 35 724 36 717 37 729 38 737 39 724 40 715"/>
<path vector-effect="non-scaling-stroke" d="M0 91 1 95 2 98 3 102 4 106 5 111 6 117 7 123 8 131 9 140 10 150 11 162 12 177 13 195 14 216 15 242 16 273 17 310 18 353 19 404 20 463 21 531 22 607 23 687 24 753 25 773 26 755 27 713 28 718 29 727 30 727 31 731 32 721 33 727 34 709 35 708 36 722 37 745 38 713 39 734 40 748"/>
<path vector-effect="non-scaling-stroke" d="M0 90 1 93 2 96 3 99 4 103 5 108 6 112 7 118 8 125 9 133 10 142 11 154 12 168 13 185 14 207 15 233 16 266 17 306 18 354 19 411 20 478 21 556 22 644 23 708 24 735 25 724 26 716 27 725 28 727 29 728 30 735 31 737 32 741 33 764 34 761 35 770 36 733 37 759 38 735 39 695 40 715"/>
<path vector-effect="non-scaling-stroke" d="M0 89 1 93 2 96 3 100 4 105 5 109 6 115 7 121 8 129 9 137 10 147 11 159 12 174 13 191 14 211 15 236 16 265 17 300 18 342 19 391 20 447 21 512 22 586 23 662 24 724 25 736 26 736 27 740 28 727 29 733 30 724 31 725 32 746 33 763 34 743 35 736 36 725 37 723 38 711 39 697 40 721"/>
<path vector-effect="non-scaling-stroke" d="M0 81 1 84 2 88 3 92 4 96 5 101 6 106 7 112 8 120 9 128 10 138 11 150 12 164 13 181 14 202 15 227 16 256 17 292 18 334 19 383 20 441 21 507 22 583 23 668 24 744 25 750 26 746 27 741 28 712 29 732 30 733 31 725 32 745 33 735 34 728 35 711 36 721 37 692 38 728 39 722 40 720"/>
<path vector-effect="non-scaling-stroke" d="M0 94 1 97 2 100 3 104 4 108 5 112 6 117 7 123 8 130 9 139 10 148 11 160 12 175 13 192 14 214 15 240 16 271 17 310 18 356 19 410 20 474 21 548 22 631 23 699 24 698 25 724 26 726 27 724 28 742 29 742 30 728 31 701 32 677 33 690 34 677 35 701 36 707 37 671 38 672 39 648 40 644"/>
<path vector-effect="non-scaling-stroke" d="M0 89 1 92 2 96 3 100 4 104 5 108 6 114 7 120 8 127 9 135 10 145 11 156 12 170 13 187 14 208 15 232 16 262 17 297 18 339 19 389 20 448 21 515 22 592 23 668 24 716 25 700 26 722 27 732 28 765 29 759 30 765 31 770 32 745 33 747 34 757 35 750 36 732 37 739 38 728 39 689 40 697"/>
<path vector-effect="non-scaling-stroke" d="M0 76 1 79 2 82 3 86 4 90 5 95 6 100 7 105 8 112 9 120 10 129 11 141 12 154 13 171 14 190 15 214 16 243 17 277 18 318 19 366 20 421 21 485 22 558 23 638 24 710 25 736 26 744 27 748 28 734 29 752 30 738 31 727 32 728 33 734 34 703 35 694 36 701 37 691 38 676 39 651 40 652"/>
<path vector-effect="non-scaling-stroke" d="M0 73 1 76 2 80 3 83 4 87 5 92 6 97 7 103 8 110 9 118 10 127 11 139 12 152 13 169 14 189 15 212 16 241 17 275 18 315 19 362 20 417 21 480 22 551 23 630 24 709 25 738 26 764 27 737 28 715 29 729 30 748 31 731 32 753 33 740 34 729 35 718 36 693 37 695 38 670 39 687 40 679"/>
<path vector-effect="non-scaling-stroke" d="M0 84 1 87 2 90 3 94 4 98 5 102 6 107 7 113 8 120 9 128 10 137 11 148 12 162 13 178 14 198 15 223 16 252 17 287 18 330 19 380 20 439 21 508 22 587 23 675 24 745 25 773 26 745 27 752 28 730 29 733 30 749 31 765 32 749 33 736 34 738 35 716 36 692 37 660 38 669 39 648 40 643"/>
<path vector-effect="non-scaling-stroke" d="M0 99 1 102 2 105 3 109 4 113 5 117 6 122 7 128 8 135 9 142 10 152 11 163 12 177 13 194 14 214 15 239 16 269 17 306 18 350 19 402 20 463 21 534 22 613 23 682 24 675 25 695 26 702 27 700 28 722 29 738 30 726 31 710 32 702 33 740 34 734 35 734 36 753 37 753 38 700 39 707 40 700"/>
<path vector-effect="non-scaling-stroke" d="M0 87 1 90 2 93 3 96 4 100 5 104 6 108 7 113 8 119 9 126 10 135 11 145 12 157 13 173 14 192 15 215 16 243 17 278 18 320 19 371 20 430 21 500 22 579 23 669 24 756 25 777 26 783 27 749 28 782 29 781 30 753 31 777 32 809 33 810 34 802 35 803 36 803 37 793 38 804 39 788 40 780"/>
</g>
<rect x="1594.5" y="170.5" width="383.6" height="384.1" fill="none" stroke="#262626" stroke-width="1.7"/>
<text x="1594.5" y="584.7" font-size="21.8" text-anchor="middle" fill="#1a1a1a">-4</text>
<text x="1690.4" y="584.7" font-size="21.8" text-anchor="middle" fill="#1a1a1a">-3</text>
<text x="1786.3" y="584.7" font-size="21.8" text-anchor="middle" fill="#1a1a1a">-2</text>
<text x="1882.2" y="584.7" font-size="21.8" text-anchor="middle" fill="#1a1a1a">-1</text>
<text x="1978.1" y="584.7" font-size="21.8" text-anchor="middle" fill="#1a1a1a">0</text>
<text x="1586.5" y="181.8" font-size="21.8" text-anchor="end" fill="#1a1a1a">10<tspan font-size="17.4" dy="-10.4">3</tspan></text>
<text x="1586.5" y="258.6" font-size="21.8" text-anchor="end" fill="#1a1a1a">10<tspan font-size="17.4" dy="-10.4">1</tspan></text>
<text x="1586.5" y="335.4" font-size="21.8" text-anchor="end" fill="#1a1a1a">10<tspan font-size="17.4" dy="-10.4">-1</tspan></text>
<text x="1586.5" y="412.3" font-size="21.8" text-anchor="end" fill="#1a1a1a">10<tspan font-size="17.4" dy="-10.4">-3</tspan></text>
<text x="1586.5" y="489.1" font-size="21.8" text-anchor="end" fill="#1a1a1a">10<tspan font-size="17.4" dy="-10.4">-5</tspan></text>
<text x="1586.5" y="565.9" font-size="21.8" text-anchor="end" fill="#1a1a1a">10<tspan font-size="17.4" dy="-10.4">-7</tspan></text>
<path d="M1690.4 170.5v8M1690.4 554.6v-8M1786.3 170.5v8M1786.3 554.6v-8M1882.2 170.5v8M1882.2 554.6v-8M1594.5 247.3h8M1978.1 247.3h-8M1594.5 324.1h8M1978.1 324.1h-8M1594.5 401.0h8M1978.1 401.0h-8M1594.5 477.8h8M1978.1 477.8h-8" stroke="#262626" stroke-width="1.7" fill="none"/>
<text x="1786.3" y="617.7" font-size="25" text-anchor="middle" fill="#1a1a1a">V<tspan font-size="19.5" dy="11.5">G</tspan><tspan dy="-11.5"> (V)</tspan></text>
<text x="1525.0" y="362.6" font-size="25.6" text-anchor="middle" fill="#1a1a1a" transform="rotate(-90 1525.0 362.6)">I<tspan font-size="19.5" dy="11">D</tspan><tspan dy="-11"> (</tspan><tspan font-style="italic">μ</tspan>A/<tspan font-style="italic">μ</tspan>m)</text>
<text x="1947.9" y="222.8" font-size="35" text-anchor="end" fill="#5AA58C"><tspan font-style="italic">L</tspan><tspan font-style="italic" font-size="25" dy="8">CH</tspan><tspan dy="-8"> = 780 nm</tspan></text>
<text x="1502.0" y="159.3" font-size="44" font-weight="bold">d</text>
<text x="127.0" y="549.5" font-size="34.5" fill="#404040"><tspan font-style="italic">V</tspan><tspan font-size="25" dy="8">D</tspan><tspan dy="-8"> = -1 V</tspan></text>
<clipPath id="cpe"><rect x="28.9" y="751.0" width="452.1" height="398.6"/></clipPath>
<filter id="ble" x="-5%" y="-5%" width="110%" height="110%"><feGaussianBlur stdDeviation="1.05"/></filter>
<g clip-path="url(#cpe)"><g filter="url(#ble)">
<rect x="25.9" y="748.0" width="458.1" height="404.6" fill="#7F6C3A"/>
<rect x="25.9" y="748.0" width="9.0" height="404.6" fill="#756233"/>
<rect x="25.9" y="845.8" width="60.0" height="49.4" fill="#86704A"/>
<rect x="134.9" y="845.8" width="50.5" height="49.4" fill="#86704A"/>
<rect x="234.4" y="845.8" width="50.4" height="49.4" fill="#86704A"/>
<rect x="333.8" y="845.8" width="50.4" height="49.4" fill="#86704A"/>
<rect x="433.2" y="845.8" width="53.2" height="49.4" fill="#86704A"/>
<rect x="25.9" y="991.6" width="60.0" height="54.6" fill="#86704A"/>
<rect x="134.9" y="991.6" width="50.5" height="54.6" fill="#86704A"/>
<rect x="234.4" y="991.6" width="50.4" height="54.6" fill="#86704A"/>
<rect x="333.8" y="991.6" width="50.4" height="54.6" fill="#86704A"/>
<rect x="433.2" y="991.6" width="53.2" height="54.6" fill="#86704A"/>
<rect x="109.1" y="733.0" width="2.6" height="56.5" fill="#BC8C3E"/>
<polygon points="78.6,764.0 83.6,764.0 105.4,769.5 83.6,775.0 78.6,775.0" fill="#FFF795"/>
<polygon points="142.0,764.0 137.0,764.0 115.4,769.5 137.0,775.0 142.0,775.0" fill="#FFF795"/>
<polygon points="106.4,774.5 108.9,776.5 75.6,807.2 68.6,807.2 68.6,803.2" fill="#F7E372"/>
<polygon points="107.9,777.5 109.9,778.5 101.8,807.2 93.8,807.2" fill="#FFF795"/>
<polygon points="114.4,774.5 116.9,773.5 150.0,801.2 164.0,801.2 166.0,807.2 147.0,807.2 145.0,802.2" fill="#F7E372"/>
<rect x="208.6" y="733.0" width="2.6" height="56.5" fill="#BC8C3E"/>
<polygon points="178.0,764.0 183.0,764.0 204.9,769.5 183.0,775.0 178.0,775.0" fill="#FFF795"/>
<polygon points="241.5,764.0 236.5,764.0 214.9,769.5 236.5,775.0 241.5,775.0" fill="#FFF795"/>
<polygon points="205.9,774.5 208.4,776.5 175.0,807.2 168.0,807.2 168.0,803.2" fill="#F7E372"/>
<polygon points="207.4,777.5 209.4,778.5 201.3,807.2 193.3,807.2" fill="#FFF795"/>
<polygon points="213.9,774.5 216.4,773.5 249.5,801.2 263.5,801.2 265.5,807.2 246.5,807.2 244.5,802.2" fill="#F7E372"/>
<rect x="308.0" y="733.0" width="2.6" height="56.5" fill="#BC8C3E"/>
<polygon points="277.5,764.0 282.5,764.0 304.3,769.5 282.5,775.0 277.5,775.0" fill="#FFF795"/>
<polygon points="340.9,764.0 335.9,764.0 314.3,769.5 335.9,775.0 340.9,775.0" fill="#FFF795"/>
<polygon points="305.3,774.5 307.8,776.5 274.5,807.2 267.5,807.2 267.5,803.2" fill="#F7E372"/>
<polygon points="306.8,777.5 308.8,778.5 300.7,807.2 292.7,807.2" fill="#FFF795"/>
<polygon points="313.3,774.5 315.8,773.5 348.9,801.2 362.9,801.2 364.9,807.2 345.9,807.2 343.9,802.2" fill="#F7E372"/>
<rect x="407.4" y="733.0" width="2.6" height="56.5" fill="#BC8C3E"/>
<polygon points="376.9,764.0 381.9,764.0 403.8,769.5 381.9,775.0 376.9,775.0" fill="#FFF795"/>
<polygon points="440.4,764.0 435.4,764.0 413.8,769.5 435.4,775.0 440.4,775.0" fill="#FFF795"/>
<polygon points="404.8,774.5 407.2,776.5 373.9,807.2 366.9,807.2 366.9,803.2" fill="#F7E372"/>
<polygon points="406.2,777.5 408.2,778.5 400.1,807.2 392.1,807.2" fill="#FFF795"/>
<polygon points="412.8,774.5 415.2,773.5 448.4,801.2 462.4,801.2 464.4,807.2 445.4,807.2 443.4,802.2" fill="#F7E372"/>
<rect x="109.1" y="884.9" width="2.6" height="51.5" fill="#BC8C3E"/>
<polygon points="78.6,910.9 83.6,910.9 105.4,916.4 83.6,921.9 78.6,921.9" fill="#FFF795"/>
<polygon points="142.0,910.9 137.0,910.9 115.4,916.4 137.0,921.9 142.0,921.9" fill="#FFF795"/>
<polygon points="106.4,921.4 108.9,923.4 75.6,953.9 68.6,953.9 68.6,949.9" fill="#F7E372"/>
<polygon points="107.9,924.4 109.9,925.4 101.8,953.9 93.8,953.9" fill="#FFF795"/>
<polygon points="114.4,921.4 116.9,920.4 150.0,947.9 164.0,947.9 166.0,953.9 147.0,953.9 145.0,948.9" fill="#F7E372"/>
<rect x="208.6" y="884.9" width="2.6" height="51.5" fill="#BC8C3E"/>
<polygon points="178.0,910.9 183.0,910.9 204.9,916.4 183.0,921.9 178.0,921.9" fill="#FFF795"/>
<polygon points="241.5,910.9 236.5,910.9 214.9,916.4 236.5,921.9 241.5,921.9" fill="#FFF795"/>
<polygon points="205.9,921.4 208.4,923.4 175.0,953.9 168.0,953.9 168.0,949.9" fill="#F7E372"/>
<polygon points="207.4,924.4 209.4,925.4 201.3,953.9 193.3,953.9" fill="#FFF795"/>
<polygon points="213.9,921.4 216.4,920.4 249.5,947.9 263.5,947.9 265.5,953.9 246.5,953.9 244.5,948.9" fill="#F7E372"/>
<rect x="308.0" y="884.9" width="2.6" height="51.5" fill="#BC8C3E"/>
<polygon points="277.5,910.9 282.5,910.9 304.3,916.4 282.5,921.9 277.5,921.9" fill="#FFF795"/>
<polygon points="340.9,910.9 335.9,910.9 314.3,916.4 335.9,921.9 340.9,921.9" fill="#FFF795"/>
<polygon points="305.3,921.4 307.8,923.4 274.5,953.9 267.5,953.9 267.5,949.9" fill="#F7E372"/>
<polygon points="306.8,924.4 308.8,925.4 300.7,953.9 292.7,953.9" fill="#FFF795"/>
<polygon points="313.3,921.4 315.8,920.4 348.9,947.9 362.9,947.9 364.9,953.9 345.9,953.9 343.9,948.9" fill="#F7E372"/>
<rect x="407.4" y="884.9" width="2.6" height="51.5" fill="#BC8C3E"/>
<polygon points="376.9,910.9 381.9,910.9 403.8,916.4 381.9,921.9 376.9,921.9" fill="#FFF795"/>
<polygon points="440.4,910.9 435.4,910.9 413.8,916.4 435.4,921.9 440.4,921.9" fill="#FFF795"/>
<polygon points="404.8,921.4 407.2,923.4 373.9,953.9 366.9,953.9 366.9,949.9" fill="#F7E372"/>
<polygon points="406.2,924.4 408.2,925.4 400.1,953.9 392.1,953.9" fill="#FFF795"/>
<polygon points="412.8,921.4 415.2,920.4 448.4,947.9 462.4,947.9 464.4,953.9 445.4,953.9 443.4,948.9" fill="#F7E372"/>
<rect x="109.1" y="1036.7" width="2.6" height="51.4" fill="#BC8C3E"/>
<polygon points="78.6,1062.6 83.6,1062.6 105.4,1068.1 83.6,1073.6 78.6,1073.6" fill="#FFF795"/>
<polygon points="142.0,1062.6 137.0,1062.6 115.4,1068.1 137.0,1073.6 142.0,1073.6" fill="#FFF795"/>
<polygon points="106.4,1073.1 108.9,1075.1 75.6,1105.9 68.6,1105.9 68.6,1101.9" fill="#F7E372"/>
<polygon points="107.9,1076.1 109.9,1077.1 101.8,1105.9 93.8,1105.9" fill="#FFF795"/>
<polygon points="114.4,1073.1 116.9,1072.1 150.0,1099.9 164.0,1099.9 166.0,1105.9 147.0,1105.9 145.0,1100.9" fill="#F7E372"/>
<rect x="208.6" y="1036.7" width="2.6" height="51.4" fill="#BC8C3E"/>
<polygon points="178.0,1062.6 183.0,1062.6 204.9,1068.1 183.0,1073.6 178.0,1073.6" fill="#FFF795"/>
<polygon points="241.5,1062.6 236.5,1062.6 214.9,1068.1 236.5,1073.6 241.5,1073.6" fill="#FFF795"/>
<polygon points="205.9,1073.1 208.4,1075.1 175.0,1105.9 168.0,1105.9 168.0,1101.9" fill="#F7E372"/>
<polygon points="207.4,1076.1 209.4,1077.1 201.3,1105.9 193.3,1105.9" fill="#FFF795"/>
<polygon points="213.9,1073.1 216.4,1072.1 249.5,1099.9 263.5,1099.9 265.5,1105.9 246.5,1105.9 244.5,1100.9" fill="#F7E372"/>
<rect x="308.0" y="1036.7" width="2.6" height="51.4" fill="#BC8C3E"/>
<polygon points="277.5,1062.6 282.5,1062.6 304.3,1068.1 282.5,1073.6 277.5,1073.6" fill="#FFF795"/>
<polygon points="340.9,1062.6 335.9,1062.6 314.3,1068.1 335.9,1073.6 340.9,1073.6" fill="#FFF795"/>
<polygon points="305.3,1073.1 307.8,1075.1 274.5,1105.9 267.5,1105.9 267.5,1101.9" fill="#F7E372"/>
<polygon points="306.8,1076.1 308.8,1077.1 300.7,1105.9 292.7,1105.9" fill="#FFF795"/>
<polygon points="313.3,1073.1 315.8,1072.1 348.9,1099.9 362.9,1099.9 364.9,1105.9 345.9,1105.9 343.9,1100.9" fill="#F7E372"/>
<rect x="407.4" y="1036.7" width="2.6" height="51.4" fill="#BC8C3E"/>
<polygon points="376.9,1062.6 381.9,1062.6 403.8,1068.1 381.9,1073.6 376.9,1073.6" fill="#FFF795"/>
<polygon points="440.4,1062.6 435.4,1062.6 413.8,1068.1 435.4,1073.6 440.4,1073.6" fill="#FFF795"/>
<polygon points="404.8,1073.1 407.2,1075.1 373.9,1105.9 366.9,1105.9 366.9,1101.9" fill="#F7E372"/>
<polygon points="406.2,1076.1 408.2,1077.1 400.1,1105.9 392.1,1105.9" fill="#FFF795"/>
<polygon points="412.8,1073.1 415.2,1072.1 448.4,1099.9 462.4,1099.9 464.4,1105.9 445.4,1105.9 443.4,1100.9" fill="#F7E372"/>
<rect x="92.4" y="855.9" width="36.0" height="34.7" fill="#F8BB5C"/>
<rect x="191.9" y="855.9" width="36.0" height="34.7" fill="#F8BB5C"/>
<rect x="291.3" y="855.9" width="36.0" height="34.7" fill="#F8BB5C"/>
<rect x="390.8" y="855.9" width="36.0" height="34.7" fill="#F8BB5C"/>
<rect x="92.4" y="1003.2" width="36.0" height="35.5" fill="#F8BB5C"/>
<rect x="191.9" y="1003.2" width="36.0" height="35.5" fill="#F8BB5C"/>
<rect x="291.3" y="1003.2" width="36.0" height="35.5" fill="#F8BB5C"/>
<rect x="390.8" y="1003.2" width="36.0" height="35.5" fill="#F8BB5C"/>
<rect x="41.6" y="745.0" width="38.0" height="42.5" rx="4" fill="#FFF795" stroke="#F6D95A" stroke-width="1.2"/>
<rect x="141.0" y="745.0" width="38.0" height="42.5" rx="4" fill="#FFF795" stroke="#F6D95A" stroke-width="1.2"/>
<rect x="240.5" y="745.0" width="38.0" height="42.5" rx="4" fill="#FFF795" stroke="#F6D95A" stroke-width="1.2"/>
<rect x="339.9" y="745.0" width="38.0" height="42.5" rx="4" fill="#FFF795" stroke="#F6D95A" stroke-width="1.2"/>
<rect x="439.4" y="745.0" width="38.0" height="42.5" rx="4" fill="#FFF795" stroke="#F6D95A" stroke-width="1.2"/>
<rect x="41.6" y="896.9" width="38.0" height="36.8" rx="4" fill="#FFF795" stroke="#F6D95A" stroke-width="1.2"/>
<rect x="141.0" y="896.9" width="38.0" height="36.8" rx="4" fill="#FFF795" stroke="#F6D95A" stroke-width="1.2"/>
<rect x="240.5" y="896.9" width="38.0" height="36.8" rx="4" fill="#FFF795" stroke="#F6D95A" stroke-width="1.2"/>
<rect x="339.9" y="896.9" width="38.0" height="36.8" rx="4" fill="#FFF795" stroke="#F6D95A" stroke-width="1.2"/>
<rect x="439.4" y="896.9" width="38.0" height="36.8" rx="4" fill="#FFF795" stroke="#F6D95A" stroke-width="1.2"/>
<rect x="41.6" y="1048.7" width="38.0" height="36.7" rx="4" fill="#FFF795" stroke="#F6D95A" stroke-width="1.2"/>
<rect x="141.0" y="1048.7" width="38.0" height="36.7" rx="4" fill="#FFF795" stroke="#F6D95A" stroke-width="1.2"/>
<rect x="240.5" y="1048.7" width="38.0" height="36.7" rx="4" fill="#FFF795" stroke="#F6D95A" stroke-width="1.2"/>
<rect x="339.9" y="1048.7" width="38.0" height="36.7" rx="4" fill="#FFF795" stroke="#F6D95A" stroke-width="1.2"/>
<rect x="439.4" y="1048.7" width="38.0" height="36.7" rx="4" fill="#FFF795" stroke="#F6D95A" stroke-width="1.2"/>
<rect x="41.6" y="806.2" width="38.0" height="38.2" rx="4" fill="#FFF795" stroke="#F6D95A" stroke-width="1.2"/>
<rect x="91.3" y="806.2" width="38.0" height="38.2" rx="4" fill="#FFF795" stroke="#F6D95A" stroke-width="1.2"/>
<rect x="141.0" y="806.2" width="38.0" height="38.2" rx="4" fill="#FFF795" stroke="#F6D95A" stroke-width="1.2"/>
<rect x="190.8" y="806.2" width="38.0" height="38.2" rx="4" fill="#FFF795" stroke="#F6D95A" stroke-width="1.2"/>
<rect x="240.5" y="806.2" width="38.0" height="38.2" rx="4" fill="#FFF795" stroke="#F6D95A" stroke-width="1.2"/>
<rect x="290.2" y="806.2" width="38.0" height="38.2" rx="4" fill="#FFF795" stroke="#F6D95A" stroke-width="1.2"/>
<rect x="339.9" y="806.2" width="38.0" height="38.2" rx="4" fill="#FFF795" stroke="#F6D95A" stroke-width="1.2"/>
<rect x="389.6" y="806.2" width="38.0" height="38.2" rx="4" fill="#FFF795" stroke="#F6D95A" stroke-width="1.2"/>
<rect x="439.4" y="806.2" width="38.0" height="38.2" rx="4" fill="#FFF795" stroke="#F6D95A" stroke-width="1.2"/>
<rect x="41.6" y="952.9" width="38.0" height="37.5" rx="4" fill="#FFF795" stroke="#F6D95A" stroke-width="1.2"/>
<rect x="91.3" y="952.9" width="38.0" height="37.5" rx="4" fill="#FFF795" stroke="#F6D95A" stroke-width="1.2"/>
<rect x="141.0" y="952.9" width="38.0" height="37.5" rx="4" fill="#FFF795" stroke="#F6D95A" stroke-width="1.2"/>
<rect x="190.8" y="952.9" width="38.0" height="37.5" rx="4" fill="#FFF795" stroke="#F6D95A" stroke-width="1.2"/>
<rect x="240.5" y="952.9" width="38.0" height="37.5" rx="4" fill="#FFF795" stroke="#F6D95A" stroke-width="1.2"/>
<rect x="290.2" y="952.9" width="38.0" height="37.5" rx="4" fill="#FFF795" stroke="#F6D95A" stroke-width="1.2"/>
<rect x="339.9" y="952.9" width="38.0" height="37.5" rx="4" fill="#FFF795" stroke="#F6D95A" stroke-width="1.2"/>
<rect x="389.6" y="952.9" width="38.0" height="37.5" rx="4" fill="#FFF795" stroke="#F6D95A" stroke-width="1.2"/>
<rect x="439.4" y="952.9" width="38.0" height="37.5" rx="4" fill="#FFF795" stroke="#F6D95A" stroke-width="1.2"/>
<rect x="41.6" y="1104.9" width="38.0" height="37.4" rx="4" fill="#FFF795" stroke="#F6D95A" stroke-width="1.2"/>
<rect x="91.3" y="1104.9" width="38.0" height="37.4" rx="4" fill="#FFF795" stroke="#F6D95A" stroke-width="1.2"/>
<rect x="141.0" y="1104.9" width="38.0" height="37.4" rx="4" fill="#FFF795" stroke="#F6D95A" stroke-width="1.2"/>
<rect x="190.8" y="1104.9" width="38.0" height="37.4" rx="4" fill="#FFF795" stroke="#F6D95A" stroke-width="1.2"/>
<rect x="240.5" y="1104.9" width="38.0" height="37.4" rx="4" fill="#FFF795" stroke="#F6D95A" stroke-width="1.2"/>
<rect x="290.2" y="1104.9" width="38.0" height="37.4" rx="4" fill="#FFF795" stroke="#F6D95A" stroke-width="1.2"/>
<rect x="339.9" y="1104.9" width="38.0" height="37.4" rx="4" fill="#FFF795" stroke="#F6D95A" stroke-width="1.2"/>
<rect x="389.6" y="1104.9" width="38.0" height="37.4" rx="4" fill="#FFF795" stroke="#F6D95A" stroke-width="1.2"/>
<rect x="439.4" y="1104.9" width="38.0" height="37.4" rx="4" fill="#FFF795" stroke="#F6D95A" stroke-width="1.2"/>
<rect x="33.7" y="1074.6" width="5.6" height="75.0" fill="#F6BC55"/>
<rect x="26.0" y="1143.5" width="82.0" height="8.0" fill="#F6BC55"/>
<rect x="470.0" y="1143.5" width="14.0" height="8.0" fill="#F6BC55"/>
</g>
<rect x="52.8" y="1123.3" width="75.5" height="8.6" fill="#000"/>
</g>
<text x="5.5" y="709.4" font-size="44" font-weight="bold">e</text>
<line x1="609.6" y1="835.7" x2="609.6" y2="981.8" stroke="#6f6f6f" stroke-width="1.2"/>
<path d="M604.6 830.7l10 10M604.6 840.7l10 -10" stroke="#4d4d4d" stroke-width="1.3" fill="none"/>
<line x1="602.1" y1="835.7" x2="617.1" y2="835.7" stroke="#4d4d4d" stroke-width="1.3"/>
<path d="M604.6 976.8l10 10M604.6 986.8l10 -10" stroke="#4d4d4d" stroke-width="1.3" fill="none"/>
<line x1="602.1" y1="981.8" x2="617.1" y2="981.8" stroke="#4d4d4d" stroke-width="1.3"/>
<rect x="594.1" y="908.3" width="31.0" height="49.7" fill="#7189AD" stroke="#6f6f6f" stroke-width="1"/>
<rect x="606.3" y="926.0" width="6.6" height="6.6" fill="#fff" stroke="#555" stroke-width="1.1"/>
<polyline points="631.5,1036.5 631.7,1033.0 631.8,1029.4 632.1,1025.9 632.3,1022.3 632.6,1018.8 633.0,1015.2 633.5,1011.6 634.1,1008.1 634.7,1004.5 635.4,1001.0 636.3,997.4 637.2,993.9 638.3,990.3 639.4,986.7 640.6,983.2 641.9,979.6 643.3,976.1 644.7,972.5 646.0,969.0 647.4,965.4 648.7,961.8 650.0,958.3 651.1,954.7 652.1,951.2 652.9,947.6 653.5,944.1 653.9,940.5 654.1,936.9 654.1,933.4 653.8,929.8 653.3,926.3 652.6,922.7 651.7,919.1 650.7,915.6 649.5,912.0 648.3,908.5 646.9,904.9 645.5,901.4 644.2,897.8 642.8,894.2 641.4,890.7 640.2,887.1 639.0,883.6 637.9,880.0 636.9,876.5 636.0,872.9 635.2,869.3 634.5,865.8 633.8,862.2 633.3,858.7 632.9,855.1 632.5,851.6 632.2,848.0 632.0,844.4 631.8,840.9 631.6,837.3 631.5,833.8 631.4,830.2 631.3,826.7" fill="none" stroke="#7189AD" stroke-width="1.3"/>
<g fill="#7189AD"><circle cx="631.6" cy="980.3" r="2.7"/><circle cx="634.5" cy="979.7" r="2.7"/><circle cx="637.4" cy="978.4" r="2.7"/><circle cx="640.3" cy="977.7" r="2.7"/><circle cx="631.6" cy="961.2" r="2.7"/><circle cx="634.5" cy="960.4" r="2.7"/><circle cx="637.4" cy="959.4" r="2.7"/><circle cx="640.3" cy="957.8" r="2.7"/><circle cx="643.2" cy="956.6" r="2.7"/><circle cx="646.1" cy="955.8" r="2.7"/><circle cx="631.6" cy="942.2" r="2.7"/><circle cx="634.5" cy="941.1" r="2.7"/><circle cx="637.4" cy="939.6" r="2.7"/><circle cx="640.3" cy="938.2" r="2.7"/><circle cx="643.2" cy="937.5" r="2.7"/><circle cx="646.1" cy="936.6" r="2.7"/><circle cx="649.0" cy="934.9" r="2.7"/><circle cx="631.6" cy="930.0" r="2.7"/><circle cx="634.5" cy="927.9" r="2.7"/><circle cx="637.4" cy="926.1" r="2.7"/><circle cx="640.3" cy="925.0" r="2.7"/><circle cx="643.2" cy="923.4" r="2.7"/><circle cx="646.1" cy="922.1" r="2.7"/><circle cx="649.0" cy="919.6" r="2.7"/><circle cx="631.6" cy="910.7" r="2.7"/><circle cx="634.5" cy="910.5" r="2.7"/><circle cx="637.4" cy="909.2" r="2.7"/><circle cx="640.3" cy="908.1" r="2.7"/><circle cx="643.2" cy="906.9" r="2.7"/><circle cx="631.6" cy="891.7" r="2.7"/><circle cx="634.5" cy="890.4" r="2.7"/><circle cx="637.4" cy="889.9" r="2.7"/><circle cx="631.6" cy="875.8" r="2.7"/><circle cx="631.6" cy="835.7" r="2.7"/><circle cx="631.6" cy="981.8" r="2.7"/><circle cx="632.5" cy="860.2" r="2.7"/><circle cx="632.4" cy="872.8" r="2.7"/><circle cx="634.5" cy="879.1" r="2.7"/></g>
<line x1="709.8" y1="841.6" x2="709.8" y2="999.0" stroke="#6f6f6f" stroke-width="1.2"/>
<path d="M704.8 836.6l10 10M704.8 846.6l10 -10" stroke="#4d4d4d" stroke-width="1.3" fill="none"/>
<line x1="702.3" y1="841.6" x2="717.3" y2="841.6" stroke="#4d4d4d" stroke-width="1.3"/>
<path d="M704.8 994.0l10 10M704.8 1004.0l10 -10" stroke="#4d4d4d" stroke-width="1.3" fill="none"/>
<line x1="702.3" y1="999.0" x2="717.3" y2="999.0" stroke="#4d4d4d" stroke-width="1.3"/>
<rect x="694.3" y="909.4" width="31.0" height="47.6" fill="#FF8C8F" stroke="#6f6f6f" stroke-width="1"/>
<rect x="706.5" y="929.1" width="6.6" height="6.6" fill="#fff" stroke="#555" stroke-width="1.1"/>
<polyline points="731.6,1036.5 731.7,1033.0 731.9,1029.4 732.0,1025.9 732.2,1022.3 732.5,1018.8 732.8,1015.2 733.2,1011.6 733.7,1008.1 734.3,1004.5 734.9,1001.0 735.7,997.4 736.5,993.9 737.5,990.3 738.6,986.7 739.8,983.2 741.0,979.6 742.4,976.1 743.8,972.5 745.2,969.0 746.6,965.4 748.1,961.8 749.5,958.3 750.8,954.7 752.0,951.2 753.0,947.6 753.9,944.1 754.6,940.5 755.1,936.9 755.3,933.4 755.3,929.8 755.1,926.3 754.6,922.7 753.9,919.1 753.0,915.6 752.0,912.0 750.8,908.5 749.5,904.9 748.1,901.4 746.6,897.8 745.2,894.2 743.8,890.7 742.4,887.1 741.0,883.6 739.8,880.0 738.6,876.5 737.5,872.9 736.5,869.3 735.7,865.8 734.9,862.2 734.3,858.7 733.7,855.1 733.2,851.6 732.8,848.0 732.5,844.4 732.2,840.9 732.0,837.3 731.9,833.8 731.7,830.2 731.6,826.7" fill="none" stroke="#FF8C8F" stroke-width="1.3"/>
<g fill="#FF8C8F"><circle cx="731.8" cy="989.4" r="2.7"/><circle cx="734.7" cy="987.4" r="2.7"/><circle cx="737.6" cy="986.4" r="2.7"/><circle cx="731.8" cy="974.5" r="2.7"/><circle cx="734.7" cy="972.5" r="2.7"/><circle cx="737.6" cy="970.5" r="2.7"/><circle cx="740.5" cy="969.3" r="2.7"/><circle cx="743.4" cy="967.6" r="2.7"/><circle cx="731.8" cy="958.4" r="2.7"/><circle cx="734.7" cy="956.3" r="2.7"/><circle cx="737.6" cy="955.0" r="2.7"/><circle cx="740.5" cy="954.0" r="2.7"/><circle cx="743.4" cy="951.8" r="2.7"/><circle cx="746.3" cy="949.6" r="2.7"/><circle cx="749.2" cy="949.1" r="2.7"/><circle cx="731.8" cy="947.4" r="2.7"/><circle cx="734.7" cy="946.5" r="2.7"/><circle cx="737.6" cy="943.7" r="2.7"/><circle cx="740.5" cy="942.4" r="2.7"/><circle cx="743.4" cy="941.5" r="2.7"/><circle cx="746.3" cy="939.5" r="2.7"/><circle cx="749.2" cy="938.3" r="2.7"/><circle cx="752.1" cy="936.9" r="2.7"/><circle cx="755.0" cy="935.7" r="2.7"/><circle cx="731.8" cy="929.7" r="2.7"/><circle cx="734.7" cy="928.1" r="2.7"/><circle cx="737.6" cy="927.2" r="2.7"/><circle cx="740.5" cy="924.8" r="2.7"/><circle cx="743.4" cy="923.5" r="2.7"/><circle cx="746.3" cy="921.7" r="2.7"/><circle cx="749.2" cy="920.2" r="2.7"/><circle cx="752.1" cy="918.1" r="2.7"/><circle cx="731.8" cy="913.5" r="2.7"/><circle cx="734.7" cy="912.0" r="2.7"/><circle cx="737.6" cy="910.5" r="2.7"/><circle cx="740.5" cy="908.9" r="2.7"/><circle cx="743.4" cy="907.0" r="2.7"/><circle cx="746.3" cy="904.7" r="2.7"/><circle cx="749.2" cy="903.7" r="2.7"/><circle cx="731.8" cy="897.2" r="2.7"/><circle cx="734.7" cy="895.2" r="2.7"/><circle cx="737.6" cy="894.2" r="2.7"/><circle cx="740.5" cy="892.8" r="2.7"/><circle cx="743.4" cy="890.1" r="2.7"/><circle cx="731.8" cy="878.0" r="2.7"/><circle cx="734.7" cy="875.9" r="2.7"/><circle cx="731.8" cy="866.0" r="2.7"/><circle cx="731.8" cy="841.6" r="2.7"/><circle cx="731.8" cy="999.0" r="2.7"/><circle cx="732.8" cy="866.5" r="2.7"/><circle cx="734.0" cy="874.9" r="2.7"/></g>
<line x1="810.0" y1="893.8" x2="810.0" y2="989.1" stroke="#6f6f6f" stroke-width="1.2"/>
<path d="M805.0 888.8l10 10M805.0 898.8l10 -10" stroke="#4d4d4d" stroke-width="1.3" fill="none"/>
<line x1="802.5" y1="893.8" x2="817.5" y2="893.8" stroke="#4d4d4d" stroke-width="1.3"/>
<line x1="802.5" y1="989.1" x2="817.5" y2="989.1" stroke="#4d4d4d" stroke-width="1.3"/>
<path d="M805.0 1027.1l10 10M805.0 1037.1l10 -10" stroke="#4d4d4d" stroke-width="1.3" fill="none"/>
<rect x="794.5" y="927.2" width="31.0" height="26.2" fill="#5BA5D6" stroke="#6f6f6f" stroke-width="1"/>
<rect x="806.7" y="938.6" width="6.6" height="6.6" fill="#fff" stroke="#555" stroke-width="1.1"/>
<polyline points="831.6,1017.7 831.7,1015.1 831.8,1012.5 831.9,1010.0 832.0,1007.4 832.2,1004.9 832.4,1002.3 832.7,999.7 833.0,997.2 833.4,994.6 833.9,992.0 834.6,989.5 835.3,986.9 836.1,984.4 837.1,981.8 838.2,979.2 839.4,976.7 840.7,974.1 842.1,971.6 843.7,969.0 845.2,966.4 846.8,963.9 848.4,961.3 850.0,958.7 851.5,956.2 852.8,953.6 854.0,951.1 855.0,948.5 855.8,945.9 856.3,943.4 856.5,940.8 856.4,938.3 856.1,935.7 855.5,933.1 854.7,930.6 853.6,928.0 852.4,925.4 851.0,922.9 849.4,920.3 847.9,917.8 846.3,915.2 844.7,912.6 843.1,910.1 841.6,907.5 840.2,905.0 838.9,902.4 837.8,899.8 836.7,897.3 835.8,894.7 835.0,892.1 834.3,889.6 833.8,887.0 833.3,884.5 832.9,881.9 832.6,879.3 832.3,876.8 832.1,874.2 832.0,871.7 831.8,869.1 831.7,866.5" fill="none" stroke="#5BA5D6" stroke-width="1.3"/>
<g fill="#5BA5D6"><circle cx="832.0" cy="983.9" r="2.7"/><circle cx="834.9" cy="981.6" r="2.7"/><circle cx="837.8" cy="980.0" r="2.7"/><circle cx="840.7" cy="978.6" r="2.7"/><circle cx="832.0" cy="970.2" r="2.7"/><circle cx="834.9" cy="968.0" r="2.7"/><circle cx="837.8" cy="965.8" r="2.7"/><circle cx="840.7" cy="964.6" r="2.7"/><circle cx="843.6" cy="962.2" r="2.7"/><circle cx="846.5" cy="961.9" r="2.7"/><circle cx="849.4" cy="958.8" r="2.7"/><circle cx="852.3" cy="957.9" r="2.7"/><circle cx="832.0" cy="954.0" r="2.7"/><circle cx="834.9" cy="952.9" r="2.7"/><circle cx="837.8" cy="951.3" r="2.7"/><circle cx="840.7" cy="950.0" r="2.7"/><circle cx="843.6" cy="948.5" r="2.7"/><circle cx="846.5" cy="947.5" r="2.7"/><circle cx="849.4" cy="945.6" r="2.7"/><circle cx="852.3" cy="945.0" r="2.7"/><circle cx="855.2" cy="943.1" r="2.7"/><circle cx="832.0" cy="935.3" r="2.7"/><circle cx="834.9" cy="933.7" r="2.7"/><circle cx="837.8" cy="932.7" r="2.7"/><circle cx="840.7" cy="931.7" r="2.7"/><circle cx="843.6" cy="929.6" r="2.7"/><circle cx="846.5" cy="929.5" r="2.7"/><circle cx="849.4" cy="927.9" r="2.7"/><circle cx="852.3" cy="927.0" r="2.7"/><circle cx="855.2" cy="925.6" r="2.7"/><circle cx="832.0" cy="916.3" r="2.7"/><circle cx="834.9" cy="914.3" r="2.7"/><circle cx="837.8" cy="912.3" r="2.7"/><circle cx="840.7" cy="911.7" r="2.7"/><circle cx="843.6" cy="910.4" r="2.7"/><circle cx="846.5" cy="908.6" r="2.7"/><circle cx="832.0" cy="900.0" r="2.7"/><circle cx="834.9" cy="898.7" r="2.7"/><circle cx="832.0" cy="893.8" r="2.7"/><circle cx="832.0" cy="1032.1" r="2.7"/></g>
<line x1="910.2" y1="916.7" x2="910.2" y2="979.0" stroke="#6f6f6f" stroke-width="1.2"/>
<path d="M905.2 911.7l10 10M905.2 921.7l10 -10" stroke="#4d4d4d" stroke-width="1.3" fill="none"/>
<line x1="902.7" y1="916.7" x2="917.7" y2="916.7" stroke="#4d4d4d" stroke-width="1.3"/>
<path d="M905.2 974.0l10 10M905.2 984.0l10 -10" stroke="#4d4d4d" stroke-width="1.3" fill="none"/>
<line x1="902.7" y1="979.0" x2="917.7" y2="979.0" stroke="#4d4d4d" stroke-width="1.3"/>
<rect x="894.7" y="935.6" width="31.0" height="21.0" fill="#8CC2AE" stroke="#6f6f6f" stroke-width="1"/>
<rect x="906.9" y="940.3" width="6.6" height="6.6" fill="#fff" stroke="#555" stroke-width="1.1"/>
<polyline points="931.8,994.6 931.8,992.8 931.9,991.1 932.0,989.3 932.1,987.6 932.3,985.9 932.6,984.1 933.0,982.4 933.5,980.6 934.2,978.9 934.9,977.1 935.8,975.4 936.9,973.7 938.0,971.9 939.2,970.2 940.4,968.4 941.6,966.7 942.8,964.9 943.9,963.2 944.9,961.4 945.8,959.7 946.7,958.0 947.5,956.2 948.4,954.5 949.3,952.7 950.3,951.0 951.4,949.2 952.5,947.5 953.5,945.8 954.5,944.0 955.2,942.3 955.6,940.5 955.7,938.8 955.4,937.0 954.6,935.3 953.4,933.6 951.9,931.8 950.1,930.1 948.1,928.3 946.0,926.6 943.8,924.8 941.8,923.1 939.9,921.4 938.3,919.6 936.8,917.9 935.6,916.1 934.6,914.4 933.8,912.6 933.2,910.9 932.7,909.2 932.4,907.4 932.2,905.7 932.0,903.9 931.9,902.2 931.8,900.4 931.8,898.7 931.7,896.9 931.7,895.2 931.7,893.5 931.7,891.7" fill="none" stroke="#8CC2AE" stroke-width="1.3"/>
<g fill="#8CC2AE"><circle cx="932.2" cy="975.3" r="2.7"/><circle cx="935.1" cy="973.7" r="2.7"/><circle cx="938.0" cy="972.4" r="2.7"/><circle cx="940.9" cy="970.3" r="2.7"/><circle cx="943.8" cy="969.3" r="2.7"/><circle cx="946.7" cy="968.4" r="2.7"/><circle cx="932.2" cy="955.2" r="2.7"/><circle cx="935.1" cy="953.3" r="2.7"/><circle cx="938.0" cy="951.3" r="2.7"/><circle cx="940.9" cy="950.6" r="2.7"/><circle cx="943.8" cy="947.9" r="2.7"/><circle cx="946.7" cy="947.0" r="2.7"/><circle cx="949.6" cy="945.2" r="2.7"/><circle cx="952.5" cy="943.2" r="2.7"/><circle cx="955.4" cy="942.6" r="2.7"/><circle cx="932.2" cy="938.9" r="2.7"/><circle cx="935.1" cy="937.9" r="2.7"/><circle cx="938.0" cy="936.6" r="2.7"/><circle cx="940.9" cy="935.1" r="2.7"/><circle cx="943.8" cy="933.6" r="2.7"/><circle cx="946.7" cy="932.4" r="2.7"/><circle cx="949.6" cy="930.7" r="2.7"/><circle cx="952.5" cy="929.9" r="2.7"/><circle cx="955.4" cy="928.1" r="2.7"/><circle cx="932.2" cy="920.8" r="2.7"/><circle cx="935.1" cy="919.2" r="2.7"/><circle cx="938.0" cy="918.0" r="2.7"/><circle cx="932.2" cy="916.7" r="2.7"/><circle cx="932.2" cy="979.0" r="2.7"/></g>
<rect x="580.1" y="721.7" width="401.5" height="419.8" fill="none" stroke="#000" stroke-width="2.3"/>
<text x="567.8" y="728.6" font-size="20" text-anchor="end">−2.0</text>
<text x="567.8" y="833.6" font-size="20" text-anchor="end">−2.5</text>
<text x="567.8" y="938.5" font-size="20" text-anchor="end">−3.0</text>
<text x="567.8" y="1043.5" font-size="20" text-anchor="end">−3.5</text>
<text x="567.8" y="1148.4" font-size="20" text-anchor="end">−4.0</text>
<path d="M630.6 1141.5v-11M730.8 1141.5v-11M831.0 1141.5v-11M931.2 1141.5v-11M580.1 774.2h6M580.1 826.7h11M580.1 879.1h6M580.1 931.6h11M580.1 984.1h6M580.1 1036.5h11M580.1 1089.0h6" stroke="#000" stroke-width="2.3" fill="none"/>
<text x="630.6" y="1169.1" font-size="20" text-anchor="middle">55</text>
<text x="730.8" y="1169.1" font-size="20" text-anchor="middle">180</text>
<text x="831.0" y="1169.1" font-size="20" text-anchor="middle">380</text>
<text x="931.2" y="1169.1" font-size="20" text-anchor="middle">780</text>
<text x="780.9" y="1208.5" font-size="24" text-anchor="middle"><tspan font-style="italic">L</tspan><tspan font-size="16" dy="5">CH</tspan><tspan dy="-5"> (nm)</tspan></text>
<text x="517.0" y="930.0" font-size="24" text-anchor="middle" transform="rotate(-90 517.0 930.0)"><tspan font-style="italic">V</tspan><tspan font-size="16" dy="5">TH, LIN</tspan><tspan dy="-5"> (V)</tspan></text>
<text x="503.0" y="703.5" font-size="44" font-weight="bold">f</text>
<line x1="1113.7" y1="916.0" x2="1113.7" y2="1062.0" stroke="#6f6f6f" stroke-width="1.2"/>
<path d="M1108.7 911.0l10 10M1108.7 921.0l10 -10" stroke="#4d4d4d" stroke-width="1.3" fill="none"/>
<line x1="1106.2" y1="916.0" x2="1121.2" y2="916.0" stroke="#4d4d4d" stroke-width="1.3"/>
<path d="M1108.7 1057.0l10 10M1108.7 1067.0l10 -10" stroke="#4d4d4d" stroke-width="1.3" fill="none"/>
<line x1="1106.2" y1="1062.0" x2="1121.2" y2="1062.0" stroke="#4d4d4d" stroke-width="1.3"/>
<rect x="1098.2" y="976.1" width="31.0" height="51.2" fill="#7189AD" stroke="#6f6f6f" stroke-width="1"/>
<rect x="1110.4" y="994.7" width="6.6" height="6.6" fill="none" stroke="#555" stroke-width="1.1"/>
<polyline points="1135.6,1100.8 1135.8,1097.1 1136.0,1093.4 1136.2,1089.8 1136.5,1086.1 1136.8,1082.4 1137.2,1078.8 1137.7,1075.1 1138.3,1071.4 1139.0,1067.8 1139.8,1064.1 1140.7,1060.5 1141.7,1056.8 1142.8,1053.1 1144.0,1049.5 1145.3,1045.8 1146.7,1042.1 1148.1,1038.5 1149.6,1034.8 1151.0,1031.1 1152.5,1027.5 1153.8,1023.8 1155.1,1020.2 1156.3,1016.5 1157.3,1012.8 1158.1,1009.2 1158.7,1005.5 1159.1,1001.8 1159.2,998.2 1159.1,994.5 1158.7,990.8 1158.2,987.2 1157.4,983.5 1156.4,979.8 1155.3,976.2 1154.0,972.5 1152.6,968.9 1151.2,965.2 1149.7,961.5 1148.3,957.9 1146.8,954.2 1145.5,950.5 1144.2,946.9 1142.9,943.2 1141.8,939.5 1140.8,935.9 1139.9,932.2 1139.1,928.5 1138.4,924.9 1137.8,921.2 1137.3,917.6 1136.9,913.9 1136.5,910.2 1136.2,906.6 1136.0,902.9 1135.8,899.2 1135.7,895.6 1135.5,891.9 1135.5,888.2 1135.4,884.6" fill="none" stroke="#7189AD" stroke-width="1.3"/>
<g fill="#7189AD"><circle cx="1135.7" cy="1058.8" r="2.7"/><circle cx="1138.6" cy="1057.7" r="2.7"/><circle cx="1141.5" cy="1056.2" r="2.7"/><circle cx="1135.7" cy="1039.3" r="2.7"/><circle cx="1138.6" cy="1037.9" r="2.7"/><circle cx="1141.5" cy="1038.0" r="2.7"/><circle cx="1135.7" cy="1023.9" r="2.7"/><circle cx="1138.6" cy="1022.3" r="2.7"/><circle cx="1141.5" cy="1020.8" r="2.7"/><circle cx="1144.4" cy="1019.1" r="2.7"/><circle cx="1147.3" cy="1017.5" r="2.7"/><circle cx="1150.2" cy="1016.1" r="2.7"/><circle cx="1153.1" cy="1014.3" r="2.7"/><circle cx="1135.7" cy="1006.1" r="2.7"/><circle cx="1138.6" cy="1004.9" r="2.7"/><circle cx="1141.5" cy="1003.2" r="2.7"/><circle cx="1144.4" cy="1001.7" r="2.7"/><circle cx="1147.3" cy="999.7" r="2.7"/><circle cx="1150.2" cy="998.3" r="2.7"/><circle cx="1153.1" cy="997.3" r="2.7"/><circle cx="1135.7" cy="990.5" r="2.7"/><circle cx="1138.6" cy="988.3" r="2.7"/><circle cx="1141.5" cy="985.9" r="2.7"/><circle cx="1144.4" cy="984.7" r="2.7"/><circle cx="1147.3" cy="983.2" r="2.7"/><circle cx="1150.2" cy="981.1" r="2.7"/><circle cx="1153.1" cy="979.6" r="2.7"/><circle cx="1135.7" cy="976.8" r="2.7"/><circle cx="1138.6" cy="975.1" r="2.7"/><circle cx="1141.5" cy="973.9" r="2.7"/><circle cx="1144.4" cy="971.3" r="2.7"/><circle cx="1147.3" cy="969.6" r="2.7"/><circle cx="1150.2" cy="968.1" r="2.7"/><circle cx="1135.7" cy="958.7" r="2.7"/><circle cx="1138.6" cy="956.7" r="2.7"/><circle cx="1141.5" cy="955.5" r="2.7"/><circle cx="1144.4" cy="953.8" r="2.7"/><circle cx="1135.7" cy="938.3" r="2.7"/><circle cx="1138.6" cy="936.7" r="2.7"/><circle cx="1135.7" cy="916.0" r="2.7"/><circle cx="1135.7" cy="1062.0" r="2.7"/></g>
<line x1="1213.4" y1="890.9" x2="1213.4" y2="1081.3" stroke="#6f6f6f" stroke-width="1.2"/>
<line x1="1205.9" y1="890.9" x2="1220.9" y2="890.9" stroke="#4d4d4d" stroke-width="1.3"/>
<path d="M1208.4 848.1l10 10M1208.4 858.1l10 -10" stroke="#4d4d4d" stroke-width="1.3" fill="none"/>
<path d="M1208.4 1076.3l10 10M1208.4 1086.3l10 -10" stroke="#4d4d4d" stroke-width="1.3" fill="none"/>
<line x1="1205.9" y1="1081.3" x2="1220.9" y2="1081.3" stroke="#4d4d4d" stroke-width="1.3"/>
<rect x="1197.9" y="972.1" width="31.0" height="55.2" fill="#FF8C8F" stroke="#6f6f6f" stroke-width="1"/>
<rect x="1210.1" y="993.2" width="6.6" height="6.6" fill="none" stroke="#555" stroke-width="1.1"/>
<polyline points="1237.5,1100.8 1238.0,1096.4 1238.7,1092.0 1239.5,1087.6 1240.3,1083.2 1241.3,1078.8 1242.3,1074.4 1243.5,1070.0 1244.7,1065.6 1246.0,1061.2 1247.4,1056.8 1248.7,1052.4 1250.1,1048.0 1251.4,1043.6 1252.7,1039.2 1253.9,1034.8 1255.0,1030.4 1256.0,1026.0 1256.8,1021.6 1257.4,1017.2 1257.7,1012.8 1257.9,1008.4 1257.8,1004.0 1257.6,999.6 1257.1,995.2 1256.4,990.8 1255.5,986.4 1254.5,982.0 1253.3,977.6 1252.1,973.2 1250.7,968.8 1249.4,964.4 1248.0,960.0 1246.6,955.6 1245.3,951.2 1244.0,946.8 1242.9,942.4 1241.8,938.0 1240.8,933.6 1239.8,929.2 1239.0,924.8 1238.3,920.4 1237.7,916.0 1237.2,911.6 1236.7,907.2 1236.4,902.8 1236.1,898.4 1235.8,894.0 1235.6,889.6 1235.4,885.2 1235.3,880.8 1235.2,876.4 1235.1,872.0 1235.1,867.6 1235.0,863.2 1235.0,858.8 1235.0,854.4 1234.9,850.0 1234.9,845.6 1234.9,841.2" fill="none" stroke="#FF8C8F" stroke-width="1.3"/>
<g fill="#FF8C8F"><circle cx="1235.4" cy="1072.1" r="2.7"/><circle cx="1238.3" cy="1070.1" r="2.7"/><circle cx="1241.2" cy="1068.8" r="2.7"/><circle cx="1235.4" cy="1054.4" r="2.7"/><circle cx="1238.3" cy="1052.8" r="2.7"/><circle cx="1235.4" cy="1037.2" r="2.7"/><circle cx="1238.3" cy="1036.2" r="2.7"/><circle cx="1241.2" cy="1035.6" r="2.7"/><circle cx="1244.1" cy="1034.1" r="2.7"/><circle cx="1247.0" cy="1033.0" r="2.7"/><circle cx="1249.9" cy="1032.2" r="2.7"/><circle cx="1235.4" cy="1019.1" r="2.7"/><circle cx="1238.3" cy="1018.0" r="2.7"/><circle cx="1241.2" cy="1016.0" r="2.7"/><circle cx="1244.1" cy="1014.3" r="2.7"/><circle cx="1247.0" cy="1013.6" r="2.7"/><circle cx="1249.9" cy="1012.2" r="2.7"/><circle cx="1252.8" cy="1010.2" r="2.7"/><circle cx="1235.4" cy="1005.0" r="2.7"/><circle cx="1238.3" cy="1003.2" r="2.7"/><circle cx="1241.2" cy="1001.6" r="2.7"/><circle cx="1244.1" cy="999.1" r="2.7"/><circle cx="1247.0" cy="997.6" r="2.7"/><circle cx="1235.4" cy="987.1" r="2.7"/><circle cx="1238.3" cy="985.2" r="2.7"/><circle cx="1241.2" cy="983.3" r="2.7"/><circle cx="1244.1" cy="981.9" r="2.7"/><circle cx="1235.4" cy="968.8" r="2.7"/><circle cx="1238.3" cy="967.8" r="2.7"/><circle cx="1241.2" cy="966.4" r="2.7"/><circle cx="1244.1" cy="966.0" r="2.7"/><circle cx="1247.0" cy="965.3" r="2.7"/><circle cx="1235.4" cy="954.2" r="2.7"/><circle cx="1238.3" cy="953.3" r="2.7"/><circle cx="1241.2" cy="950.9" r="2.7"/><circle cx="1235.4" cy="941.5" r="2.7"/><circle cx="1238.3" cy="940.2" r="2.7"/><circle cx="1235.4" cy="922.1" r="2.7"/><circle cx="1235.4" cy="892.6" r="2.7"/><circle cx="1235.4" cy="853.1" r="2.7"/><circle cx="1235.4" cy="1081.3" r="2.7"/><circle cx="1236.6" cy="882.9" r="2.7"/><circle cx="1235.6" cy="891.2" r="2.7"/></g>
<line x1="1313.3" y1="936.2" x2="1313.3" y2="1087.1" stroke="#6f6f6f" stroke-width="1.2"/>
<line x1="1305.8" y1="936.2" x2="1320.8" y2="936.2" stroke="#4d4d4d" stroke-width="1.3"/>
<path d="M1308.3 892.5l10 10M1308.3 902.5l10 -10" stroke="#4d4d4d" stroke-width="1.3" fill="none"/>
<path d="M1308.3 1082.1l10 10M1308.3 1092.1l10 -10" stroke="#4d4d4d" stroke-width="1.3" fill="none"/>
<line x1="1305.8" y1="1087.1" x2="1320.8" y2="1087.1" stroke="#4d4d4d" stroke-width="1.3"/>
<rect x="1297.8" y="1003.8" width="31.0" height="50.9" fill="#5BA5D6" stroke="#6f6f6f" stroke-width="1"/>
<rect x="1310.0" y="1023.1" width="6.6" height="6.6" fill="none" stroke="#555" stroke-width="1.1"/>
<polyline points="1340.8,1100.8 1341.8,1097.2 1342.8,1093.6 1343.8,1090.1 1345.0,1086.5 1346.1,1083.0 1347.4,1079.4 1348.6,1075.8 1349.9,1072.3 1351.1,1068.7 1352.3,1065.2 1353.4,1061.6 1354.4,1058.0 1355.4,1054.5 1356.2,1050.9 1356.8,1047.4 1357.3,1043.8 1357.6,1040.2 1357.8,1036.7 1357.8,1033.1 1357.6,1029.5 1357.2,1026.0 1356.6,1022.4 1355.9,1018.9 1355.0,1015.3 1354.1,1011.7 1353.0,1008.2 1351.9,1004.6 1350.7,1001.1 1349.4,997.5 1348.2,993.9 1346.9,990.4 1345.7,986.8 1344.6,983.3 1343.5,979.7 1342.4,976.1 1341.4,972.6 1340.5,969.0 1339.7,965.5 1339.0,961.9 1338.3,958.3 1337.8,954.8 1337.3,951.2 1336.8,947.7 1336.5,944.1 1336.2,940.5 1335.9,937.0 1335.7,933.4 1335.5,929.9 1335.3,926.3 1335.2,922.7 1335.1,919.2 1335.1,915.6 1335.0,912.0 1334.9,908.5 1334.9,904.9 1334.9,901.4 1334.9,897.8 1334.8,894.2 1334.8,890.7" fill="none" stroke="#5BA5D6" stroke-width="1.3"/>
<g fill="#5BA5D6"><circle cx="1335.3" cy="1084.0" r="2.7"/><circle cx="1338.2" cy="1082.9" r="2.7"/><circle cx="1341.1" cy="1081.3" r="2.7"/><circle cx="1344.0" cy="1080.3" r="2.7"/><circle cx="1346.9" cy="1079.1" r="2.7"/><circle cx="1335.3" cy="1066.7" r="2.7"/><circle cx="1338.2" cy="1066.4" r="2.7"/><circle cx="1341.1" cy="1064.0" r="2.7"/><circle cx="1344.0" cy="1063.2" r="2.7"/><circle cx="1346.9" cy="1061.5" r="2.7"/><circle cx="1349.8" cy="1060.5" r="2.7"/><circle cx="1352.7" cy="1059.1" r="2.7"/><circle cx="1335.3" cy="1049.6" r="2.7"/><circle cx="1338.2" cy="1049.0" r="2.7"/><circle cx="1341.1" cy="1048.2" r="2.7"/><circle cx="1344.0" cy="1046.9" r="2.7"/><circle cx="1346.9" cy="1045.3" r="2.7"/><circle cx="1349.8" cy="1044.8" r="2.7"/><circle cx="1352.7" cy="1043.6" r="2.7"/><circle cx="1355.6" cy="1042.7" r="2.7"/><circle cx="1358.5" cy="1042.3" r="2.7"/><circle cx="1335.3" cy="1031.8" r="2.7"/><circle cx="1338.2" cy="1029.9" r="2.7"/><circle cx="1341.1" cy="1028.2" r="2.7"/><circle cx="1344.0" cy="1027.9" r="2.7"/><circle cx="1346.9" cy="1025.2" r="2.7"/><circle cx="1349.8" cy="1024.8" r="2.7"/><circle cx="1352.7" cy="1023.5" r="2.7"/><circle cx="1355.6" cy="1021.9" r="2.7"/><circle cx="1335.3" cy="1016.6" r="2.7"/><circle cx="1338.2" cy="1015.8" r="2.7"/><circle cx="1341.1" cy="1014.6" r="2.7"/><circle cx="1344.0" cy="1013.1" r="2.7"/><circle cx="1346.9" cy="1012.7" r="2.7"/><circle cx="1349.8" cy="1011.5" r="2.7"/><circle cx="1352.7" cy="1011.1" r="2.7"/><circle cx="1335.3" cy="1002.7" r="2.7"/><circle cx="1338.2" cy="1001.7" r="2.7"/><circle cx="1341.1" cy="999.8" r="2.7"/><circle cx="1344.0" cy="999.1" r="2.7"/><circle cx="1346.9" cy="997.5" r="2.7"/><circle cx="1349.8" cy="995.8" r="2.7"/><circle cx="1335.3" cy="986.9" r="2.7"/><circle cx="1338.2" cy="984.7" r="2.7"/><circle cx="1341.1" cy="982.2" r="2.7"/><circle cx="1344.0" cy="981.5" r="2.7"/><circle cx="1335.3" cy="954.2" r="2.7"/><circle cx="1335.3" cy="897.5" r="2.7"/><circle cx="1335.3" cy="1087.1" r="2.7"/></g>
<line x1="1413.0" y1="994.7" x2="1413.0" y2="1069.3" stroke="#6f6f6f" stroke-width="1.2"/>
<line x1="1405.5" y1="994.7" x2="1420.5" y2="994.7" stroke="#4d4d4d" stroke-width="1.3"/>
<path d="M1408.0 950.2l10 10M1408.0 960.2l10 -10" stroke="#4d4d4d" stroke-width="1.3" fill="none"/>
<path d="M1408.0 1064.3l10 10M1408.0 1074.3l10 -10" stroke="#4d4d4d" stroke-width="1.3" fill="none"/>
<line x1="1405.5" y1="1069.3" x2="1420.5" y2="1069.3" stroke="#4d4d4d" stroke-width="1.3"/>
<rect x="1397.5" y="1027.3" width="31.0" height="31.9" fill="#8CC2AE" stroke="#6f6f6f" stroke-width="1"/>
<rect x="1409.7" y="1038.1" width="6.6" height="6.6" fill="none" stroke="#555" stroke-width="1.1"/>
<polyline points="1436.4,1100.8 1437.0,1098.3 1437.6,1095.8 1438.4,1093.3 1439.3,1090.8 1440.3,1088.3 1441.5,1085.8 1442.8,1083.3 1444.2,1080.8 1445.7,1078.3 1447.3,1075.8 1448.9,1073.3 1450.5,1070.8 1452.1,1068.3 1453.6,1065.8 1455.0,1063.3 1456.2,1060.8 1457.1,1058.4 1457.9,1055.9 1458.3,1053.4 1458.5,1050.9 1458.4,1048.4 1457.9,1045.9 1457.2,1043.4 1456.3,1040.9 1455.1,1038.4 1453.7,1035.9 1452.2,1033.4 1450.7,1030.9 1449.0,1028.4 1447.4,1025.9 1445.8,1023.4 1444.3,1020.9 1442.9,1018.4 1441.6,1015.9 1440.4,1013.5 1439.4,1011.0 1438.5,1008.5 1437.7,1006.0 1437.0,1003.5 1436.5,1001.0 1436.0,998.5 1435.7,996.0 1435.4,993.5 1435.2,991.0 1435.0,988.5 1434.9,986.0 1434.8,983.5 1434.7,981.0 1434.6,978.5 1434.6,976.0 1434.6,973.5 1434.5,971.0 1434.5,968.6 1434.5,966.1 1434.5,963.6 1434.5,961.1 1434.5,958.6 1434.5,956.1 1434.5,953.6" fill="none" stroke="#8CC2AE" stroke-width="1.3"/>
<g fill="#8CC2AE"><circle cx="1435.0" cy="1061.0" r="2.7"/><circle cx="1437.9" cy="1059.5" r="2.7"/><circle cx="1440.8" cy="1058.6" r="2.7"/><circle cx="1443.7" cy="1057.7" r="2.7"/><circle cx="1446.6" cy="1056.2" r="2.7"/><circle cx="1449.5" cy="1055.8" r="2.7"/><circle cx="1452.4" cy="1055.0" r="2.7"/><circle cx="1455.3" cy="1054.3" r="2.7"/><circle cx="1458.2" cy="1053.2" r="2.7"/><circle cx="1435.0" cy="1043.5" r="2.7"/><circle cx="1437.9" cy="1041.4" r="2.7"/><circle cx="1440.8" cy="1040.1" r="2.7"/><circle cx="1443.7" cy="1038.1" r="2.7"/><circle cx="1446.6" cy="1036.4" r="2.7"/><circle cx="1449.5" cy="1035.9" r="2.7"/><circle cx="1452.4" cy="1033.6" r="2.7"/><circle cx="1435.0" cy="1023.3" r="2.7"/><circle cx="1437.9" cy="1021.2" r="2.7"/><circle cx="1440.8" cy="1020.8" r="2.7"/><circle cx="1443.7" cy="1018.8" r="2.7"/><circle cx="1435.0" cy="1008.8" r="2.7"/><circle cx="1435.0" cy="955.2" r="2.7"/><circle cx="1435.0" cy="1069.3" r="2.7"/></g>
<rect x="1084.9" y="724.5" width="399.1" height="422.5" fill="none" stroke="#000" stroke-width="2.3"/>
<text x="1072.6" y="731.4" font-size="20" text-anchor="end">240</text>
<text x="1072.6" y="872.2" font-size="20" text-anchor="end">180</text>
<text x="1072.6" y="1013.1" font-size="20" text-anchor="end">120</text>
<text x="1072.6" y="1153.9" font-size="20" text-anchor="end">60</text>
<path d="M1134.7 1147.0v-11M1234.4 1147.0v-11M1334.3 1147.0v-11M1434.0 1147.0v-11M1084.9 794.9h6M1084.9 865.3h11M1084.9 935.8h6M1084.9 1006.2h11M1084.9 1076.6h6" stroke="#000" stroke-width="2.3" fill="none"/>
<text x="1134.7" y="1174.6" font-size="20" text-anchor="middle">55</text>
<text x="1234.4" y="1174.6" font-size="20" text-anchor="middle">180</text>
<text x="1334.3" y="1174.6" font-size="20" text-anchor="middle">380</text>
<text x="1434.0" y="1174.6" font-size="20" text-anchor="middle">780</text>
<text x="1284.5" y="1214.0" font-size="24" text-anchor="middle"><tspan font-style="italic">L</tspan><tspan font-size="16" dy="5">CH</tspan><tspan dy="-5"> (nm)</tspan></text>
<text x="1026.0" y="936.0" font-size="24" text-anchor="middle" transform="rotate(-90 1026.0 936.0)"><tspan font-style="italic">SS</tspan><tspan font-size="16" dy="5">min</tspan><tspan dy="-5"> (mV/dec)</tspan></text>
<text x="1001.0" y="703.3" font-size="44" font-weight="bold">g</text>
<line x1="1612.7" y1="780.0" x2="1612.7" y2="1036.5" stroke="#5d7396" stroke-width="1.2"/>
<path d="M1607.7 775.0l10 10M1607.7 785.0l10 -10" stroke="#4d4d4d" stroke-width="1.3" fill="none"/>
<line x1="1605.2" y1="780.0" x2="1620.2" y2="780.0" stroke="#4d4d4d" stroke-width="1.3"/>
<path d="M1607.7 1031.5l10 10M1607.7 1041.5l10 -10" stroke="#4d4d4d" stroke-width="1.3" fill="none"/>
<line x1="1605.2" y1="1036.5" x2="1620.2" y2="1036.5" stroke="#4d4d4d" stroke-width="1.3"/>
<rect x="1597.2" y="866.6" width="31.0" height="94.9" fill="#7189AD" stroke="#6f6f6f" stroke-width="1"/>
<rect x="1609.4" y="912.3" width="6.6" height="6.6" fill="none" stroke="#555" stroke-width="1.1"/>
<polyline points="1634.4,1101.8 1634.4,1096.2 1634.5,1090.7 1634.6,1085.2 1634.7,1079.6 1634.9,1074.1 1635.1,1068.5 1635.3,1063.0 1635.6,1057.5 1635.9,1051.9 1636.3,1046.4 1636.7,1040.8 1637.3,1035.3 1637.9,1029.8 1638.6,1024.2 1639.3,1018.7 1640.2,1013.1 1641.1,1007.6 1642.1,1002.1 1643.2,996.5 1644.4,991.0 1645.6,985.4 1646.9,979.9 1648.1,974.4 1649.4,968.8 1650.7,963.3 1651.9,957.8 1653.0,952.2 1654.0,946.7 1655.0,941.1 1655.7,935.6 1656.4,930.1 1656.8,924.5 1657.1,919.0 1657.2,913.4 1657.1,907.9 1656.8,902.4 1656.3,896.8 1655.7,891.3 1654.9,885.7 1653.9,880.2 1652.9,874.7 1651.7,869.1 1650.5,863.6 1649.3,858.0 1648.0,852.5 1646.7,847.0 1645.5,841.4 1644.3,835.9 1643.1,830.4 1642.0,824.8 1641.0,819.3 1640.1,813.7 1639.2,808.2 1638.5,802.7 1637.8,797.1 1637.2,791.6 1636.7,786.0 1636.2,780.5 1635.9,775.0" fill="none" stroke="#7189AD" stroke-width="1.3"/>
<g fill="#7189AD"><circle cx="1634.7" cy="1028.1" r="2.7"/><circle cx="1634.7" cy="1008.4" r="2.7"/><circle cx="1634.7" cy="995.6" r="2.7"/><circle cx="1637.6" cy="995.6" r="2.7"/><circle cx="1634.7" cy="977.3" r="2.7"/><circle cx="1637.6" cy="975.9" r="2.7"/><circle cx="1640.5" cy="973.0" r="2.7"/><circle cx="1634.7" cy="962.9" r="2.7"/><circle cx="1637.6" cy="961.2" r="2.7"/><circle cx="1640.5" cy="960.0" r="2.7"/><circle cx="1634.7" cy="949.3" r="2.7"/><circle cx="1637.6" cy="948.0" r="2.7"/><circle cx="1640.5" cy="946.3" r="2.7"/><circle cx="1643.4" cy="945.3" r="2.7"/><circle cx="1634.7" cy="930.6" r="2.7"/><circle cx="1637.6" cy="929.6" r="2.7"/><circle cx="1640.5" cy="928.4" r="2.7"/><circle cx="1643.4" cy="926.2" r="2.7"/><circle cx="1634.7" cy="916.5" r="2.7"/><circle cx="1637.6" cy="915.1" r="2.7"/><circle cx="1640.5" cy="912.5" r="2.7"/><circle cx="1643.4" cy="910.7" r="2.7"/><circle cx="1634.7" cy="901.2" r="2.7"/><circle cx="1637.6" cy="899.6" r="2.7"/><circle cx="1640.5" cy="896.9" r="2.7"/><circle cx="1643.4" cy="896.3" r="2.7"/><circle cx="1634.7" cy="882.2" r="2.7"/><circle cx="1637.6" cy="881.4" r="2.7"/><circle cx="1640.5" cy="879.9" r="2.7"/><circle cx="1634.7" cy="864.0" r="2.7"/><circle cx="1637.6" cy="863.4" r="2.7"/><circle cx="1640.5" cy="861.7" r="2.7"/><circle cx="1634.7" cy="847.7" r="2.7"/><circle cx="1637.6" cy="845.6" r="2.7"/><circle cx="1634.7" cy="832.0" r="2.7"/><circle cx="1637.6" cy="830.2" r="2.7"/><circle cx="1634.7" cy="816.2" r="2.7"/><circle cx="1634.7" cy="801.0" r="2.7"/><circle cx="1634.7" cy="780.0" r="2.7"/><circle cx="1634.7" cy="1036.5" r="2.7"/></g>
<line x1="1713.0" y1="915.6" x2="1713.0" y2="1090.3" stroke="#6f6f6f" stroke-width="1.2"/>
<path d="M1708.0 910.6l10 10M1708.0 920.6l10 -10" stroke="#4d4d4d" stroke-width="1.3" fill="none"/>
<line x1="1705.5" y1="915.6" x2="1720.5" y2="915.6" stroke="#4d4d4d" stroke-width="1.3"/>
<path d="M1708.0 1085.3l10 10M1708.0 1095.3l10 -10" stroke="#4d4d4d" stroke-width="1.3" fill="none"/>
<line x1="1705.5" y1="1090.3" x2="1720.5" y2="1090.3" stroke="#4d4d4d" stroke-width="1.3"/>
<rect x="1697.5" y="961.5" width="31.0" height="58.4" fill="#FF8C8F" stroke="#6f6f6f" stroke-width="1"/>
<rect x="1709.7" y="989.0" width="6.6" height="6.6" fill="none" stroke="#555" stroke-width="1.1"/>
<polyline points="1734.6,1143.0 1734.6,1138.0 1734.7,1133.1 1734.8,1128.1 1734.9,1123.2 1735.0,1118.2 1735.2,1113.3 1735.4,1108.3 1735.7,1103.3 1736.0,1098.4 1736.4,1093.4 1736.9,1088.5 1737.6,1083.5 1738.3,1078.6 1739.2,1073.6 1740.2,1068.7 1741.3,1063.7 1742.5,1058.8 1743.9,1053.8 1745.3,1048.8 1746.8,1043.9 1748.4,1038.9 1750.0,1034.0 1751.6,1029.0 1753.1,1024.1 1754.5,1019.1 1755.7,1014.2 1756.8,1009.2 1757.6,1004.2 1758.2,999.3 1758.5,994.3 1758.5,989.4 1758.2,984.4 1757.7,979.5 1756.9,974.5 1755.9,969.6 1754.7,964.6 1753.3,959.7 1751.8,954.7 1750.3,949.7 1748.7,944.8 1747.1,939.8 1745.6,934.9 1744.1,929.9 1742.7,925.0 1741.5,920.0 1740.3,915.1 1739.3,910.1 1738.5,905.2 1737.7,900.2 1737.0,895.2 1736.5,890.3 1736.1,885.3 1735.7,880.4 1735.4,875.4 1735.2,870.5 1735.0,865.5 1734.9,860.6 1734.8,855.6 1734.7,850.7" fill="none" stroke="#FF8C8F" stroke-width="1.3"/>
<g fill="#FF8C8F"><circle cx="1735.0" cy="1083.2" r="2.7"/><circle cx="1735.0" cy="1067.6" r="2.7"/><circle cx="1737.9" cy="1065.8" r="2.7"/><circle cx="1735.0" cy="1052.4" r="2.7"/><circle cx="1737.9" cy="1052.2" r="2.7"/><circle cx="1740.8" cy="1050.8" r="2.7"/><circle cx="1735.0" cy="1038.4" r="2.7"/><circle cx="1737.9" cy="1037.2" r="2.7"/><circle cx="1740.8" cy="1036.7" r="2.7"/><circle cx="1743.7" cy="1035.7" r="2.7"/><circle cx="1746.6" cy="1034.4" r="2.7"/><circle cx="1735.0" cy="1019.1" r="2.7"/><circle cx="1737.9" cy="1017.2" r="2.7"/><circle cx="1740.8" cy="1016.2" r="2.7"/><circle cx="1743.7" cy="1016.1" r="2.7"/><circle cx="1735.0" cy="1003.5" r="2.7"/><circle cx="1737.9" cy="1002.4" r="2.7"/><circle cx="1740.8" cy="1001.9" r="2.7"/><circle cx="1743.7" cy="1000.9" r="2.7"/><circle cx="1746.6" cy="998.4" r="2.7"/><circle cx="1749.5" cy="998.4" r="2.7"/><circle cx="1752.4" cy="996.2" r="2.7"/><circle cx="1735.0" cy="985.9" r="2.7"/><circle cx="1737.9" cy="985.3" r="2.7"/><circle cx="1740.8" cy="984.4" r="2.7"/><circle cx="1743.7" cy="983.3" r="2.7"/><circle cx="1746.6" cy="982.8" r="2.7"/><circle cx="1749.5" cy="981.0" r="2.7"/><circle cx="1752.4" cy="979.7" r="2.7"/><circle cx="1735.0" cy="969.3" r="2.7"/><circle cx="1737.9" cy="968.0" r="2.7"/><circle cx="1740.8" cy="966.0" r="2.7"/><circle cx="1743.7" cy="964.8" r="2.7"/><circle cx="1746.6" cy="963.9" r="2.7"/><circle cx="1749.5" cy="961.8" r="2.7"/><circle cx="1735.0" cy="949.9" r="2.7"/><circle cx="1737.9" cy="948.4" r="2.7"/><circle cx="1740.8" cy="947.4" r="2.7"/><circle cx="1743.7" cy="945.2" r="2.7"/><circle cx="1735.0" cy="934.6" r="2.7"/><circle cx="1737.9" cy="933.1" r="2.7"/><circle cx="1735.0" cy="921.0" r="2.7"/><circle cx="1737.9" cy="919.2" r="2.7"/><circle cx="1735.0" cy="915.6" r="2.7"/><circle cx="1735.0" cy="1090.3" r="2.7"/></g>
<line x1="1812.8" y1="978.0" x2="1812.8" y2="1097.2" stroke="#6f6f6f" stroke-width="1.2"/>
<path d="M1807.8 973.0l10 10M1807.8 983.0l10 -10" stroke="#4d4d4d" stroke-width="1.3" fill="none"/>
<line x1="1805.3" y1="978.0" x2="1820.3" y2="978.0" stroke="#4d4d4d" stroke-width="1.3"/>
<line x1="1805.3" y1="1097.2" x2="1820.3" y2="1097.2" stroke="#4d4d4d" stroke-width="1.3"/>
<path d="M1807.8 1106.4l10 10M1807.8 1116.4l10 -10" stroke="#4d4d4d" stroke-width="1.3" fill="none"/>
<rect x="1797.3" y="1007.4" width="31.0" height="41.0" fill="#5BA5D6" stroke="#6f6f6f" stroke-width="1"/>
<rect x="1809.5" y="1029.0" width="6.6" height="6.6" fill="none" stroke="#555" stroke-width="1.1"/>
<polyline points="1834.5,1143.0 1834.5,1139.1 1834.6,1135.2 1834.7,1131.3 1834.9,1127.4 1835.1,1123.5 1835.3,1119.6 1835.6,1115.7 1836.0,1111.8 1836.5,1107.9 1837.1,1104.0 1837.8,1100.1 1838.6,1096.2 1839.5,1092.3 1840.6,1088.4 1841.8,1084.5 1843.1,1080.6 1844.6,1076.7 1846.1,1072.8 1847.7,1068.9 1849.3,1065.0 1850.9,1061.1 1852.4,1057.2 1853.8,1053.3 1855.1,1049.4 1856.3,1045.5 1857.2,1041.6 1857.8,1037.7 1858.2,1033.8 1858.3,1029.9 1858.1,1026.0 1857.6,1022.1 1856.9,1018.2 1855.9,1014.3 1854.7,1010.4 1853.3,1006.5 1851.8,1002.6 1850.2,998.7 1848.6,994.8 1847.0,990.9 1845.5,987.0 1844.0,983.1 1842.6,979.2 1841.3,975.3 1840.2,971.4 1839.2,967.5 1838.3,963.6 1837.5,959.7 1836.8,955.8 1836.3,951.9 1835.9,948.0 1835.5,944.1 1835.2,940.2 1835.0,936.3 1834.8,932.4 1834.7,928.5 1834.6,924.6 1834.5,920.7 1834.4,916.8 1834.4,912.9" fill="none" stroke="#5BA5D6" stroke-width="1.3"/>
<g fill="#5BA5D6"><circle cx="1834.8" cy="1094.1" r="2.7"/><circle cx="1837.7" cy="1092.1" r="2.7"/><circle cx="1834.8" cy="1078.0" r="2.7"/><circle cx="1837.7" cy="1077.2" r="2.7"/><circle cx="1840.6" cy="1074.7" r="2.7"/><circle cx="1843.5" cy="1073.4" r="2.7"/><circle cx="1846.4" cy="1072.5" r="2.7"/><circle cx="1834.8" cy="1060.1" r="2.7"/><circle cx="1837.7" cy="1059.2" r="2.7"/><circle cx="1840.6" cy="1057.5" r="2.7"/><circle cx="1843.5" cy="1057.1" r="2.7"/><circle cx="1846.4" cy="1055.7" r="2.7"/><circle cx="1849.3" cy="1055.2" r="2.7"/><circle cx="1834.8" cy="1043.0" r="2.7"/><circle cx="1837.7" cy="1041.1" r="2.7"/><circle cx="1840.6" cy="1039.8" r="2.7"/><circle cx="1843.5" cy="1038.5" r="2.7"/><circle cx="1846.4" cy="1037.0" r="2.7"/><circle cx="1849.3" cy="1036.1" r="2.7"/><circle cx="1852.2" cy="1033.3" r="2.7"/><circle cx="1855.1" cy="1032.7" r="2.7"/><circle cx="1858.0" cy="1030.6" r="2.7"/><circle cx="1834.8" cy="1026.3" r="2.7"/><circle cx="1837.7" cy="1023.7" r="2.7"/><circle cx="1840.6" cy="1023.0" r="2.7"/><circle cx="1843.5" cy="1022.8" r="2.7"/><circle cx="1846.4" cy="1021.4" r="2.7"/><circle cx="1849.3" cy="1019.5" r="2.7"/><circle cx="1852.2" cy="1017.5" r="2.7"/><circle cx="1855.1" cy="1017.7" r="2.7"/><circle cx="1858.0" cy="1014.6" r="2.7"/><circle cx="1834.8" cy="1009.9" r="2.7"/><circle cx="1837.7" cy="1007.5" r="2.7"/><circle cx="1840.6" cy="1005.4" r="2.7"/><circle cx="1843.5" cy="1004.1" r="2.7"/><circle cx="1846.4" cy="1002.4" r="2.7"/><circle cx="1849.3" cy="1000.6" r="2.7"/><circle cx="1852.2" cy="998.5" r="2.7"/><circle cx="1834.8" cy="992.8" r="2.7"/><circle cx="1837.7" cy="990.5" r="2.7"/><circle cx="1840.6" cy="989.4" r="2.7"/><circle cx="1843.5" cy="988.3" r="2.7"/><circle cx="1834.8" cy="978.0" r="2.7"/><circle cx="1834.8" cy="1111.4" r="2.7"/></g>
<line x1="1912.6" y1="1022.4" x2="1912.6" y2="1105.5" stroke="#6f6f6f" stroke-width="1.2"/>
<path d="M1907.6 1017.4l10 10M1907.6 1027.4l10 -10" stroke="#4d4d4d" stroke-width="1.3" fill="none"/>
<line x1="1905.1" y1="1022.4" x2="1920.1" y2="1022.4" stroke="#4d4d4d" stroke-width="1.3"/>
<path d="M1907.6 1100.5l10 10M1907.6 1110.5l10 -10" stroke="#4d4d4d" stroke-width="1.3" fill="none"/>
<line x1="1905.1" y1="1105.5" x2="1920.1" y2="1105.5" stroke="#4d4d4d" stroke-width="1.3"/>
<rect x="1897.1" y="1052.3" width="31.0" height="28.3" fill="#8CC2AE" stroke="#6f6f6f" stroke-width="1"/>
<rect x="1909.3" y="1062.1" width="6.6" height="6.6" fill="none" stroke="#555" stroke-width="1.1"/>
<polyline points="1934.1,1130.9 1934.1,1128.6 1934.1,1126.4 1934.2,1124.2 1934.2,1121.9 1934.3,1119.7 1934.5,1117.5 1934.7,1115.2 1935.0,1113.0 1935.4,1110.8 1936.0,1108.5 1936.7,1106.3 1937.6,1104.1 1938.7,1101.8 1939.9,1099.6 1941.3,1097.3 1942.8,1095.1 1944.3,1092.9 1945.8,1090.6 1947.3,1088.4 1948.8,1086.2 1950.2,1083.9 1951.5,1081.7 1952.8,1079.5 1954.0,1077.2 1955.1,1075.0 1956.1,1072.8 1957.0,1070.5 1957.6,1068.3 1958.0,1066.1 1958.1,1063.8 1957.8,1061.6 1957.2,1059.3 1956.2,1057.1 1954.9,1054.9 1953.3,1052.6 1951.5,1050.4 1949.6,1048.2 1947.6,1045.9 1945.6,1043.7 1943.8,1041.5 1942.1,1039.2 1940.5,1037.0 1939.2,1034.8 1938.1,1032.5 1937.1,1030.3 1936.3,1028.1 1935.7,1025.8 1935.3,1023.6 1934.9,1021.4 1934.7,1019.1 1934.5,1016.9 1934.4,1014.6 1934.3,1012.4 1934.2,1010.2 1934.2,1007.9 1934.1,1005.7 1934.1,1003.5 1934.1,1001.2 1934.1,999.0" fill="none" stroke="#8CC2AE" stroke-width="1.3"/>
<g fill="#8CC2AE"><circle cx="1934.6" cy="1099.4" r="2.7"/><circle cx="1937.5" cy="1098.0" r="2.7"/><circle cx="1940.4" cy="1097.4" r="2.7"/><circle cx="1943.3" cy="1095.4" r="2.7"/><circle cx="1946.2" cy="1095.2" r="2.7"/><circle cx="1934.6" cy="1080.2" r="2.7"/><circle cx="1937.5" cy="1078.7" r="2.7"/><circle cx="1940.4" cy="1077.6" r="2.7"/><circle cx="1943.3" cy="1076.4" r="2.7"/><circle cx="1946.2" cy="1074.5" r="2.7"/><circle cx="1949.1" cy="1073.8" r="2.7"/><circle cx="1952.0" cy="1072.7" r="2.7"/><circle cx="1954.9" cy="1070.7" r="2.7"/><circle cx="1957.8" cy="1069.7" r="2.7"/><circle cx="1934.6" cy="1061.1" r="2.7"/><circle cx="1937.5" cy="1060.2" r="2.7"/><circle cx="1940.4" cy="1058.5" r="2.7"/><circle cx="1943.3" cy="1056.1" r="2.7"/><circle cx="1946.2" cy="1054.7" r="2.7"/><circle cx="1949.1" cy="1052.0" r="2.7"/><circle cx="1952.0" cy="1051.7" r="2.7"/><circle cx="1954.9" cy="1049.8" r="2.7"/><circle cx="1957.8" cy="1048.5" r="2.7"/><circle cx="1934.6" cy="1047.5" r="2.7"/><circle cx="1937.5" cy="1046.5" r="2.7"/><circle cx="1940.4" cy="1044.9" r="2.7"/><circle cx="1943.3" cy="1043.2" r="2.7"/><circle cx="1946.2" cy="1042.3" r="2.7"/><circle cx="1934.6" cy="1022.4" r="2.7"/><circle cx="1934.6" cy="1105.5" r="2.7"/></g>
<rect x="1584.0" y="724.5" width="399.3" height="420.5" fill="none" stroke="#000" stroke-width="2.3"/>
<text x="1571.7" y="731.4" font-size="20" text-anchor="end">250</text>
<text x="1571.7" y="815.5" font-size="20" text-anchor="end">200</text>
<text x="1571.7" y="899.6" font-size="20" text-anchor="end">150</text>
<text x="1571.7" y="983.7" font-size="20" text-anchor="end">100</text>
<text x="1571.7" y="1067.8" font-size="20" text-anchor="end">50</text>
<text x="1571.7" y="1151.9" font-size="20" text-anchor="end">0</text>
<path d="M1633.7 1145.0v-11M1734.0 1145.0v-11M1833.8 1145.0v-11M1933.6 1145.0v-11M1584.0 766.5h6M1584.0 808.6h11M1584.0 850.7h6M1584.0 892.7h11M1584.0 934.8h6M1584.0 976.8h11M1584.0 1018.9h6M1584.0 1060.9h11M1584.0 1103.0h6" stroke="#000" stroke-width="2.3" fill="none"/>
<text x="1633.7" y="1172.6" font-size="20" text-anchor="middle">55</text>
<text x="1734.0" y="1172.6" font-size="20" text-anchor="middle">180</text>
<text x="1833.8" y="1172.6" font-size="20" text-anchor="middle">380</text>
<text x="1933.6" y="1172.6" font-size="20" text-anchor="middle">780</text>
<text x="1783.7" y="1212.0" font-size="24" text-anchor="middle"><tspan font-style="italic">L</tspan><tspan font-size="16" dy="5">CH</tspan><tspan dy="-5"> (nm)</tspan></text>
<text x="1523.0" y="936.0" font-size="24" text-anchor="middle" transform="rotate(-90 1523.0 936.0)"><tspan font-style="italic">I</tspan><tspan font-size="16" dy="5">D</tspan><tspan dy="-5"> at </tspan><tspan font-style="italic">V</tspan><tspan font-size="16" dy="5">OV</tspan><tspan dy="-5"> = -0.5 V (μA/μm)</tspan></text>
<text x="1507.0" y="704.0" font-size="44" font-weight="bold">h</text>
<clipPath id="cpi"><rect x="21.0" y="1297.5" width="476.3" height="475.3"/></clipPath>
<filter id="spk" x="0" y="0" width="100%" height="100%" color-interpolation-filters="sRGB"><feTurbulence type="fractalNoise" baseFrequency="0.13" numOctaves="2" seed="7" result="n"/><feColorMatrix in="n" type="matrix" values="0.72 0.26 0 0 -0.295  0.72 0.26 0 0 -0.295  0.72 0.26 0 0 -0.295  0 0 0 0 1"/><feGaussianBlur stdDeviation="0.85"/></filter>
<filter id="bl2"><feGaussianBlur stdDeviation="2.2"/></filter>
<filter id="bl1"><feGaussianBlur stdDeviation="1.2"/></filter>
<filter id="bl4"><feGaussianBlur stdDeviation="4"/></filter>
<linearGradient id="gbot" x1="0" y1="0" x2="0" y2="1"><stop offset="0" stop-color="#cfcfcf"/><stop offset="0.35" stop-color="#8d8d8d"/><stop offset="1" stop-color="#060606"/></linearGradient>
<g clip-path="url(#cpi)">
<rect x="21.0" y="1297.5" width="476.3" height="475.3" fill="#2e2e2e"/>
<rect x="21.0" y="1297.5" width="476.3" height="284.0" filter="url(#spk)"/>
<polygon points="18.0,1386.5 56.9,1386.5 74.9,1388.9 89.9,1394.3 103.4,1404.2 110.2,1419.7 115.3,1443.7 120.7,1468.0 127.9,1503.9 133.9,1539.9 140.2,1563.5 145.9,1574.6 167.8,1580.0 18.0,1580.0" fill="#2a2a2a" stroke="#2a2a2a" stroke-width="7" stroke-linejoin="round" filter="url(#bl2)"/>
<polygon points="500.3,1389.8 482.3,1390.7 465.8,1394.0 448.8,1407.5 437.1,1429.0 429.9,1460.8 425.7,1489.6 421.5,1518.3 415.5,1539.9 401.1,1558.8 379.6,1571.6 367.0,1577.9 500.3,1577.9" fill="#2a2a2a" stroke="#2a2a2a" stroke-width="7" stroke-linejoin="round" filter="url(#bl2)"/>
<polygon points="16.5,1388.5 55.4,1388.5 73.4,1390.9 88.4,1396.3 101.9,1406.2 108.7,1421.7 113.8,1445.7 119.2,1470.0 126.4,1505.9 132.4,1541.9 138.7,1565.5 144.4,1576.6 166.3,1582.0 16.5,1582.0" fill="#dedede" stroke="#dedede" stroke-width="2" stroke-linejoin="round" filter="url(#bl1)"/>
<polygon points="501.8,1391.8 483.8,1392.7 467.3,1396.0 450.3,1409.5 438.6,1431.0 431.4,1462.8 427.2,1491.6 423.0,1520.3 417.0,1541.9 402.6,1560.8 381.1,1573.6 368.5,1579.9 501.8,1579.9" fill="#cdcdcd" stroke="#cdcdcd" stroke-width="2" stroke-linejoin="round" filter="url(#bl1)"/>
<rect x="21.0" y="1491.6" width="98.8" height="74.9" fill="#ededed" opacity="0.7" filter="url(#bl4)"/>
<rect x="21.0" y="1389.8" width="59.9" height="77.9" fill="#c4c4c4" opacity="0.6" filter="url(#bl4)"/>
<rect x="437.4" y="1509.6" width="59.9" height="56.9" fill="#e2e2e2" opacity="0.6" filter="url(#bl4)"/>
<rect x="21.0" y="1574.9" width="476.3" height="7.2" fill="#3d3d3d" filter="url(#bl1)"/>
<rect x="21.0" y="1580.9" width="476.3" height="23.1" fill="#686868"/>
<rect x="21.0" y="1603.1" width="476.3" height="9.9" fill="#474747" filter="url(#bl1)"/>
<rect x="21.0" y="1611.5" width="476.3" height="47.9" fill="#d2d2d2" filter="url(#bl1)"/>
<rect x="21.0" y="1654.9" width="476.3" height="23.1" fill="url(#gbot)"/>
<rect x="21.0" y="1676.8" width="476.3" height="96.0" fill="#060606"/>
<rect x="26.4" y="1303.5" width="74.9" height="27.9" rx="4" fill="#fff"/>
<text x="63.8" y="1325.4" font-size="17.5" text-anchor="middle" font-weight="bold" fill="#fff" stroke="#2a2a2a" stroke-width="1.6" paint-order="stroke" textLength="63" lengthAdjust="spacingAndGlyphs">HAADF</text>
<rect x="28.5" y="1761.6" width="87.5" height="2.6" fill="#fff"/>
<text x="27.6" y="1751.1" font-size="21" fill="#fff">20 nm</text>
</g>
<text x="47.9" y="1446.7" font-size="29" font-weight="bold" fill="#5BA8DC">30 nm Au</text>
<text x="50.9" y="1533.6" font-size="29" font-weight="bold" fill="#5BA8DC">30 nm Pt</text>
<text x="209.7" y="1466.2" font-size="29" font-weight="bold" fill="#5BA8DC"><tspan font-style="italic">L</tspan><tspan font-size="19" dy="6">CH</tspan><tspan dy="-6">~ 55 nm</tspan></text>
<text x="224.7" y="1554.6" font-size="29" font-weight="bold" fill="#5BA8DC">1L-WSe<tspan font-size="19" dy="6">2</tspan></text>
<text x="215.7" y="1598.0" font-size="29" font-weight="bold" fill="#5BA8DC">6 nm HfO<tspan font-size="19" dy="6">2</tspan></text>
<text x="195.3" y="1636.9" font-size="29" font-weight="bold" fill="#5BA8DC">3/12 nm Ti/Au</text>
<text x="13.0" y="1272.8" font-size="44" font-weight="bold">i</text>
<marker id="mS" markerUnits="userSpaceOnUse" markerWidth="11" markerHeight="11" refX="5.5" refY="5.5"><rect width="11" height="11" fill="#7189AD"/></marker>
<marker id="mB" markerUnits="userSpaceOnUse" markerWidth="11" markerHeight="11" refX="5.5" refY="5.5"><rect width="11" height="11" fill="#5BA5D6"/></marker>
<marker id="mG" markerUnits="userSpaceOnUse" markerWidth="11" markerHeight="11" refX="5.5" refY="5.5"><rect width="11" height="11" fill="#8CC2AE"/></marker>
<clipPath id="cpj1"><rect x="650.6" y="1283.6" width="417.2" height="520.6"/></clipPath>
<g clip-path="url(#cpj1)">
<polyline points="671.0,1802.0 671.0,1801.7 692.2,1799.5 692.2,1796.9 692.2,1794.4 692.2,1791.8 713.5,1789.6 713.5,1786.7 713.5,1783.9 713.5,1781.1 713.5,1778.3 713.5,1775.5 713.5,1772.6 713.5,1769.8 713.5,1767.0 734.7,1764.8 734.7,1761.9 734.7,1759.0 734.7,1756.1 734.7,1753.2 734.7,1750.3 734.7,1747.4 734.7,1744.6 734.7,1741.7 734.7,1738.8 734.7,1735.9 734.7,1733.0 734.7,1730.1 734.7,1727.3 734.7,1724.4 734.7,1721.5 734.7,1718.6 734.7,1715.7 734.7,1712.8 734.7,1709.9 756.0,1707.7 756.0,1704.7 756.0,1701.8 756.0,1698.8 756.0,1695.9 756.0,1692.9 756.0,1689.9 756.0,1687.0 756.0,1684.0 756.0,1681.0 756.0,1678.1 756.0,1675.1 756.0,1672.2 756.0,1669.2 756.0,1666.2 756.0,1663.3 756.0,1660.3 756.0,1657.3 756.0,1654.4 756.0,1651.4 756.0,1648.5 756.0,1645.5 756.0,1642.5 756.0,1639.6 756.0,1636.6 756.0,1633.7 756.0,1630.7 756.0,1627.7 756.0,1624.8 756.0,1621.8 756.0,1618.8 756.0,1615.9 756.0,1612.9 756.0,1610.0 756.0,1607.0 756.0,1604.0 756.0,1601.1 756.0,1598.1 756.0,1595.1 756.0,1592.2 756.0,1589.2 756.0,1586.3 756.0,1583.3 756.0,1580.3 756.0,1577.4 756.0,1574.4 756.0,1571.4 756.0,1568.5 756.0,1565.5 756.0,1562.6 756.0,1559.6 756.0,1556.6 756.0,1553.7 777.3,1551.4 777.3,1548.5 777.3,1545.6 777.3,1542.7 777.3,1539.7 777.3,1536.8 777.3,1533.9 777.3,1531.0 777.3,1528.1 777.3,1525.1 777.3,1522.2 777.3,1519.3 777.3,1516.4 777.3,1513.4 777.3,1510.5 777.3,1507.6 777.3,1504.7 777.3,1501.7 777.3,1498.8 777.3,1495.9 777.3,1493.0 777.3,1490.1 777.3,1487.1 777.3,1484.2 777.3,1481.3 777.3,1478.4 777.3,1475.4 777.3,1472.5 777.3,1469.6 777.3,1466.7 777.3,1463.7 777.3,1460.8 777.3,1457.9 777.3,1455.0 777.3,1452.1 777.3,1449.1 777.3,1446.2 777.3,1443.3 777.3,1440.4 777.3,1437.4 777.3,1434.5 777.3,1431.6 777.3,1428.7 777.3,1425.7 777.3,1422.8 777.3,1419.9 777.3,1417.0 777.3,1414.1 777.3,1411.1 777.3,1408.2 777.3,1405.3 777.3,1402.4 798.5,1400.1 798.5,1397.2 798.5,1394.3 798.5,1391.4 798.5,1388.4 798.5,1385.5 798.5,1382.6 798.5,1379.7 798.5,1376.7 798.5,1373.8 798.5,1370.9 798.5,1368.0 798.5,1365.0 798.5,1362.1 798.5,1359.2 798.5,1356.3 798.5,1353.3 798.5,1350.4 798.5,1347.5 798.5,1344.6 798.5,1341.6 798.5,1338.7 798.5,1335.8 798.5,1332.9 798.5,1329.9 819.8,1327.7 819.8,1326.1 819.8,1324.5 841.0,1322.2 841.0,1319.4 841.0,1316.5 862.3,1314.3 862.3,1313.1 883.6,1310.8 883.6,1310.6 904.8,1308.3 904.8,1308.1" fill="none" stroke="#7189AD" stroke-width="3.4" marker-start="url(#mS)" marker-mid="url(#mS)" marker-end="url(#mS)"/>
<polyline points="777.3,1802.0 777.3,1801.2 798.5,1799.0 798.5,1799.7 841.0,1797.5 841.0,1794.8 841.0,1792.2 841.0,1789.5 841.0,1786.8 862.3,1784.6 862.3,1781.7 862.3,1778.8 862.3,1775.9 862.3,1773.0 862.3,1770.1 862.3,1767.2 862.3,1764.3 862.3,1761.4 862.3,1758.5 862.3,1755.6 862.3,1752.7 862.3,1749.8 862.3,1746.8 862.3,1743.9 862.3,1741.0 862.3,1738.1 862.3,1735.2 862.3,1732.3 862.3,1729.4 862.3,1726.5 862.3,1723.6 862.3,1720.7 862.3,1717.8 862.3,1714.9 883.6,1712.7 883.6,1709.7 883.6,1706.7 883.6,1703.8 883.6,1700.8 883.6,1697.8 883.6,1694.8 883.6,1691.9 883.6,1688.9 883.6,1685.9 883.6,1683.0 883.6,1680.0 883.6,1677.0 883.6,1674.0 883.6,1671.1 883.6,1668.1 883.6,1665.1 883.6,1662.2 883.6,1659.2 883.6,1656.2 883.6,1653.2 883.6,1650.3 883.6,1647.3 883.6,1644.3 883.6,1641.3 883.6,1638.4 883.6,1635.4 883.6,1632.4 883.6,1629.5 883.6,1626.5 883.6,1623.5 883.6,1620.5 883.6,1617.6 883.6,1614.6 883.6,1611.6 883.6,1608.7 883.6,1605.7 883.6,1602.7 883.6,1599.7 883.6,1596.8 883.6,1593.8 883.6,1590.8 883.6,1587.9 883.6,1584.9 883.6,1581.9 883.6,1578.9 883.6,1576.0 883.6,1573.0 883.6,1570.0 883.6,1567.1 883.6,1564.1 883.6,1561.1 904.8,1558.9 904.8,1555.9 904.8,1553.0 904.8,1550.0 904.8,1547.0 904.8,1544.1 904.8,1541.1 904.8,1538.2 904.8,1535.2 904.8,1532.2 904.8,1529.3 904.8,1526.3 904.8,1523.3 904.8,1520.4 904.8,1517.4 904.8,1514.5 904.8,1511.5 904.8,1508.5 904.8,1505.6 904.8,1502.6 904.8,1499.7 904.8,1496.7 904.8,1493.7 904.8,1490.8 904.8,1487.8 904.8,1484.9 904.8,1481.9 904.8,1478.9 904.8,1476.0 904.8,1473.0 904.8,1470.1 904.8,1467.1 904.8,1464.1 904.8,1461.2 904.8,1458.2 904.8,1455.3 904.8,1452.3 904.8,1449.3 904.8,1446.4 904.8,1443.4 904.8,1440.4 904.8,1437.5 904.8,1434.5 904.8,1431.6 904.8,1428.6 904.8,1425.6 904.8,1422.7 904.8,1419.7 926.1,1417.5 926.1,1414.5 926.1,1411.6 926.1,1408.6 926.1,1405.7 926.1,1402.7 926.1,1399.8 926.1,1396.8 926.1,1393.9 926.1,1390.9 926.1,1388.0 926.1,1385.1 926.1,1382.1 926.1,1379.2 926.1,1376.2 926.1,1373.3 926.1,1370.3 926.1,1367.4 926.1,1364.4 926.1,1361.5 926.1,1358.5 926.1,1355.6 926.1,1352.6 926.1,1349.7 926.1,1346.7 926.1,1343.8 926.1,1340.8 926.1,1337.9 947.3,1335.6 947.3,1333.0 947.3,1330.4 968.6,1328.2 968.6,1325.7 968.6,1323.1 968.6,1320.6 968.6,1318.1 968.6,1315.5" fill="none" stroke="#5BA5D6" stroke-width="3.4" marker-start="url(#mB)" marker-mid="url(#mB)" marker-end="url(#mB)"/>
<polyline points="798.5,1802.0 798.5,1800.7 819.8,1798.5 819.8,1795.8 819.8,1793.0 819.8,1790.3 819.8,1787.6 819.8,1784.9 819.8,1782.1 819.8,1779.4 841.0,1777.2 841.0,1774.2 841.0,1771.3 841.0,1768.4 841.0,1765.4 841.0,1762.5 841.0,1759.6 841.0,1756.6 841.0,1753.7 841.0,1750.8 841.0,1747.8 841.0,1744.9 841.0,1742.0 841.0,1739.0 841.0,1736.1 841.0,1733.2 841.0,1730.2 841.0,1727.3 862.3,1725.1 862.3,1722.1 862.3,1719.2 862.3,1716.2 862.3,1713.2 862.3,1710.3 862.3,1707.3 862.3,1704.4 862.3,1701.4 862.3,1698.5 862.3,1695.5 862.3,1692.6 862.3,1689.6 862.3,1686.6 862.3,1683.7 862.3,1680.7 862.3,1677.8 862.3,1674.8 862.3,1671.9 862.3,1668.9 862.3,1665.9 862.3,1663.0 862.3,1660.0 862.3,1657.1 862.3,1654.1 862.3,1651.2 862.3,1648.2 862.3,1645.2 862.3,1642.3 862.3,1639.3 862.3,1636.4 862.3,1633.4 862.3,1630.5 862.3,1627.5 862.3,1624.6 862.3,1621.6 862.3,1618.6 862.3,1615.7 883.6,1613.4 883.6,1610.5 883.6,1607.6 883.6,1604.6 883.6,1601.7 883.6,1598.7 883.6,1595.8 883.6,1592.8 883.6,1589.9 883.6,1586.9 883.6,1584.0 883.6,1581.0 883.6,1578.1 883.6,1575.1 883.6,1572.2 883.6,1569.2 883.6,1566.3 883.6,1563.3 883.6,1560.4 883.6,1557.4 883.6,1554.5 883.6,1551.5 883.6,1548.6 883.6,1545.7 883.6,1542.7 883.6,1539.8 883.6,1536.8 883.6,1533.9 883.6,1530.9 883.6,1528.0 883.6,1525.0 883.6,1522.1 883.6,1519.1 883.6,1516.2 883.6,1513.2 883.6,1510.3 883.6,1507.3 883.6,1504.4 883.6,1501.4 883.6,1498.5 883.6,1495.5 883.6,1492.6 883.6,1489.6 883.6,1486.7 904.8,1484.5 904.8,1481.6 904.8,1478.7 904.8,1475.8 904.8,1472.9 904.8,1470.0 904.8,1467.1 904.8,1464.2 904.8,1461.4 904.8,1458.5 904.8,1455.6 904.8,1452.7 904.8,1449.8 904.8,1446.9 904.8,1444.0 904.8,1441.1 904.8,1438.2 904.8,1435.4 904.8,1432.5 904.8,1429.6 904.8,1426.7 904.8,1423.8 904.8,1420.9 904.8,1418.0 904.8,1415.1 904.8,1412.2 904.8,1409.4 904.8,1406.5 904.8,1403.6 904.8,1400.7 904.8,1397.8 904.8,1394.9 926.1,1392.7 926.1,1389.7 926.1,1386.8 926.1,1383.8 926.1,1380.8 926.1,1377.9 926.1,1374.9 926.1,1371.9 926.1,1369.0 926.1,1366.0 926.1,1363.0 926.1,1360.1 926.1,1357.1 926.1,1354.1 926.1,1351.2 926.1,1348.2 926.1,1345.2 926.1,1342.3 926.1,1339.3 926.1,1336.4 926.1,1333.4 926.1,1330.4 947.3,1328.2 947.3,1325.7 947.3,1323.1 947.3,1320.6 947.3,1318.1 947.3,1315.5 968.6,1313.3 968.6,1310.7 968.6,1308.1" fill="none" stroke="#8CC2AE" stroke-width="3.4" marker-start="url(#mG)" marker-mid="url(#mG)" marker-end="url(#mG)"/>
</g>
<clipPath id="cpj2"><rect x="1068.2" y="1283.6" width="426.2" height="520.6"/></clipPath>
<g clip-path="url(#cpj2)">
<polyline points="1107.6,1802.1 1117.1,1799.7 1126.8,1797.3 1137.6,1794.9 1155.3,1792.1 1161.6,1790.2 1166.6,1788.2 1171.9,1786.3 1173.7,1783.9 1176.7,1781.5 1179.2,1779.1 1180.2,1776.7 1181.0,1774.3 1183.1,1771.9 1187.3,1769.5 1188.7,1767.1 1189.8,1764.7 1193.3,1762.3 1195.0,1760.0 1197.7,1757.6 1198.7,1755.3 1199.3,1753.0 1201.0,1750.8 1201.4,1748.5 1201.9,1746.3 1203.4,1744.0 1204.5,1741.7 1203.6,1739.5 1205.4,1737.2 1205.7,1735.0 1207.1,1732.7 1207.1,1730.4 1208.9,1728.2 1209.7,1725.9 1210.3,1723.7 1210.6,1721.4 1211.8,1719.2 1212.1,1717.0 1212.7,1714.7 1214.6,1712.5 1214.5,1710.3 1216.9,1708.0 1217.4,1705.8 1216.3,1703.5 1218.7,1701.3 1218.5,1699.1 1220.1,1696.8 1220.9,1694.6 1220.3,1692.4 1222.3,1690.1 1223.1,1687.9 1224.7,1685.7 1224.7,1683.5 1227.5,1681.3 1227.6,1679.2 1229.6,1677.0 1230.7,1674.9 1233.7,1672.7 1234.5,1670.6 1237.3,1668.4 1236.7,1666.2 1237.4,1663.9 1238.1,1661.7 1237.7,1659.5 1238.7,1657.2 1240.4,1655.0 1239.8,1652.7 1240.8,1650.5 1241.3,1648.3 1242.4,1646.0 1242.3,1643.8 1243.1,1641.6 1244.0,1639.3 1244.6,1637.1 1244.6,1634.8 1246.4,1632.6 1245.5,1630.4 1246.2,1628.1 1247.0,1625.9 1249.4,1623.6 1249.3,1621.4 1249.7,1619.1 1250.4,1616.8 1252.3,1614.6 1252.1,1612.3 1252.8,1610.1 1254.9,1607.8 1254.5,1605.5 1255.9,1603.3 1256.9,1601.0 1257.4,1598.8 1258.5,1596.5 1260.2,1594.3 1259.5,1592.0 1259.6,1589.8 1259.8,1587.5 1261.6,1585.3 1262.2,1583.1 1263.2,1580.8 1263.4,1578.6 1264.0,1576.4 1264.5,1574.1 1265.2,1571.9 1266.4,1569.7 1266.6,1567.4 1267.6,1565.2 1269.5,1562.9 1269.1,1560.7 1268.3,1558.5 1271.3,1556.2 1271.0,1554.0 1270.8,1551.8 1272.7,1549.6 1272.8,1547.4 1273.0,1545.2 1273.6,1543.0 1274.0,1540.7 1275.4,1538.5 1276.8,1536.3 1276.5,1534.1 1277.7,1531.9 1279.4,1529.7 1277.9,1527.5 1279.6,1525.3 1279.9,1523.1 1280.0,1520.9 1280.7,1518.7 1282.1,1516.5 1283.1,1514.3 1283.1,1512.1 1284.2,1509.9 1285.3,1507.7 1285.7,1505.5 1286.8,1503.3 1287.2,1501.1 1287.9,1498.9 1289.5,1496.7 1289.3,1494.5 1289.6,1492.3 1290.7,1490.1 1290.5,1487.9 1291.7,1485.7 1293.4,1483.4 1294.2,1481.2 1295.7,1479.0 1295.5,1476.8 1295.4,1474.6 1298.7,1472.4 1298.9,1470.2 1298.3,1468.0 1300.9,1465.7 1300.9,1463.5 1300.5,1461.3 1302.5,1459.0 1303.5,1456.6 1306.0,1454.3 1305.3,1451.9 1306.8,1449.6 1307.8,1447.2 1308.8,1444.9 1309.4,1442.5 1311.3,1440.1 1312.9,1437.8 1313.7,1435.4 1313.6,1433.1 1314.5,1430.7 1316.4,1428.4 1316.9,1426.0 1318.0,1423.7 1318.3,1421.3 1321.9,1419.0 1322.2,1416.6 1322.0,1414.3 1324.3,1411.9 1325.7,1409.6 1324.2,1407.3 1326.6,1405.0 1327.9,1402.7 1329.8,1400.4 1330.4,1398.1 1331.5,1395.7 1332.7,1393.4 1335.2,1391.1 1336.6,1388.8 1335.9,1386.5 1338.5,1384.2 1343.9,1381.9 1344.2,1379.6 1347.3,1377.3 1350.6,1375.0 1353.3,1372.6 1356.1,1370.2 1358.1,1367.9 1359.6,1365.5 1363.0,1363.1 1365.2,1360.7 1369.2,1358.4 1370.7,1356.1 1372.7,1353.8 1375.8,1351.5 1380.4,1349.2 1396.3,1346.3 1397.0,1344.1 1399.8,1342.0 1402.0,1339.8 1404.7,1337.7 1404.9,1335.5 1407.9,1333.3 1409.8,1331.2 1410.5,1329.0 1433.9,1329.0 1442.9,1326.6 1450.6,1324.2 1457.6,1321.8 1471.6,1321.8 1476.5,1319.7 1479.9,1317.5 1484.3,1315.4 1488.1,1313.2 1497.3,1311.2" fill="none" stroke="#7189AD" stroke-width="3.4" marker-start="url(#mS)" marker-mid="url(#mS)" marker-end="url(#mS)"/>
<polyline points="1145.0,1800.7 1152.8,1797.8 1162.7,1794.9 1161.4,1791.8 1163.3,1788.7 1164.1,1785.5 1163.8,1782.4 1165.5,1779.3 1164.0,1776.1 1166.4,1773.0 1167.7,1769.8 1166.2,1766.7 1167.8,1763.6 1170.2,1760.4 1170.7,1757.2 1171.5,1754.0 1173.5,1750.7 1174.8,1747.5 1177.1,1744.3 1178.4,1741.0 1179.3,1737.8 1180.5,1734.5 1181.7,1731.5 1183.5,1728.4 1183.6,1725.3 1184.7,1722.2 1184.9,1719.1 1185.0,1716.1 1186.2,1713.0 1188.0,1709.9 1188.4,1706.8 1188.5,1703.7 1188.8,1700.7 1190.9,1697.6 1191.4,1694.5 1192.2,1691.4 1193.2,1688.3 1194.7,1685.1 1195.8,1682.0 1197.3,1678.9 1198.3,1675.7 1199.6,1672.6 1200.3,1669.4 1200.6,1666.3 1201.8,1663.2 1203.2,1660.0 1203.7,1656.9 1205.4,1653.7 1206.9,1650.4 1206.6,1647.2 1207.0,1644.0 1210.2,1640.7 1210.4,1637.5 1212.0,1634.2 1211.6,1631.0 1214.5,1627.8 1214.4,1624.6 1214.5,1621.4 1215.0,1618.2 1216.0,1614.9 1216.5,1611.7 1217.1,1608.5 1217.2,1605.3 1219.5,1602.1 1219.3,1598.9 1220.1,1595.7 1220.7,1592.4 1219.7,1589.2 1222.4,1586.0 1222.5,1582.8 1223.2,1579.6 1224.1,1576.4 1224.1,1573.2 1226.1,1570.1 1225.7,1567.0 1226.3,1563.9 1227.1,1560.8 1228.5,1557.7 1229.6,1554.6 1229.4,1551.4 1229.5,1548.3 1232.0,1545.2 1231.2,1542.1 1233.5,1539.0 1233.6,1535.8 1234.1,1532.6 1235.1,1529.4 1236.9,1526.2 1238.1,1523.0 1238.3,1519.8 1240.1,1516.6 1241.8,1513.4 1241.2,1510.2 1241.6,1507.1 1242.7,1503.9 1243.5,1500.8 1245.1,1497.7 1246.0,1494.5 1246.7,1491.4 1249.0,1488.3 1247.9,1485.1 1249.8,1482.0 1253.2,1478.8 1253.6,1475.7 1254.2,1472.6 1255.1,1469.5 1256.9,1466.4 1257.0,1463.2 1257.7,1460.1 1257.7,1457.0 1259.5,1453.9 1260.0,1450.8 1261.0,1447.7 1261.9,1444.5 1263.3,1441.4 1264.1,1438.3 1266.7,1434.9 1266.9,1431.4 1269.4,1428.0 1272.5,1424.5 1273.0,1421.1 1276.7,1417.6 1279.5,1414.2 1282.5,1410.7 1285.0,1407.3 1286.4,1403.8 1288.4,1400.6 1289.6,1397.4 1290.1,1394.2 1292.1,1391.0 1292.9,1387.8 1293.8,1384.6 1296.4,1381.4 1297.5,1378.2 1298.4,1375.0 1301.1,1371.6 1304.2,1368.1 1307.2,1364.7 1310.1,1361.2 1313.2,1357.8 1315.3,1354.4 1318.3,1351.1 1320.8,1347.7 1323.1,1344.4 1324.7,1341.0 1327.2,1337.7 1331.5,1334.4 1334.7,1331.2 1338.4,1327.9 1340.2,1324.7 1354.5,1320.4 1360.9,1317.5 1365.2,1314.6 1377.5,1311.0 1388.5,1307.5 1398.2,1306.0" fill="none" stroke="#5BA5D6" stroke-width="3.4" marker-start="url(#mB)" marker-mid="url(#mB)" marker-end="url(#mB)"/>
<polyline points="1077.4,1799.3 1101.8,1796.4 1104.4,1793.5 1109.6,1790.6 1110.2,1787.5 1112.7,1784.5 1114.1,1781.4 1115.8,1778.3 1117.9,1775.2 1118.5,1772.1 1120.3,1769.1 1124.2,1765.5 1128.9,1761.9 1134.6,1758.3 1137.5,1754.7 1140.1,1751.3 1141.2,1748.0 1142.6,1744.6 1144.1,1741.3 1144.3,1737.9 1146.7,1734.5 1148.4,1731.4 1147.7,1728.2 1149.0,1725.1 1149.4,1721.9 1150.9,1718.7 1150.8,1715.6 1153.6,1712.4 1153.1,1709.2 1153.1,1706.1 1156.3,1702.9 1157.4,1699.6 1158.7,1696.3 1160.3,1693.0 1161.4,1689.8 1163.1,1686.5 1165.4,1683.2 1167.2,1679.9 1167.9,1676.6 1168.0,1673.3 1168.2,1669.9 1169.1,1666.6 1170.6,1663.3 1171.5,1660.0 1171.0,1656.7 1171.5,1653.4 1173.4,1650.0 1173.7,1646.7 1174.3,1643.4 1173.6,1640.1 1174.9,1636.8 1175.7,1633.6 1177.0,1630.4 1176.6,1627.3 1179.5,1624.1 1179.7,1620.9 1180.7,1617.8 1180.4,1614.6 1182.1,1611.5 1183.9,1608.3 1182.7,1605.1 1185.5,1601.9 1187.2,1598.7 1187.6,1595.4 1190.1,1592.2 1190.8,1588.9 1193.3,1585.7 1194.2,1582.5 1195.5,1579.2 1197.6,1576.1 1197.7,1573.0 1199.0,1569.8 1198.1,1566.7 1199.4,1563.6 1201.4,1560.4 1202.3,1557.3 1202.6,1554.1 1204.1,1551.0 1203.7,1547.9 1205.5,1544.7 1205.5,1541.5 1207.4,1538.3 1207.7,1535.0 1208.5,1531.8 1209.9,1528.6 1212.0,1525.3 1211.0,1522.1 1212.1,1518.8 1215.2,1515.5 1216.1,1512.1 1219.6,1508.8 1220.4,1505.4 1222.2,1502.1 1224.3,1498.7 1226.6,1495.3 1227.1,1491.9 1228.4,1488.5 1229.5,1485.1 1229.5,1481.7 1231.3,1478.3 1234.3,1474.9 1235.1,1471.5 1236.2,1468.1 1237.6,1464.7 1238.1,1461.3 1240.0,1458.1 1240.4,1454.9 1242.6,1451.7 1243.1,1448.5 1244.7,1445.3 1246.4,1442.1 1247.2,1439.0 1249.1,1435.8 1250.3,1432.6 1251.5,1429.4 1253.4,1426.2 1252.8,1423.0 1253.9,1419.8 1256.8,1416.6 1258.3,1413.4 1260.3,1410.2 1260.7,1407.0 1262.0,1403.8 1262.3,1400.2 1264.9,1396.6 1266.2,1393.0 1266.5,1389.4 1278.1,1386.5 1279.6,1383.4 1280.8,1380.2 1279.5,1377.0 1282.6,1373.8 1283.7,1370.6 1284.3,1367.4 1285.6,1364.2 1286.7,1361.0 1286.6,1357.8 1291.5,1354.9 1294.8,1352.0 1298.2,1349.2 1302.6,1346.3 1307.1,1343.4 1308.6,1340.5 1312.1,1337.7 1314.4,1334.5 1319.2,1331.3 1320.0,1328.2 1322.4,1325.0 1324.2,1321.8 1332.7,1318.2 1340.6,1314.6 1356.5,1310.3 1460.1,1307.5" fill="none" stroke="#8CC2AE" stroke-width="3.4" marker-start="url(#mG)" marker-mid="url(#mG)" marker-end="url(#mG)"/>
</g>
<polyline points="1514.6,1794.9 1513.9,1789.2 1515.3,1783.4 1516.2,1777.7 1517.4,1771.9 1517.9,1766.2 1518.9,1760.4 1519.4,1754.7 1519.5,1748.9 1520.0,1743.2 1518.6,1737.4 1519.3,1731.7 1520.8,1725.9 1520.5,1720.2 1520.7,1714.4 1519.6,1708.7 1520.0,1702.9 1522.1,1697.2 1522.2,1691.4 1522.0,1685.7 1522.3,1679.9 1521.7,1674.2 1523.5,1668.4 1524.1,1662.2 1524.8,1656.1 1523.9,1649.9 1523.9,1643.7 1523.5,1637.6 1525.3,1631.4 1525.8,1625.3 1525.7,1618.9 1527.7,1612.6 1529.0,1606.3 1530.0,1599.9 1530.1,1593.6 1531.9,1587.9 1533.0,1582.1 1531.9,1576.4 1532.7,1570.6 1531.3,1564.9 1534.9,1559.1 1534.7,1553.4 1534.7,1547.6 1534.8,1541.9 1534.8,1536.1 1535.5,1530.3 1535.6,1524.6 1536.0,1518.8 1536.6,1513.1 1537.2,1507.3 1538.7,1501.6 1537.1,1495.8 1538.7,1490.1 1538.6,1484.3 1538.7,1478.1 1538.3,1471.9 1540.9,1465.6 1540.2,1459.4 1540.9,1453.2 1542.2,1446.9 1542.0,1440.8 1543.6,1434.6 1544.3,1428.5 1545.7,1422.3 1546.7,1416.1 1546.2,1410.0 1548.3,1403.8 1548.3,1398.1 1549.2,1392.3 1549.7,1386.5 1551.1,1380.8 1554.0,1372.2 1562.2,1366.4 1563.9,1360.7 1564.0,1354.9 1566.7,1349.2 1565.8,1343.4 1575.1,1334.8 1578.9,1329.7 1583.2,1324.7 1587.1,1319.7 1591.8,1314.6 1598.8,1306.0" fill="none" stroke="#7189AD" stroke-width="3.4" marker-start="url(#mS)" marker-mid="url(#mS)" marker-end="url(#mS)"/>
<polyline points="1633.9,1792.1 1668.4,1777.7 1681.4,1764.7 1691.5,1751.8 1694.3,1738.9 1700.1,1717.3 1713.0,1710.1 1720.2,1700.0 1731.7,1685.7 1736.0,1674.2 1734.6,1659.8 1740.3,1645.4 1741.8,1631.0 1759.0,1619.5 1761.9,1606.6 1773.4,1593.6 1774.9,1579.2 1776.3,1567.7 1779.2,1554.8 1784.9,1540.4 1787.8,1527.5 1792.1,1516.0 1793.6,1501.6 1796.4,1488.6 1797.9,1475.7 1805.1,1462.8 1818.0,1449.8 1822.3,1436.9 1823.2,1423.9 1824.3,1411.0 1826.6,1398.1 1832.4,1383.7 1835.3,1370.7 1841.0,1357.8 1842.4,1344.8 1878.4,1331.9 1902.8,1319.0 1912.9,1306.0" fill="none" stroke="#5BA5D6" stroke-width="3.6" marker-start="url(#mB)" marker-mid="url(#mB)" marker-end="url(#mB)"/>
<polyline points="1621.0,1790.6 1656.9,1777.7 1664.1,1766.2 1680.0,1751.8 1682.8,1738.9 1698.6,1725.9 1701.5,1714.4 1714.5,1701.5 1723.1,1688.5 1727.4,1675.6 1734.6,1662.6 1736.0,1649.7 1740.3,1636.8 1740.3,1623.8 1743.2,1610.9 1746.1,1597.9 1751.9,1585.0 1751.9,1572.1 1756.2,1559.1 1759.0,1546.2 1761.9,1534.7 1779.2,1521.7 1782.1,1508.8 1783.5,1497.3 1786.4,1484.3 1787.8,1471.4 1790.7,1458.4 1797.9,1444.1 1802.2,1431.1 1803.6,1418.2 1807.9,1406.7 1813.7,1393.7 1823.8,1382.2 1826.6,1369.3 1830.9,1357.8 1846.8,1343.4 1848.2,1330.5 1851.1,1317.5 1859.7,1306.0" fill="none" stroke="#8CC2AE" stroke-width="3.6" marker-start="url(#mG)" marker-mid="url(#mG)" marker-end="url(#mG)"/>
<path d="M1068.2 1556.0H1918.7" stroke="#000" stroke-width="2.2" stroke-dasharray="8 4.5" fill="none"/>
<text x="639.8" y="1811.8" font-size="21.8" text-anchor="end">0</text>
<text x="639.8" y="1687.8" font-size="21.8" text-anchor="end">25</text>
<text x="639.8" y="1563.8" font-size="21.8" text-anchor="end">50</text>
<text x="639.8" y="1439.7" font-size="21.8" text-anchor="end">75</text>
<text x="639.8" y="1315.7" font-size="21.8" text-anchor="end">100</text>
<text x="649.7" y="1832.8" font-size="21.8" text-anchor="middle">−3.0</text>
<text x="756.0" y="1832.8" font-size="21.8" text-anchor="middle">−2.5</text>
<text x="862.3" y="1832.8" font-size="21.8" text-anchor="middle">−2.0</text>
<text x="968.6" y="1832.8" font-size="21.8" text-anchor="middle">−1.5</text>
<text x="1068.2" y="1832.8" font-size="21.8" text-anchor="middle">60</text>
<text x="1249.7" y="1832.8" font-size="21.8" text-anchor="middle">120</text>
<text x="1431.2" y="1832.8" font-size="21.8" text-anchor="middle">180</text>
<text x="1513.7" y="1832.8" font-size="21.8" text-anchor="middle">0</text>
<text x="1610.0" y="1832.8" font-size="21.8" text-anchor="middle">100</text>
<text x="1706.4" y="1832.8" font-size="21.8" text-anchor="middle">200</text>
<text x="1802.8" y="1832.8" font-size="21.8" text-anchor="middle">300</text>
<text x="1899.1" y="1832.8" font-size="21.8" text-anchor="middle">400</text>
<path d="M650.6 1283.6H1494.4V1804.2H650.6Z M1067.8 1283.6V1804.2M1494.4 1281.8H1918.7V1804.2H1494.4ZM650.6 1680.2h10M650.6 1556.2h10M650.6 1432.1h10M650.6 1308.1h10M650.6 1742.2h6M650.6 1618.2h6M650.6 1494.1h6M650.6 1370.1h6M1067.8 1742.2h6M1494.4 1742.0h6M1067.8 1680.2h10M1494.4 1679.7h10M1067.8 1618.2h6M1494.4 1617.5h6M1067.8 1556.2h10M1494.4 1555.2h10M1067.8 1494.1h6M1494.4 1493.0h6M1067.8 1432.1h10M1494.4 1430.7h10M1067.8 1370.1h6M1494.4 1368.5h6M1067.8 1308.1h10M1494.4 1306.2h10M756.0 1804.2v-10M862.3 1804.2v-10M968.6 1804.2v-10M702.9 1804.2v-6M809.2 1804.2v-6M915.5 1804.2v-6M1021.8 1804.2v-6M1249.7 1804.2v-10M1431.2 1804.2v-10M1159.0 1804.2v-6M1340.5 1804.2v-6M1513.7 1804.2v-10M1610.0 1804.2v-10M1706.4 1804.2v-10M1802.8 1804.2v-10M1899.1 1804.2v-10M1561.9 1804.2v-6M1658.2 1804.2v-6M1754.6 1804.2v-6M1850.9 1804.2v-6" stroke="#000" stroke-width="2.2" fill="none"/>
<text x="858.0" y="1865.3" font-size="29.5" text-anchor="middle"><tspan font-style="italic">V</tspan><tspan font-size="18" dy="7">TH, CC</tspan><tspan dy="-7"> (V)</tspan></text>
<text x="1281.0" y="1865.3" font-size="29.5" text-anchor="middle"><tspan font-style="italic">SS</tspan> (mV/dec)</text>
<text x="1706.0" y="1865.3" font-size="29.5" text-anchor="middle"><tspan font-style="italic">g</tspan><tspan font-size="18" dy="7">max</tspan><tspan dy="-7"> (μS/μm)</tspan></text>
<text x="603.9" y="1543.2" font-size="29.2" text-anchor="middle" transform="rotate(-90 603.9 1543.2)">Percentage (%)</text>
<text x="896.0" y="1629.3" font-size="27" fill="#495D80">220 Devices</text>
<text x="896.0" y="1661.8" font-size="27" fill="#5BA5D6">158 Devices</text>
<text x="896.0" y="1694.8" font-size="27" fill="#5AA58C">152 Devices</text>
<polyline points="896,1728.3 918,1728.3 939.7,1728.3" stroke="#7189AD" stroke-width="4.2" fill="none" marker-mid="url(#mS)"/>
<text x="946.0" y="1735.1" font-size="19.5">Pristine</text>
<polyline points="896,1752.6 918,1752.6 939.7,1752.6" stroke="#5BA5D6" stroke-width="4.2" fill="none" marker-mid="url(#mB)"/>
<text x="946.0" y="1759.4" font-size="19.5">NO doping</text>
<polyline points="896,1776.5 918,1776.5 939.7,1776.5" stroke="#8CC2AE" stroke-width="4.2" fill="none" marker-mid="url(#mG)"/>
<text x="946.0" y="1783.3" font-size="19.5">After 24 days</text>
<text x="1317.5" y="1594.5" font-size="24">Median SS</text>
<text x="1317.5" y="1625.5" font-size="24">= 104 mv/dec</text>
<text x="1317.5" y="1657.5" font-size="24">Median ΔSS</text>
<text x="1317.5" y="1688.5" font-size="24">= -22 mv/dec</text>
<text x="1558.6" y="1468.0" font-size="24">Prisitine:</text>
<text x="1558.6" y="1498.5" font-size="24">Median g<tspan font-size="17" dy="5">m</tspan></text>
<text x="1558.6" y="1537.5" font-size="24">~ 22 μS/μm</text>
<text x="1752.4" y="1705.0" font-size="24">After doping:</text>
<text x="1752.4" y="1735.0" font-size="24">Median g<tspan font-size="17" dy="5">m</tspan></text>
<text x="1752.4" y="1773.5" font-size="24">= 275 μS/μm</text>
<text x="546.0" y="1272.8" font-size="44" font-weight="bold">j</text>
<clipPath id="cpk"><rect x="91.8" y="1946.9" width="423.9" height="446.3"/></clipPath>
<g clip-path="url(#cpk)" fill="none" stroke-width="3.2" stroke-linejoin="round">
<polyline points="143.7,2368.4 150.0,2373.7 156.3,2378.3 162.6,2382.3 168.9,2385.5 175.3,2387.9 181.6,2389.6 187.9,2390.6 194.2,2391.2 200.5,2391.5 206.8,2391.6 213.1,2391.7 219.4,2391.7 225.7,2391.7 232.0,2391.7 238.3,2391.7 244.6,2391.7 250.9,2391.7 257.2,2391.7 263.5,2391.7 269.8,2391.7 276.1,2391.7 282.4,2391.7 288.7,2391.7 295.0,2391.7 301.3,2391.7 307.6,2391.7 314.0,2391.7 320.3,2391.7 326.6,2391.7 332.9,2391.7 339.2,2391.7 345.5,2391.7 351.8,2391.7 358.1,2391.7 364.4,2391.7 370.7,2391.7 377.0,2391.7 383.3,2391.7 389.6,2391.7 395.9,2391.7 402.2,2391.7 408.5,2391.7 414.8,2391.7 421.1,2391.7 427.4,2391.7 433.7,2391.7 440.0,2391.7 446.3,2391.7 452.7,2391.7 459.0,2391.7 465.3,2391.7 471.6,2391.7 477.9,2391.7 484.2,2391.7 490.5,2391.7 496.8,2391.7 503.1,2391.7 509.4,2391.7 515.7,2391.7" stroke="#7189AD"/>
<polyline points="91.8,2009.2 97.1,2040.9 102.4,2071.3 107.7,2100.2 113.0,2127.9 118.3,2154.1 123.6,2179.0 128.9,2202.4 134.2,2224.6 139.5,2245.3 144.8,2264.6 150.1,2282.6 155.4,2299.2 160.7,2314.5 166.0,2328.3 171.3,2340.7 176.6,2351.8 181.9,2361.4 187.2,2369.6 192.5,2376.3 197.8,2381.6 203.1,2385.6 208.4,2388.3 213.7,2390.0 219.0,2390.9 224.3,2391.4 229.6,2391.6 234.9,2391.7 240.2,2391.7 245.5,2391.7 250.8,2391.7 256.1,2391.7 261.4,2391.7 266.7,2391.7 272.0,2391.7 277.3,2391.7 282.6,2391.7 287.9,2391.7 293.2,2391.7 298.5,2391.7 303.8,2391.7 309.0,2391.7 314.3,2391.7 319.6,2391.7 324.9,2391.7 330.2,2391.7 335.5,2391.7 340.8,2391.7 346.1,2391.7 351.4,2391.7 356.7,2391.7 362.0,2391.7 367.3,2391.7 372.6,2391.7 377.9,2391.7 383.2,2391.7 388.5,2391.7 393.8,2391.7 399.1,2391.7 404.4,2391.7 409.7,2391.7 415.0,2391.7 420.3,2391.7 425.6,2391.7 430.9,2391.7 436.2,2391.7 441.5,2391.7 446.8,2391.7 452.1,2391.7 457.4,2391.7 462.7,2391.7 468.0,2391.7 473.3,2391.7 478.6,2391.7 483.9,2391.7 489.2,2391.7 494.5,2391.7 499.8,2391.7 505.1,2391.7 510.4,2391.7 515.7,2391.7" stroke="#5BA5D6"/>
<polyline points="91.8,2049.2 97.1,2076.1 102.4,2101.8 107.7,2126.5 113.0,2150.0 118.3,2172.5 123.6,2193.9 128.9,2214.1 134.2,2233.3 139.5,2251.4 144.8,2268.4 150.1,2284.3 155.4,2299.0 160.7,2312.7 166.0,2325.3 171.3,2336.8 176.6,2347.1 181.9,2356.3 187.2,2364.4 192.5,2371.3 197.8,2377.1 203.1,2381.8 208.4,2385.4 213.7,2387.9 219.0,2389.6 224.3,2390.6 229.6,2391.2 234.9,2391.5 240.2,2391.6 245.5,2391.7 250.8,2391.7 256.1,2391.7 261.4,2391.7 266.7,2391.7 272.0,2391.7 277.3,2391.7 282.6,2391.7 287.9,2391.7 293.2,2391.7 298.5,2391.7 303.8,2391.7 309.0,2391.7 314.3,2391.7 319.6,2391.7 324.9,2391.7 330.2,2391.7 335.5,2391.7 340.8,2391.7 346.1,2391.7 351.4,2391.7 356.7,2391.7 362.0,2391.7 367.3,2391.7 372.6,2391.7 377.9,2391.7 383.2,2391.7 388.5,2391.7 393.8,2391.7 399.1,2391.7 404.4,2391.7 409.7,2391.7 415.0,2391.7 420.3,2391.7 425.6,2391.7 430.9,2391.7 436.2,2391.7 441.5,2391.7 446.8,2391.7 452.1,2391.7 457.4,2391.7 462.7,2391.7 468.0,2391.7 473.3,2391.7 478.6,2391.7 483.9,2391.7 489.2,2391.7 494.5,2391.7 499.8,2391.7 505.1,2391.7 510.4,2391.7 515.7,2391.7" stroke="#8CC2AE"/>
</g>
<rect x="91.8" y="1946.9" width="423.9" height="444.8" fill="none" stroke="#000" stroke-width="2"/>
<text x="81.8" y="2399.9" font-size="25.5" text-anchor="end">0</text>
<text x="81.8" y="2325.8" font-size="25.5" text-anchor="end">50</text>
<text x="81.8" y="2251.6" font-size="25.5" text-anchor="end">100</text>
<text x="81.8" y="2177.5" font-size="25.5" text-anchor="end">150</text>
<text x="81.8" y="2103.4" font-size="25.5" text-anchor="end">200</text>
<text x="81.8" y="2029.2" font-size="25.5" text-anchor="end">250</text>
<text x="81.8" y="1955.1" font-size="25.5" text-anchor="end">300</text>
<text x="91.8" y="2423.3" font-size="25.5" text-anchor="middle">−4</text>
<text x="197.8" y="2423.3" font-size="25.5" text-anchor="middle">−3</text>
<text x="303.8" y="2423.3" font-size="25.5" text-anchor="middle">−2</text>
<text x="409.7" y="2423.3" font-size="25.5" text-anchor="middle">−1</text>
<text x="515.7" y="2423.3" font-size="25.5" text-anchor="middle">0</text>
<path d="M91.8 2317.6h9M91.8 2243.4h9M91.8 2169.3h9M91.8 2095.2h9M91.8 2021.0h9M197.8 2391.7v-9M303.8 2391.7v-9M409.7 2391.7v-9" stroke="#000" stroke-width="2" fill="none"/>
<text x="304.5" y="2468.0" font-size="30" text-anchor="middle"><tspan font-style="italic">V</tspan><tspan font-size="19.5" dy="8">G</tspan><tspan dy="-8"> (V)</tspan></text>
<text x="22.1" y="2171.3" font-size="30.5" text-anchor="middle" transform="rotate(-90 22.1 2171.3)">|<tspan font-style="italic">I</tspan><tspan font-size="19.5" dy="8">D</tspan><tspan dy="-8">| (μA/μm)</tspan></text>
<line x1="295.5" y1="1972.7" x2="347.7" y2="1972.7" stroke="#7189AD" stroke-width="2.8"/>
<text x="354.6" y="1980.7" font-size="23.5">Pristine</text>
<line x1="295.5" y1="2002.2" x2="347.7" y2="2002.2" stroke="#5BA5D6" stroke-width="2.8"/>
<text x="357.5" y="2010.2" font-size="23.5">NO doping</text>
<line x1="295.5" y1="2031.5" x2="347.7" y2="2031.5" stroke="#8CC2AE" stroke-width="2.8"/>
<text x="354.6" y="2039.5" font-size="23.5">After 24 days</text>
<text x="5.5" y="1918.0" font-size="43.5" font-weight="bold">k</text>
<g fill="#7189AD" stroke="#57698a" stroke-width="0.8"><rect x="664.6" y="2382.8" width="9.9" height="37.8"/><rect x="674.5" y="2417.8" width="9.9" height="2.8"/><rect x="684.4" y="2408.0" width="9.9" height="12.6"/><rect x="694.3" y="2415.7" width="9.9" height="4.9"/><rect x="704.2" y="2388.4" width="9.9" height="32.2"/><rect x="714.1" y="2401.0" width="9.9" height="19.6"/><rect x="724.0" y="2417.1" width="9.9" height="3.5"/><rect x="733.9" y="2414.3" width="9.9" height="6.3"/><rect x="743.8" y="2412.2" width="9.9" height="8.4"/><rect x="753.7" y="2418.5" width="9.9" height="2.1"/><rect x="763.5" y="2414.3" width="9.9" height="6.3"/><rect x="773.4" y="2399.6" width="9.9" height="21.0"/><rect x="783.3" y="2409.4" width="9.9" height="11.2"/><rect x="793.2" y="2408.0" width="9.9" height="12.6"/><rect x="803.1" y="2416.4" width="9.9" height="4.2"/><rect x="813.0" y="2408.0" width="9.9" height="12.6"/><rect x="822.9" y="2418.5" width="9.9" height="2.1"/><rect x="832.8" y="2419.9" width="9.9" height="0.7"/><rect x="842.7" y="2418.5" width="9.9" height="2.1"/><rect x="852.6" y="2402.4" width="9.9" height="18.2"/><rect x="862.4" y="2402.4" width="9.9" height="18.2"/><rect x="872.3" y="2396.8" width="9.9" height="23.8"/><rect x="882.2" y="2417.8" width="9.9" height="2.8"/><rect x="892.1" y="2416.4" width="9.9" height="4.2"/><rect x="902.0" y="2387.7" width="9.9" height="32.9"/><rect x="911.9" y="2405.9" width="9.9" height="14.7"/><rect x="921.8" y="2412.9" width="9.9" height="7.7"/><rect x="931.7" y="2409.4" width="9.9" height="11.2"/><rect x="941.6" y="2411.5" width="9.9" height="9.1"/><rect x="951.5" y="2420.2" width="9.9" height="0.4"/><rect x="961.3" y="2388.4" width="9.9" height="32.2"/><rect x="971.2" y="2406.6" width="9.9" height="14.0"/><rect x="981.1" y="2406.6" width="9.9" height="14.0"/><rect x="991.0" y="2398.2" width="9.9" height="22.4"/><rect x="1010.8" y="2384.9" width="9.9" height="35.7"/><rect x="1020.7" y="2363.2" width="9.9" height="57.4"/><rect x="1030.6" y="2417.8" width="9.9" height="2.8"/><rect x="1040.5" y="2409.4" width="9.9" height="11.2"/><rect x="1050.4" y="2408.0" width="9.9" height="12.6"/><rect x="1060.2" y="2417.1" width="9.9" height="3.5"/><rect x="1070.1" y="2407.3" width="9.9" height="13.3"/><rect x="1080.0" y="2415.7" width="9.9" height="4.9"/><rect x="1089.9" y="2405.2" width="9.9" height="15.4"/><rect x="1099.8" y="2404.5" width="9.9" height="16.1"/><rect x="1109.7" y="2411.5" width="9.9" height="9.1"/><rect x="1119.6" y="2403.8" width="9.9" height="16.8"/><rect x="1129.5" y="2387.0" width="9.9" height="33.6"/><rect x="1139.4" y="2417.1" width="9.9" height="3.5"/><rect x="1149.3" y="2412.2" width="9.9" height="8.4"/><rect x="1159.1" y="2401.0" width="9.9" height="19.6"/></g>
<g fill="#5BA5D6" stroke="#4a7ea3" stroke-width="0.8"><rect x="1169.0" y="2154.6" width="9.9" height="266.0"/><rect x="1178.9" y="1993.6" width="9.9" height="427.0"/><rect x="1188.8" y="2083.2" width="9.9" height="337.4"/><rect x="1198.7" y="2068.5" width="9.9" height="352.1"/><rect x="1208.6" y="2148.0" width="9.9" height="272.6"/><rect x="1218.5" y="2158.8" width="9.9" height="261.8"/><rect x="1228.4" y="2022.0" width="9.9" height="398.6"/><rect x="1238.3" y="2112.6" width="9.9" height="308.0"/><rect x="1248.2" y="2136.4" width="9.9" height="284.2"/><rect x="1258.0" y="2077.6" width="9.9" height="343.0"/><rect x="1267.9" y="1969.8" width="9.9" height="450.8"/><rect x="1277.8" y="2266.6" width="9.9" height="154.0"/><rect x="1287.7" y="2048.2" width="9.9" height="372.4"/><rect x="1297.6" y="2098.6" width="9.9" height="322.0"/><rect x="1307.5" y="2230.2" width="9.9" height="190.4"/><rect x="1317.4" y="2188.2" width="9.9" height="232.4"/><rect x="1327.3" y="2076.8" width="9.9" height="343.8"/><rect x="1337.2" y="2203.6" width="9.9" height="217.0"/><rect x="1347.1" y="2031.4" width="9.9" height="389.2"/><rect x="1356.9" y="2179.8" width="9.9" height="240.8"/><rect x="1366.8" y="2235.8" width="9.9" height="184.8"/><rect x="1376.7" y="1997.1" width="9.9" height="423.5"/><rect x="1386.6" y="2065.0" width="9.9" height="355.6"/><rect x="1396.5" y="2172.8" width="9.9" height="247.8"/><rect x="1406.4" y="2072.4" width="9.9" height="348.2"/><rect x="1416.3" y="2028.6" width="9.9" height="392.0"/><rect x="1426.2" y="2048.2" width="9.9" height="372.4"/><rect x="1436.1" y="2103.5" width="9.9" height="317.1"/><rect x="1446.0" y="2183.3" width="9.9" height="237.3"/><rect x="1455.8" y="2242.8" width="9.9" height="177.8"/><rect x="1465.7" y="2149.4" width="9.9" height="271.2"/><rect x="1475.6" y="2191.0" width="9.9" height="229.6"/><rect x="1485.5" y="2150.4" width="9.9" height="270.2"/><rect x="1495.4" y="2070.6" width="9.9" height="350.0"/><rect x="1505.3" y="2051.0" width="9.9" height="369.6"/><rect x="1515.2" y="2164.4" width="9.9" height="256.2"/><rect x="1525.1" y="2114.0" width="9.9" height="306.6"/><rect x="1535.0" y="2098.6" width="9.9" height="322.0"/></g>
<g fill="#8CC2AE" stroke="#6f9a8a" stroke-width="0.8"><rect x="1544.9" y="2048.9" width="9.9" height="371.7"/><rect x="1554.7" y="2132.9" width="9.9" height="287.7"/><rect x="1564.6" y="2190.3" width="9.9" height="230.3"/><rect x="1574.5" y="2104.9" width="9.9" height="315.7"/><rect x="1584.4" y="2203.6" width="9.9" height="217.0"/><rect x="1594.3" y="2076.9" width="9.9" height="343.7"/><rect x="1604.2" y="2156.0" width="9.9" height="264.6"/><rect x="1614.1" y="2130.8" width="9.9" height="289.8"/><rect x="1624.0" y="2149.7" width="9.9" height="270.9"/><rect x="1633.9" y="2070.6" width="9.9" height="350.0"/><rect x="1643.8" y="2287.6" width="9.9" height="133.0"/><rect x="1653.6" y="2086.0" width="9.9" height="334.6"/><rect x="1663.5" y="2153.9" width="9.9" height="266.7"/><rect x="1673.4" y="2226.0" width="9.9" height="194.6"/><rect x="1683.3" y="2192.4" width="9.9" height="228.2"/><rect x="1693.2" y="2060.8" width="9.9" height="359.8"/><rect x="1703.1" y="2219.7" width="9.9" height="200.9"/><rect x="1713.0" y="2065.0" width="9.9" height="355.6"/><rect x="1722.9" y="2083.2" width="9.9" height="337.4"/><rect x="1732.8" y="2224.6" width="9.9" height="196.0"/><rect x="1742.7" y="2269.4" width="9.9" height="151.2"/><rect x="1752.5" y="2081.0" width="9.9" height="339.6"/><rect x="1762.4" y="2056.6" width="9.9" height="364.0"/><rect x="1772.3" y="2182.6" width="9.9" height="238.0"/><rect x="1782.2" y="2072.0" width="9.9" height="348.6"/><rect x="1792.1" y="1988.0" width="9.9" height="432.6"/><rect x="1802.0" y="2027.8" width="9.9" height="392.8"/><rect x="1811.9" y="2118.2" width="9.9" height="302.4"/><rect x="1821.8" y="2186.8" width="9.9" height="233.8"/><rect x="1831.7" y="2258.9" width="9.9" height="161.7"/><rect x="1841.6" y="2172.8" width="9.9" height="247.8"/><rect x="1851.4" y="2194.2" width="9.9" height="226.4"/><rect x="1861.3" y="2153.2" width="9.9" height="267.4"/><rect x="1871.2" y="2059.4" width="9.9" height="361.2"/><rect x="1881.1" y="2048.2" width="9.9" height="372.4"/><rect x="1891.0" y="2147.6" width="9.9" height="273.0"/><rect x="1900.9" y="2182.6" width="9.9" height="238.0"/><rect x="1910.8" y="2115.8" width="9.9" height="304.8"/><rect x="1920.7" y="2077.9" width="9.9" height="342.7"/></g>
<path d="M664.4 2407.0H1169.0M1169.0 2177.7H1932.5" stroke="#000" stroke-width="1.8" stroke-dasharray="8 4.5" fill="none"/>
<text x="650.9" y="2429.4" font-size="25" text-anchor="end">0</text>
<text x="650.9" y="2358.6" font-size="25" text-anchor="end">50</text>
<text x="650.9" y="2287.9" font-size="25" text-anchor="end">100</text>
<text x="650.9" y="2217.1" font-size="25" text-anchor="end">150</text>
<text x="650.9" y="2146.3" font-size="25" text-anchor="end">200</text>
<text x="650.9" y="2075.5" font-size="25" text-anchor="end">250</text>
<text x="650.9" y="2004.8" font-size="25" text-anchor="end">300</text>
<text x="650.9" y="1934.0" font-size="25" text-anchor="end">350</text>
<text x="857.5" y="2452.5" font-size="25" text-anchor="middle">20</text>
<text x="1055.3" y="2452.5" font-size="25" text-anchor="middle">40</text>
<text x="1253.1" y="2452.5" font-size="25" text-anchor="middle">60</text>
<text x="1450.9" y="2452.5" font-size="25" text-anchor="middle">80</text>
<text x="1648.7" y="2452.5" font-size="25" text-anchor="middle">100</text>
<text x="1846.5" y="2452.5" font-size="25" text-anchor="middle">120</text>
<path d="M664.4 1924.0V2420.6H1951M664.4 2349.8h11M664.4 2279.1h11M664.4 2208.3h11M664.4 2137.5h11M664.4 2066.7h11M664.4 1996.0h11M664.4 1925.2h11M758.6 2420.6v-6M857.5 2420.6v-11M956.4 2420.6v-6M1055.3 2420.6v-11M1154.2 2420.6v-6M1253.1 2420.6v-11M1352.0 2420.6v-6M1450.9 2420.6v-11M1549.8 2420.6v-6M1648.7 2420.6v-11M1747.6 2420.6v-6M1846.5 2420.6v-11M1945.4 2420.6v-6" stroke="#000" stroke-width="2.4" fill="none"/>
<text x="1308.0" y="2482.5" font-size="30" text-anchor="middle">Count</text>
<text x="592.6" y="2171.0" font-size="29.7" text-anchor="middle" transform="rotate(-90 592.6 2171.0)"><tspan font-style="italic">I</tspan><tspan font-size="19" dy="8.3">max</tspan><tspan dy="-8.3"> (μA/μm)</tspan></text>
<rect x="696.5" y="1949.6" width="56.2" height="27.3" fill="#7189AD" stroke="#8a8a8a" stroke-width="0.8"/>
<text x="760.2" y="1971.7" font-size="24">Pristine</text>
<rect x="696.5" y="1980.4" width="56.2" height="27.6" fill="#5BA5D6" stroke="#8a8a8a" stroke-width="0.8"/>
<text x="760.2" y="2002.8" font-size="24">NO doping</text>
<rect x="696.5" y="2011.5" width="56.2" height="27.3" fill="#8CC2AE" stroke="#8a8a8a" stroke-width="0.8"/>
<text x="760.2" y="2033.9" font-size="24">After 24 days</text>
<text x="700.5" y="2111.7" font-size="25" fill="#7189AD">51 Devices</text>
<text x="700.5" y="2142.4" font-size="25" fill="#5BA5D6">38 Devices</text>
<text x="700.5" y="2173.3" font-size="25" fill="#8CC2AE">39 Devices</text>
<text x="700.5" y="2226.0" font-size="25" fill="#444"><tspan font-style="italic">L</tspan><tspan font-size="16" dy="6">CH</tspan><tspan dy="-6"> = 55 nm</tspan></text>
<text x="700.5" y="2262.0" font-size="25" fill="#444"><tspan font-style="italic">V</tspan><tspan font-size="16" dy="6">D</tspan><tspan dy="-6"> = -1V</tspan></text>
<text x="545.0" y="1918.0" font-size="43.5" font-weight="bold">l</text>
</svg>
</body></html>
